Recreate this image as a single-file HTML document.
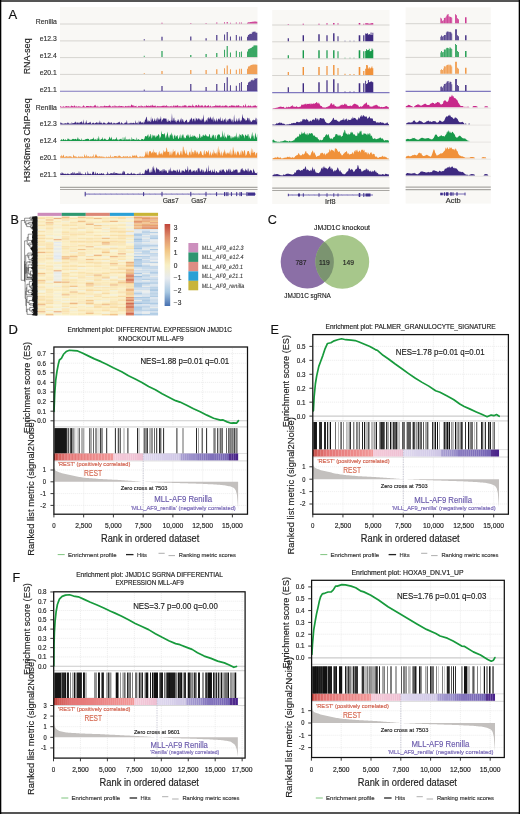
<!DOCTYPE html>
<html><head><meta charset="utf-8"><title>Figure</title>
<style>html,body{margin:0;padding:0;background:#fff;width:520px;height:814px;overflow:hidden}
svg text{font-family:"Liberation Sans", sans-serif}</style></head>
<body><svg width="520" height="814" viewBox="0 0 520 814" style="display:block;will-change:transform"><rect x="60" y="7" width="197.5" height="197" fill="#f9f8f5" />
<line x1="60" y1="24" x2="257.5" y2="24" stroke="#d6d4d0" stroke-width="1" />
<line x1="60" y1="40.9" x2="257.5" y2="40.9" stroke="#d6d4d0" stroke-width="1" />
<line x1="60" y1="57.6" x2="257.5" y2="57.6" stroke="#d6d4d0" stroke-width="1" />
<line x1="60" y1="74.4" x2="257.5" y2="74.4" stroke="#d6d4d0" stroke-width="1" />
<line x1="60" y1="91.3" x2="257.5" y2="91.3" stroke="#8078bf" stroke-width="1.1" />
<line x1="60" y1="108.5" x2="257.5" y2="108.5" stroke="#e2e0dc" stroke-width="0.8" />
<line x1="60" y1="125.3" x2="257.5" y2="125.3" stroke="#e2e0dc" stroke-width="0.8" />
<line x1="60" y1="141.9" x2="257.5" y2="141.9" stroke="#e2e0dc" stroke-width="0.8" />
<line x1="60" y1="158.7" x2="257.5" y2="158.7" stroke="#e2e0dc" stroke-width="0.8" />
<line x1="60" y1="176" x2="257.5" y2="176" stroke="#e2e0dc" stroke-width="0.8" />
<line x1="60" y1="187.3" x2="257.5" y2="187.3" stroke="#a9a7a3" stroke-width="1.2" />
<line x1="60" y1="189.5" x2="257.5" y2="189.5" stroke="#a9a7a3" stroke-width="1.2" />
<rect x="272.2" y="10" width="117.3" height="194" fill="#f9f8f5" />
<line x1="272.2" y1="25" x2="389.5" y2="25" stroke="#d6d4d0" stroke-width="1" />
<line x1="272.2" y1="41.8" x2="389.5" y2="41.8" stroke="#d6d4d0" stroke-width="1" />
<line x1="272.2" y1="58.8" x2="389.5" y2="58.8" stroke="#d6d4d0" stroke-width="1" />
<line x1="272.2" y1="75.5" x2="389.5" y2="75.5" stroke="#d6d4d0" stroke-width="1" />
<line x1="272.2" y1="92.6" x2="389.5" y2="92.6" stroke="#8078bf" stroke-width="1.1" />
<line x1="272.2" y1="109.7" x2="389.5" y2="109.7" stroke="#e2e0dc" stroke-width="0.8" />
<line x1="272.2" y1="126.1" x2="389.5" y2="126.1" stroke="#e2e0dc" stroke-width="0.8" />
<line x1="272.2" y1="143.4" x2="389.5" y2="143.4" stroke="#e2e0dc" stroke-width="0.8" />
<line x1="272.2" y1="160.2" x2="389.5" y2="160.2" stroke="#e2e0dc" stroke-width="0.8" />
<line x1="272.2" y1="177.2" x2="389.5" y2="177.2" stroke="#e2e0dc" stroke-width="0.8" />
<line x1="272.2" y1="188.2" x2="389.5" y2="188.2" stroke="#a9a7a3" stroke-width="1.2" />
<line x1="272.2" y1="190.5" x2="389.5" y2="190.5" stroke="#a9a7a3" stroke-width="1.2" />
<rect x="405.6" y="7.3" width="85.2" height="196.3" fill="#f9f8f5" />
<line x1="405.6" y1="23.7" x2="490.8" y2="23.7" stroke="#d6d4d0" stroke-width="1" />
<line x1="405.6" y1="40.8" x2="490.8" y2="40.8" stroke="#d6d4d0" stroke-width="1" />
<line x1="405.6" y1="57.4" x2="490.8" y2="57.4" stroke="#d6d4d0" stroke-width="1" />
<line x1="405.6" y1="74.3" x2="490.8" y2="74.3" stroke="#d6d4d0" stroke-width="1" />
<line x1="405.6" y1="91.4" x2="490.8" y2="91.4" stroke="#8078bf" stroke-width="1.1" />
<line x1="405.6" y1="108.2" x2="490.8" y2="108.2" stroke="#e2e0dc" stroke-width="0.8" />
<line x1="405.6" y1="125.1" x2="490.8" y2="125.1" stroke="#e2e0dc" stroke-width="0.8" />
<line x1="405.6" y1="142.1" x2="490.8" y2="142.1" stroke="#e2e0dc" stroke-width="0.8" />
<line x1="405.6" y1="159.2" x2="490.8" y2="159.2" stroke="#e2e0dc" stroke-width="0.8" />
<line x1="405.6" y1="176.3" x2="490.8" y2="176.3" stroke="#e2e0dc" stroke-width="0.8" />
<line x1="405.6" y1="187.2" x2="490.8" y2="187.2" stroke="#a9a7a3" stroke-width="1.2" />
<line x1="405.6" y1="189.6" x2="490.8" y2="189.6" stroke="#a9a7a3" stroke-width="1.2" />
<path d="M161.44 23.5h1.12v-0.8h-1.12zM190.24 23.5h1.12v-0.6h-1.12zM205.54 23.5h1.12v-0.6h-1.12zM216.24 23.5h1.12v-1h-1.12zM224.16 23.5h0.88v-1.2h-0.88zM226.68 23.5h1.04v-1.4h-1.04zM229.96 23.5h0.88v-0.8h-0.88zM235.82 23.5h0.96v-1h-0.96zM239.26 23.5h0.88v-1h-0.88zM240.96 23.5h0.88v-1h-0.88zM247 23.5h0.8v-0.75h-0.8zM247.95 23.5h0.8v-1.13h-0.8zM248.9 23.5h0.8v-1.31h-0.8zM249.85 23.5h0.8v-1.38h-0.8zM250.8 23.5h0.8v-1.51h-0.8zM251.75 23.5h0.8v-1.67h-0.8zM252.7 23.5h0.8v-1.65h-0.8zM253.65 23.5h0.8v-1.9h-0.8zM254.6 23.5h0.8v-2.02h-0.8zM255.55 23.5h0.8v-2.1h-0.8zM256.5 23.5h0.8v-1.77h-0.8z" fill="#c8288a" stroke="none" stroke-width="1" />
<path d="M143.8 40.4h0.8v-1.3h-0.8zM161.44 40.4h1.12v-3.6h-1.12zM190.24 40.4h1.12v-4h-1.12zM205.54 40.4h1.12v-2.2h-1.12zM216.24 40.4h1.12v-5.4h-1.12zM224.16 40.4h0.88v-6h-0.88zM226.68 40.4h1.04v-8.4h-1.04zM229.96 40.4h0.88v-3.9h-0.88zM235.82 40.4h0.96v-5.4h-0.96zM239.26 40.4h0.88v-3.9h-0.88zM240.96 40.4h0.88v-3.9h-0.88zM247 40.4h0.8v-3.75h-0.8zM247.95 40.4h0.8v-5.38h-0.8zM248.9 40.4h0.8v-6.11h-0.8zM249.85 40.4h0.8v-6.58h-0.8zM250.8 40.4h0.8v-6.48h-0.8zM251.75 40.4h0.8v-7.97h-0.8zM252.7 40.4h0.8v-8.54h-0.8zM253.65 40.4h0.8v-8.61h-0.8zM254.6 40.4h0.8v-8.81h-0.8zM255.55 40.4h0.8v-7.98h-0.8zM256.5 40.4h0.8v-7.73h-0.8z" fill="#3e2a80" stroke="none" stroke-width="1" />
<path d="M143.8 57.1h0.8v-1.3h-0.8zM161.44 57.1h1.12v-6h-1.12zM190.24 57.1h1.12v-2h-1.12zM205.54 57.1h1.12v-3h-1.12zM216.24 57.1h1.12v-4.2h-1.12zM224.16 57.1h0.88v-7.3h-0.88zM226.68 57.1h1.04v-11h-1.04zM229.96 57.1h0.88v-4.7h-0.88zM235.82 57.1h0.96v-6.3h-0.96zM239.26 57.1h0.88v-5.2h-0.88zM240.96 57.1h0.88v-5.7h-0.88zM247 57.1h0.8v-5.62h-0.8zM247.95 57.1h0.8v-7.91h-0.8zM248.9 57.1h0.8v-8.4h-0.8zM249.85 57.1h0.8v-8.89h-0.8zM250.8 57.1h0.8v-9.13h-0.8zM251.75 57.1h0.8v-10.11h-0.8zM252.7 57.1h0.8v-10.6h-0.8zM253.65 57.1h0.8v-11.86h-0.8zM254.6 57.1h0.8v-11.54h-0.8zM255.55 57.1h0.8v-11.78h-0.8zM256.5 57.1h0.8v-11.5h-0.8z" fill="#18994a" stroke="none" stroke-width="1" />
<path d="M143.8 73.9h0.8v-1h-0.8zM161.44 73.9h1.12v-3h-1.12zM190.24 73.9h1.12v-4h-1.12zM205.54 73.9h1.12v-4h-1.12zM216.24 73.9h1.12v-4.7h-1.12zM224.16 73.9h0.88v-5.7h-0.88zM226.68 73.9h1.04v-8.4h-1.04zM229.96 73.9h0.88v-4.7h-0.88zM235.82 73.9h0.96v-4.2h-0.96zM239.26 73.9h0.88v-5.2h-0.88zM240.96 73.9h0.88v-5.2h-0.88zM247 73.9h0.8v-5.25h-0.8zM247.95 73.9h0.8v-7.36h-0.8zM248.9 73.9h0.8v-7.66h-0.8zM249.85 73.9h0.8v-8.4h-0.8zM250.8 73.9h0.8v-8.86h-0.8zM251.75 73.9h0.8v-9.18h-0.8zM252.7 73.9h0.8v-9.47h-0.8zM253.65 73.9h0.8v-9.37h-0.8zM254.6 73.9h0.8v-9.42h-0.8zM255.55 73.9h0.8v-9.5h-0.8zM256.5 73.9h0.8v-9.2h-0.8z" fill="#f0913a" stroke="none" stroke-width="1" />
<path d="M143.8 90.9h0.8v-1.4h-0.8zM161.44 90.9h1.12v-5h-1.12zM190.24 90.9h1.12v-7h-1.12zM205.54 90.9h1.12v-4h-1.12zM216.24 90.9h1.12v-7h-1.12zM224.16 90.9h0.88v-7.8h-0.88zM226.68 90.9h1.04v-13.6h-1.04zM229.96 90.9h0.88v-5.7h-0.88zM235.82 90.9h0.96v-5.2h-0.96zM239.26 90.9h0.88v-8h-0.88zM240.96 90.9h0.88v-9h-0.88zM247 90.9h0.8v-6h-0.8zM247.95 90.9h0.8v-8.51h-0.8zM248.9 90.9h0.8v-9.25h-0.8zM249.85 90.9h0.8v-9.51h-0.8zM250.8 90.9h0.8v-10.62h-0.8zM251.75 90.9h0.8v-11.12h-0.8zM252.7 90.9h0.8v-10.39h-0.8zM253.65 90.9h0.8v-11.18h-0.8zM254.6 90.9h0.8v-12.82h-0.8zM255.55 90.9h0.8v-11.94h-0.8zM256.5 90.9h0.8v-12.96h-0.8z" fill="#3e2a80" stroke="none" stroke-width="1" />
<path d="M287.7 24.5h1.2v-0.5h-1.2zM302.6 24.5h1.4v-0.8h-1.4zM318.3 24.5h1.4v-0.8h-1.4zM326.4 24.5h1.2v-1.2h-1.2zM333.1 24.5h1.4v-1.5h-1.4zM337.5 24.5h1v-1.2h-1zM358.7 24.5h1.6v-1.5h-1.6zM363.2 24.5h1.2v-0.8h-1.2zM365.2 24.5h0.9v-1.18h-0.9zM366.1 24.5h0.9v-1.33h-0.9zM367 24.5h0.9v-1.33h-0.9zM367.9 24.5h0.9v-0.91h-0.9zM368.8 24.5h0.9v-0.81h-0.9zM369.7 24.5h0.9v-1.1h-0.9zM370.6 24.5h0.9v-1.02h-0.9zM371.5 24.5h0.9v-1.45h-0.9zM372.4 24.5h0.9v-1.35h-0.9z" fill="#c8288a" stroke="none" stroke-width="1" />
<path d="M287.7 41.3h1.2v-3h-1.2zM302.6 41.3h1.4v-6h-1.4zM318.3 41.3h1.4v-7h-1.4zM326.4 41.3h1.2v-6h-1.2zM333.1 41.3h1.4v-8h-1.4zM337.5 41.3h1v-5h-1zM344.5 41.3h1v-0.6h-1zM349.5 41.3h1v-0.6h-1zM353.5 41.3h1v-0.6h-1zM358.7 41.3h1.6v-6h-1.6zM363.2 41.3h1.2v-6h-1.2zM365.2 41.3h0.9v-7.8h-0.9zM366.1 41.3h0.9v-7.67h-0.9zM367 41.3h0.9v-7.98h-0.9zM367.9 41.3h0.9v-6.44h-0.9zM368.8 41.3h0.9v-7.32h-0.9zM369.7 41.3h0.9v-6.49h-0.9zM370.6 41.3h0.9v-8.72h-0.9zM371.5 41.3h0.9v-6.18h-0.9zM372.4 41.3h0.9v-8.46h-0.9z" fill="#3e2a80" stroke="none" stroke-width="1" />
<path d="M287.7 58.3h1.2v-3h-1.2zM302.6 58.3h1.4v-8h-1.4zM318.3 58.3h1.4v-8h-1.4zM326.4 58.3h1.2v-8h-1.2zM333.1 58.3h1.4v-8h-1.4zM337.5 58.3h1v-7h-1zM344.5 58.3h1v-0.6h-1zM349.5 58.3h1v-0.6h-1zM353.5 58.3h1v-0.6h-1zM358.7 58.3h1.6v-8h-1.6zM363.2 58.3h1.2v-7h-1.2zM365.2 58.3h0.9v-7.22h-0.9zM366.1 58.3h0.9v-9.06h-0.9zM367 58.3h0.9v-8.01h-0.9zM367.9 58.3h0.9v-8.21h-0.9zM368.8 58.3h0.9v-9.53h-0.9zM369.7 58.3h0.9v-7.06h-0.9zM370.6 58.3h0.9v-7.18h-0.9zM371.5 58.3h0.9v-9.75h-0.9zM372.4 58.3h0.9v-8.53h-0.9z" fill="#18994a" stroke="none" stroke-width="1" />
<path d="M287.7 75h1.2v-3h-1.2zM302.6 75h1.4v-8h-1.4zM318.3 75h1.4v-8h-1.4zM326.4 75h1.2v-9h-1.2zM333.1 75h1.4v-10h-1.4zM337.5 75h1v-7h-1zM344.5 75h1v-1.2h-1zM349.5 75h1v-1h-1zM353.5 75h1v-1h-1zM358.7 75h1.6v-8h-1.6zM363.2 75h1.2v-4h-1.2zM365.2 75h0.9v-6.36h-0.9zM366.1 75h0.9v-9.95h-0.9zM367 75h0.9v-9.79h-0.9zM367.9 75h0.9v-6.45h-0.9zM368.8 75h0.9v-7.69h-0.9zM369.7 75h0.9v-6.54h-0.9zM370.6 75h0.9v-7.25h-0.9zM371.5 75h0.9v-8.49h-0.9zM372.4 75h0.9v-6.65h-0.9z" fill="#f0913a" stroke="none" stroke-width="1" />
<path d="M287.7 92.2h1.2v-5h-1.2zM302.6 92.2h1.4v-9h-1.4zM318.3 92.2h1.4v-10h-1.4zM326.4 92.2h1.2v-12h-1.2zM333.1 92.2h1.4v-13h-1.4zM337.5 92.2h1v-9h-1zM344.5 92.2h1v-0.6h-1zM349.5 92.2h1v-0.6h-1zM353.5 92.2h1v-0.6h-1zM358.7 92.2h1.6v-9h-1.6zM363.2 92.2h1.2v-9h-1.2zM365.2 92.2h0.9v-11.48h-0.9zM366.1 92.2h0.9v-8.26h-0.9zM367 92.2h0.9v-8.86h-0.9zM367.9 92.2h0.9v-12.08h-0.9zM368.8 92.2h0.9v-10h-0.9zM369.7 92.2h0.9v-10.09h-0.9zM370.6 92.2h0.9v-10.98h-0.9zM371.5 92.2h0.9v-10.38h-0.9zM372.4 92.2h0.9v-9.92h-0.9z" fill="#3e2a80" stroke="none" stroke-width="1" />
<path d="M440.23 23.2h0.55v-5.33h-0.55zM441.05 23.2h0.8v-4.76h-0.8zM442 23.2h0.8v-2.38h-0.8zM443.08 23.2h0.55v-2.93h-0.55zM443.9 23.2h0.8v-5.27h-0.8zM444.85 23.2h0.8v-5.75h-0.8zM445.93 23.2h0.55v-6.98h-0.55zM446.75 23.2h0.8v-8.4h-0.8zM447.7 23.2h0.8v-9.12h-0.8zM448.78 23.2h0.55v-6.96h-0.55zM449.6 23.2h0.8v-6.51h-0.8zM450.55 23.2h0.8v-6.17h-0.8zM451.62 23.2h0.55v-5.37h-0.55zM455.2 23.2h0.8v-9h-0.8zM456.15 23.2h0.8v-8h-0.8zM457.1 23.2h0.8v-5h-0.8zM458.05 23.2h0.8v-4h-0.8zM465.1 23.2h1.4v-6h-1.4z" fill="#c8288a" stroke="none" stroke-width="1" />
<path d="M440.23 40.3h0.55v-3.66h-0.55zM441.05 40.3h0.8v-4.88h-0.8zM442 40.3h0.8v-3.77h-0.8zM443.08 40.3h0.55v-4.26h-0.55zM443.9 40.3h0.8v-5.35h-0.8zM444.85 40.3h0.8v-5.23h-0.8zM445.93 40.3h0.55v-7.85h-0.55zM446.75 40.3h0.8v-8.74h-0.8zM447.7 40.3h0.8v-8.74h-0.8zM448.78 40.3h0.55v-8.28h-0.55zM449.6 40.3h0.8v-8.66h-0.8zM450.55 40.3h0.8v-7.94h-0.8zM451.62 40.3h0.55v-6.78h-0.55zM455.2 40.3h0.8v-11h-0.8zM456.15 40.3h0.8v-11h-0.8zM457.1 40.3h0.8v-5h-0.8zM458.05 40.3h0.8v-4h-0.8zM465.1 40.3h1.4v-5h-1.4z" fill="#3e2a80" stroke="none" stroke-width="1" />
<path d="M440.23 56.9h0.55v-4.44h-0.55zM441.05 56.9h0.8v-5.86h-0.8zM442 56.9h0.8v-4.62h-0.8zM443.08 56.9h0.55v-4.82h-0.55zM443.9 56.9h0.8v-7.48h-0.8zM444.85 56.9h0.8v-7.32h-0.8zM445.93 56.9h0.55v-8.59h-0.55zM446.75 56.9h0.8v-9.14h-0.8zM447.7 56.9h0.8v-8.97h-0.8zM448.78 56.9h0.55v-8.24h-0.55zM449.6 56.9h0.8v-9.73h-0.8zM450.55 56.9h0.8v-8.73h-0.8zM451.62 56.9h0.55v-7.98h-0.55zM455.2 56.9h0.8v-13h-0.8zM456.15 56.9h0.8v-12h-0.8zM457.1 56.9h0.8v-6h-0.8zM458.05 56.9h0.8v-5h-0.8zM465.1 56.9h1.4v-6h-1.4z" fill="#18994a" stroke="none" stroke-width="1" />
<path d="M440.23 73.8h0.55v-3.81h-0.55zM441.05 73.8h0.8v-4.67h-0.8zM442 73.8h0.8v-3.85h-0.8zM443.08 73.8h0.55v-5.22h-0.55zM443.9 73.8h0.8v-7.61h-0.8zM444.85 73.8h0.8v-7.33h-0.8zM445.93 73.8h0.55v-8.33h-0.55zM446.75 73.8h0.8v-8.8h-0.8zM447.7 73.8h0.8v-9.28h-0.8zM448.78 73.8h0.55v-8.44h-0.55zM449.6 73.8h0.8v-9.19h-0.8zM450.55 73.8h0.8v-8.47h-0.8zM451.62 73.8h0.55v-7.27h-0.55zM455.2 73.8h0.8v-12h-0.8zM456.15 73.8h0.8v-12h-0.8zM457.1 73.8h0.8v-6h-0.8zM458.05 73.8h0.8v-5h-0.8zM465.1 73.8h1.4v-6h-1.4z" fill="#f0913a" stroke="none" stroke-width="1" />
<path d="M440.23 91h0.55v-4.35h-0.55zM441.05 91h0.8v-4.62h-0.8zM442 91h0.8v-3.54h-0.8zM443.08 91h0.55v-5.31h-0.55zM443.9 91h0.8v-7.03h-0.8zM444.85 91h0.8v-7.24h-0.8zM445.93 91h0.55v-8.18h-0.55zM446.75 91h0.8v-9.48h-0.8zM447.7 91h0.8v-9.93h-0.8zM448.78 91h0.55v-8.18h-0.55zM449.6 91h0.8v-9.58h-0.8zM450.55 91h0.8v-8.91h-0.8zM451.62 91h0.55v-6.85h-0.55zM455.2 91h0.8v-12h-0.8zM456.15 91h0.8v-12h-0.8zM457.1 91h0.8v-6h-0.8zM458.05 91h0.8v-5h-0.8zM465.1 91h1.4v-6h-1.4z" fill="#3e2a80" stroke="none" stroke-width="1" />
<path d="M60.3 107.6L60.3 106.08L60.85 106.04L61.4 106.94L61.95 106.63L62.5 106.77L63.05 106.75L63.6 106.02L64.15 106.99L64.7 106.77L65.25 106.46L65.8 106.34L66.35 106.07L66.9 106.37L67.45 106.42L68 106.22L68.55 106.14L69.1 106.3L69.65 106.8L70.2 106.94L70.75 106.25L71.3 105.3L71.85 106.37L72.4 105.88L72.95 106.21L73.5 106.81L74.05 105.4L74.6 105.55L75.15 106.35L75.7 106.77L76.25 106.75L76.8 105.82L77.35 106.77L77.9 106.67L78.45 106.33L79 106.23L79.55 106.58L80.1 106.78L80.65 106.58L81.2 107L81.75 106.79L82.3 106.81L82.85 106.25L83.4 105L83.95 106.31L84.5 106.15L85.05 106.98L85.6 106.89L86.15 106.09L86.7 106.12L87.25 106L87.8 106.06L88.35 106.06L88.9 106.34L89.45 106.39L90 105.98L90.55 105.84L91.1 106.72L91.65 105.94L92.2 105.94L92.75 106.89L93.3 105.88L93.85 106.76L94.4 104.79L94.95 106.11L95.5 104.53L96.05 106.54L96.6 106.74L97.15 105.39L97.7 106.79L98.25 106.8L98.8 106.38L99.35 106.95L99.9 106.57L100.45 106.31L101 106.61L101.55 106.07L102.1 106.88L102.65 106L103.2 106.6L103.75 106.17L104.3 105.97L104.85 105.22L105.4 106.36L105.95 106.25L106.5 106.08L107.05 105.91L107.6 106.22L108.15 106.15L108.7 105.84L109.25 106.05L109.8 104.54L110.35 106.14L110.9 106.24L111.45 106.75L112 106.87L112.55 105.85L113.1 106.71L113.65 106.37L114.2 104.89L114.75 106.96L115.3 105.24L115.85 106.68L116.4 105.88L116.95 106.58L117.5 106.54L118.05 106.09L118.6 106.47L119.15 105.27L119.7 106.52L120.25 106.37L120.8 106.05L121.35 105.92L121.9 106.02L122.45 106.38L123 105.88L123.55 106.47L124.1 106.82L124.65 106.79L125.2 105.8L125.75 106.33L126.3 106.05L126.85 106.66L127.4 105.81L127.95 106.67L128.5 105.96L129.05 105.46L129.6 106.45L130.15 106.6L130.7 106.34L131.25 104.61L131.8 104.81L132.35 105.04L132.9 106.04L133.45 104.97L134 106.94L134.55 105.85L135.1 106.11L135.65 106.13L136.2 105.42L136.75 106.88L137.3 106.81L137.85 106.91L138.4 105.8L138.95 106.26L139.5 105.83L140.05 106.96L140.6 105.96L141.15 105.03L141.7 106.44L142.25 106.14L142.8 106.01L143.35 106.8L143.9 106.31L144.45 106.41L145 105.62L145.55 106.77L146.1 106.08L146.65 105.09L147.2 105.92L147.75 105.95L148.3 105.32L148.85 106.39L149.4 105.71L149.95 106.36L150.5 105.04L151.05 106.65L151.6 105.39L152.15 104.44L152.7 105.43L153.25 106.33L153.8 105.46L154.35 105.86L154.9 105.97L155.45 105.32L156 106.66L156.55 106.73L157.1 105.67L157.65 106.35L158.2 105.94L158.75 106.55L159.3 106.28L159.85 106.28L160.4 106.07L160.95 106.72L161.5 106.01L162.05 105.91L162.6 105.71L163.15 105.71L163.7 105.69L164.25 105.33L164.8 106.58L165.35 105.93L165.9 105.85L166.45 104.83L167 106.71L167.55 105.7L168.1 106.68L168.65 105.98L169.2 106.83L169.75 106.28L170.3 106.06L170.85 106.49L171.4 106.42L171.95 105.5L172.5 106.74L173.05 106.45L173.6 105.2L174.15 105.15L174.7 106.69L175.25 105.55L175.8 105.79L176.35 105.59L176.9 106.24L177.45 105.04L178 105.34L178.55 106.38L179.1 106.48L179.65 105.66L180.2 106.76L180.75 105.63L181.3 106.33L181.85 106.81L182.4 105.26L182.95 106.69L183.5 105.66L184.05 105.21L184.6 105.53L185.15 105.15L185.7 105.16L186.25 106.75L186.8 105.34L187.35 106.74L187.9 106.49L188.45 105.56L189 106L189.55 105.54L190.1 106L190.65 105.76L191.2 105.85L191.75 106.74L192.3 103.7L192.85 106.22L193.4 105.74L193.95 105.8L194.5 106.69L195.05 106.45L195.6 105.24L196.15 105.07L196.7 105.35L197.25 105.66L197.8 106.51L198.35 104.21L198.9 105.33L199.45 105.56L200 106.64L200.55 105.87L201.1 105.15L201.65 105.49L202.2 106.3L202.75 104.83L203.3 106.58L203.85 106.77L204.4 105.92L204.95 105.03L205.5 105.31L206.05 105.91L206.6 106.46L207.15 106.09L207.7 105.77L208.25 105.22L208.8 105.3L209.35 106.41L209.9 106.82L210.45 105.16L211 106.5L211.55 106.73L212.1 106.53L212.65 106.21L213.2 106.6L213.75 106.1L214.3 105.98L214.85 106.36L215.4 104.5L215.95 106.61L216.5 105.59L217.05 105.36L217.6 105.98L218.15 105.36L218.7 106.23L219.25 105.72L219.8 105.32L220.35 105.32L220.9 106.67L221.45 106.2L222 105.87L222.55 105.41L223.1 106.67L223.65 105.56L224.2 106.33L224.75 105.68L225.3 104.96L225.85 105.73L226.4 105.69L226.95 105.33L227.5 106.16L228.05 106.65L228.6 106.5L229.15 106.02L229.7 105.8L230.25 106.42L230.8 105.5L231.35 105.31L231.9 105.62L232.45 105.17L233 106L233.55 105.58L234.1 105.53L234.65 105.69L235.2 106.63L235.75 105.69L236.3 105.48L236.85 105.38L237.4 106.26L237.95 104.87L238.5 105.6L239.05 105.13L239.6 106.49L240.15 106.42L240.7 106.06L241.25 106.34L241.8 106.53L242.35 106.69L242.9 106.29L243.45 104.68L244 105.87L244.55 106.76L245.1 105.74L245.65 103.62L246.2 106.15L246.75 106.78L247.3 105.67L247.85 106.76L248.4 105.56L248.95 105.22L249.5 106.61L250.05 105.73L250.6 105.2L251.15 106.82L251.7 105.95L252.25 106.71L252.8 105.8L253.35 106.23L253.9 105.25L254.45 105.7L255 105.58L255.55 105.35L256.1 106.02L256.65 106.43L257.2 105.4L257.2 107.6z" fill="#c8288a" stroke="none" stroke-width="1" />
<path d="M60.3 124.4L60.3 122.9L60.85 122.22L61.4 123.1L61.95 123.54L62.5 123.41L63.05 123.55L63.6 123.8L64.15 123.76L64.7 123.27L65.25 123.35L65.8 123.21L66.35 123.16L66.9 123.72L67.45 122.72L68 122.37L68.55 123.25L69.1 123.21L69.65 123.91L70.2 122.98L70.75 123.88L71.3 123.9L71.85 122.05L72.4 123.8L72.95 122.71L73.5 123.28L74.05 123.08L74.6 122.38L75.15 122.39L75.7 121.33L76.25 123.86L76.8 122.25L77.35 122.44L77.9 122.68L78.45 122.5L79 123.67L79.55 122.53L80.1 122.35L80.65 122.35L81.2 122.24L81.75 120.92L82.3 122.71L82.85 123.82L83.4 119.21L83.95 123.48L84.5 123.72L85.05 122.33L85.6 123.75L86.15 119.77L86.7 122.41L87.25 122.92L87.8 123.5L88.35 122.76L88.9 122.98L89.45 122.27L90 122.73L90.55 121.53L91.1 123.8L91.65 123.71L92.2 123.27L92.75 122.75L93.3 122.71L93.85 122.75L94.4 123.7L94.95 123.36L95.5 122.63L96.05 123.15L96.6 122.09L97.15 122.17L97.7 123.15L98.25 123.45L98.8 122.25L99.35 123.1L99.9 120.19L100.45 123.12L101 122.84L101.55 122.61L102.1 123.81L102.65 123.45L103.2 122.7L103.75 122.52L104.3 122.64L104.85 122.66L105.4 123.45L105.95 123.54L106.5 123.75L107.05 123.58L107.6 122.64L108.15 122.75L108.7 121.51L109.25 123.01L109.8 122.3L110.35 123.52L110.9 122.27L111.45 122.28L112 122.9L112.55 123.69L113.1 123.85L113.65 122.67L114.2 122.86L114.75 123.21L115.3 123.82L115.85 122.99L116.4 123.4L116.95 122.65L117.5 122.94L118.05 122.42L118.6 122.59L119.15 121.46L119.7 122.34L120.25 123.57L120.8 123.63L121.35 122.29L121.9 122.59L122.45 123.58L123 123.53L123.55 123.86L124.1 123.69L124.65 122.75L125.2 122.72L125.75 122.53L126.3 122.83L126.85 119.75L127.4 123.76L127.95 123.27L128.5 123.84L129.05 122.64L129.6 123.7L130.15 122.45L130.7 123.59L131.25 122.52L131.8 123.45L132.35 122.64L132.9 123.42L133.45 122.59L134 123.06L134.55 123.18L135.1 123.84L135.65 119.93L136.2 123.42L136.75 122.82L137.3 122.26L137.85 123.68L138.4 123.81L138.95 120.19L139.5 122.36L140.05 122.49L140.6 120.71L141.15 122.4L141.7 122.66L142.25 122.23L142.8 122.58L143.35 123.82L143.9 121.13L144.45 122.66L145 119.73L145.55 119.7L146.1 117.51L146.65 116.58L147.2 119.74L147.75 122.09L148.3 120.06L148.85 121.97L149.4 120.46L149.95 121.81L150.5 122.32L151.05 116.33L151.6 121.9L152.15 118L152.7 118.89L153.25 121.41L153.8 121.01L154.35 119.63L154.9 118.01L155.45 121.02L156 121.15L156.55 117.73L157.1 121.88L157.65 116.78L158.2 120.4L158.75 118.07L159.3 120.35L159.85 118.48L160.4 119.1L160.95 115.69L161.5 122.04L162.05 120.56L162.6 119.45L163.15 119.07L163.7 117.96L164.25 118.34L164.8 118.83L165.35 118.91L165.9 118.1L166.45 119.01L167 121.92L167.55 121.8L168.1 118.69L168.65 121.46L169.2 121.01L169.75 120.39L170.3 122.51L170.85 120.13L171.4 120.77L171.95 113.24L172.5 120.23L173.05 121.26L173.6 118.23L174.15 117.6L174.7 121.2L175.25 119.63L175.8 121.95L176.35 122.57L176.9 120.51L177.45 121.22L178 118.75L178.55 120.01L179.1 121.52L179.65 122.59L180.2 118.33L180.75 120.96L181.3 117.54L181.85 122.29L182.4 119.4L182.95 118.98L183.5 121.19L184.05 122.28L184.6 122.2L185.15 120.68L185.7 120.93L186.25 119.66L186.8 119.81L187.35 122.33L187.9 122.61L188.45 122.13L189 121.86L189.55 121.22L190.1 118.38L190.65 120.26L191.2 118.14L191.75 117.51L192.3 121.88L192.85 119.06L193.4 118.94L193.95 118.28L194.5 121.74L195.05 116.92L195.6 121.82L196.15 118.88L196.7 118.02L197.25 118.64L197.8 120.47L198.35 118.35L198.9 118.44L199.45 118.65L200 120.54L200.55 120.27L201.1 118.19L201.65 121.37L202.2 118.16L202.75 120.32L203.3 114.25L203.85 118.86L204.4 122.69L204.95 120.95L205.5 122.07L206.05 119.47L206.6 120.09L207.15 122.12L207.7 118.1L208.25 118.64L208.8 116.84L209.35 118.15L209.9 119.53L210.45 116.2L211 118.06L211.55 118.91L212.1 120.61L212.65 116.83L213.2 122.39L213.75 116.06L214.3 121.27L214.85 118.59L215.4 121.9L215.95 120.38L216.5 117.68L217.05 121.93L217.6 120.46L218.15 119.2L218.7 118.38L219.25 118.55L219.8 120.17L220.35 116.56L220.9 121.23L221.45 120.48L222 121.62L222.55 117.77L223.1 121.76L223.65 120.56L224.2 119.03L224.75 120.1L225.3 117.61L225.85 121.38L226.4 122.53L226.95 118.99L227.5 120.47L228.05 121.39L228.6 119.07L229.15 119.18L229.7 118.43L230.25 118.57L230.8 119.64L231.35 122.01L231.9 118.89L232.45 120.08L233 122.63L233.55 121.31L234.1 114.2L234.65 120.25L235.2 121.93L235.75 121.25L236.3 120.55L236.85 118.04L237.4 120.91L237.95 121.78L238.5 119.14L239.05 117.47L239.6 120.01L240.15 122.22L240.7 120.17L241.25 120.75L241.8 119.64L242.35 113.82L242.9 117.28L243.45 118.47L244 117.79L244.55 119.8L245.1 118.67L245.65 121.09L246.2 120.09L246.75 120.73L247.3 118.13L247.85 117.59L248.4 118.18L248.95 120.73L249.5 117.42L250.05 122.41L250.6 119.7L251.15 121.9L251.7 121.83L252.25 120.63L252.8 120.02L253.35 119.44L253.9 120.57L254.45 119.99L255 120.16L255.55 117.34L256.1 122.41L256.65 117.58L257.2 119.59L257.2 124.4z" fill="#3e2a80" stroke="none" stroke-width="1" />
<path d="M60.3 141L60.3 140.21L60.85 140.17L61.4 139.35L61.95 139.34L62.5 140.41L63.05 139.33L63.6 138.85L64.15 139.78L64.7 140.25L65.25 139.2L65.8 139.66L66.35 140.07L66.9 140.22L67.45 139.31L68 138.1L68.55 139.2L69.1 139.09L69.65 139.74L70.2 140.18L70.75 139.39L71.3 139.68L71.85 139.67L72.4 138.83L72.95 139.29L73.5 138.72L74.05 139.32L74.6 139.21L75.15 139.1L75.7 138.78L76.25 139.49L76.8 139.5L77.35 138.74L77.9 137.08L78.45 138.84L79 140.01L79.55 138.73L80.1 139.65L80.65 140.08L81.2 140.22L81.75 138L82.3 140.21L82.85 140.21L83.4 139.9L83.95 139.72L84.5 140.14L85.05 139.1L85.6 139.62L86.15 138.94L86.7 138.91L87.25 138.49L87.8 139.01L88.35 138.92L88.9 138.77L89.45 140.48L90 140.08L90.55 139.18L91.1 139.17L91.65 139.3L92.2 138.93L92.75 139.03L93.3 137.25L93.85 138.71L94.4 139.65L94.95 139.59L95.5 138.7L96.05 140.24L96.6 139.64L97.15 137.75L97.7 139.96L98.25 138.76L98.8 135.84L99.35 139.08L99.9 140.43L100.45 139.45L101 139.61L101.55 138.8L102.1 139.18L102.65 136.73L103.2 140.29L103.75 139.28L104.3 138.62L104.85 138.66L105.4 138.84L105.95 139.86L106.5 139.82L107.05 140.04L107.6 140.11L108.15 139.2L108.7 139.58L109.25 137.61L109.8 136.44L110.35 138.63L110.9 138.64L111.45 136.43L112 138.9L112.55 139.67L113.1 139.78L113.65 138.67L114.2 139.89L114.75 139.1L115.3 139.21L115.85 138.91L116.4 136.87L116.95 138.89L117.5 139.99L118.05 138.75L118.6 140.45L119.15 140.08L119.7 138.95L120.25 139.2L120.8 138.67L121.35 138.77L121.9 140.03L122.45 140.17L123 136.59L123.55 139.68L124.1 140.37L124.65 137.78L125.2 136.29L125.75 140.33L126.3 139.8L126.85 138.82L127.4 139.94L127.95 138.95L128.5 139.3L129.05 140.13L129.6 138.71L130.15 138.9L130.7 140.46L131.25 139.96L131.8 136.75L132.35 139.79L132.9 138.91L133.45 139.1L134 139.33L134.55 139.8L135.1 139.28L135.65 140.04L136.2 140.19L136.75 137.14L137.3 139.85L137.85 140.04L138.4 138.66L138.95 139.8L139.5 139.74L140.05 140.2L140.6 139.88L141.15 139.45L141.7 138.63L142.25 139.09L142.8 139.08L143.35 140.12L143.9 139.06L144.45 138.65L145 136.39L145.55 135.89L146.1 136.06L146.65 136.63L147.2 135.98L147.75 134.74L148.3 134.27L148.85 138.18L149.4 135.39L149.95 137.2L150.5 133.85L151.05 134.43L151.6 138.68L152.15 137.48L152.7 134.25L153.25 136.42L153.8 135.02L154.35 135.17L154.9 136.55L155.45 138.12L156 134.63L156.55 137.34L157.1 135.45L157.65 136.15L158.2 134.34L158.75 134.19L159.3 135.43L159.85 138.67L160.4 136.98L160.95 136.24L161.5 130.38L162.05 134.07L162.6 134.07L163.15 134.36L163.7 134.58L164.25 132.99L164.8 134.09L165.35 136.71L165.9 138.57L166.45 135.64L167 134.13L167.55 131.55L168.1 135.15L168.65 138.21L169.2 134.78L169.75 138.74L170.3 134.36L170.85 134.93L171.4 132.19L171.95 136.16L172.5 134.07L173.05 139.07L173.6 138.82L174.15 134.35L174.7 135.88L175.25 135.35L175.8 138.29L176.35 136L176.9 135.7L177.45 134.74L178 137.88L178.55 139.23L179.1 138.09L179.65 136.36L180.2 134.09L180.75 138.31L181.3 138.24L181.85 135.18L182.4 135.8L182.95 133.76L183.5 135.39L184.05 139.11L184.6 137.06L185.15 138L185.7 138.61L186.25 134.9L186.8 136.08L187.35 134.08L187.9 136.79L188.45 134.1L189 137.25L189.55 138.04L190.1 133.79L190.65 137.05L191.2 136.85L191.75 136.38L192.3 136.95L192.85 134.79L193.4 137.07L193.95 135.24L194.5 135.79L195.05 136.13L195.6 136.83L196.15 136.88L196.7 138.05L197.25 138.9L197.8 136.37L198.35 137.88L198.9 138.37L199.45 133.82L200 133.88L200.55 137.99L201.1 137.46L201.65 136.11L202.2 137.18L202.75 135.36L203.3 134.43L203.85 135.76L204.4 135.93L204.95 135.29L205.5 133.75L206.05 136.51L206.6 134.99L207.15 137.11L207.7 136.11L208.25 135.94L208.8 137.37L209.35 133.79L209.9 134.61L210.45 138.18L211 137.36L211.55 138.56L212.1 134.18L212.65 136.86L213.2 134.83L213.75 134.84L214.3 139.2L214.85 135.68L215.4 134.8L215.95 138.76L216.5 139.21L217.05 135.89L217.6 135.31L218.15 133.92L218.7 134.69L219.25 134.43L219.8 134.63L220.35 137.72L220.9 136.9L221.45 136.17L222 137.91L222.55 130.32L223.1 135.12L223.65 137.13L224.2 132.02L224.75 138.46L225.3 136.65L225.85 136.37L226.4 138.87L226.95 136.89L227.5 135.08L228.05 134.01L228.6 136.15L229.15 135.86L229.7 135.05L230.25 135.94L230.8 138.48L231.35 138.6L231.9 135.92L232.45 137.18L233 138.4L233.55 136.44L234.1 137.69L234.65 136.17L235.2 135.53L235.75 137.8L236.3 132.34L236.85 137.55L237.4 136.14L237.95 139.04L238.5 135.25L239.05 139.04L239.6 133.45L240.15 135.18L240.7 134.45L241.25 136.83L241.8 134.13L242.35 134.44L242.9 133.93L243.45 135.79L244 135.45L244.55 138.74L245.1 134.87L245.65 134.57L246.2 136.2L246.75 135.6L247.3 136.02L247.85 134.05L248.4 134.37L248.95 138.69L249.5 135.57L250.05 138.93L250.6 138.55L251.15 137.39L251.7 134.99L252.25 131.76L252.8 136.79L253.35 135.06L253.9 138.57L254.45 138.97L255 134.69L255.55 132.56L256.1 137.38L256.65 137.16L257.2 133.81L257.2 141z" fill="#18994a" stroke="none" stroke-width="1" />
<path d="M60.3 157.8L60.3 156.01L60.85 156.38L61.4 154.58L61.95 157.24L62.5 156.14L63.05 155.55L63.6 154.53L64.15 157.26L64.7 156.66L65.25 156.82L65.8 156.38L66.35 156.29L66.9 156.23L67.45 156.88L68 156.06L68.55 156.73L69.1 157.01L69.65 156L70.2 156.13L70.75 156.4L71.3 156.72L71.85 156.81L72.4 157.27L72.95 157.27L73.5 154.14L74.05 155.99L74.6 156.6L75.15 156.4L75.7 156.62L76.25 156.85L76.8 156.77L77.35 157.32L77.9 157.35L78.45 156.16L79 156.6L79.55 157.08L80.1 156.58L80.65 156.87L81.2 156.94L81.75 156.44L82.3 156.43L82.85 156.64L83.4 156.97L83.95 157.15L84.5 153.69L85.05 156.16L85.6 156.43L86.15 156.93L86.7 154.17L87.25 156.51L87.8 156.8L88.35 156.17L88.9 156.37L89.45 156.95L90 156.66L90.55 156.56L91.1 156.27L91.65 157.22L92.2 156.13L92.75 156.63L93.3 153.8L93.85 157.38L94.4 157.06L94.95 156.44L95.5 153.64L96.05 156.29L96.6 153.99L97.15 156.65L97.7 156.29L98.25 156.26L98.8 157.06L99.35 156.31L99.9 156.33L100.45 156.73L101 156.46L101.55 156.67L102.1 156.01L102.65 157.26L103.2 156.53L103.75 157L104.3 156.75L104.85 157.34L105.4 157.38L105.95 156.66L106.5 156.54L107.05 156.9L107.6 157.13L108.15 156.48L108.7 156.76L109.25 157.02L109.8 156.95L110.35 154.38L110.9 157.25L111.45 156.98L112 156.72L112.55 156.66L113.1 156.41L113.65 157.36L114.2 156.34L114.75 156.01L115.3 156.23L115.85 156.03L116.4 156.07L116.95 157.03L117.5 157.05L118.05 155.21L118.6 156.75L119.15 155.12L119.7 156.16L120.25 156.24L120.8 156.46L121.35 156.98L121.9 157.1L122.45 157.1L123 156.43L123.55 156.19L124.1 156.1L124.65 156.98L125.2 156.64L125.75 156.28L126.3 156.35L126.85 157.03L127.4 156.01L127.95 156.39L128.5 157.24L129.05 156.56L129.6 156.73L130.15 155.82L130.7 156.95L131.25 157.21L131.8 156.93L132.35 156.07L132.9 154.63L133.45 155.98L134 156.18L134.55 154.71L135.1 156.89L135.65 155.16L136.2 156.09L136.75 154.44L137.3 156.88L137.85 156.83L138.4 157.02L138.95 157.4L139.5 156.27L140.05 156.98L140.6 156.04L141.15 157.28L141.7 156.6L142.25 156.69L142.8 156.58L143.35 156.87L143.9 156.97L144.45 156.34L145 155.21L145.55 152.13L146.1 151.04L146.65 155.08L147.2 150.56L147.75 154.77L148.3 155.85L148.85 152.57L149.4 151.06L149.95 151.41L150.5 150.92L151.05 152.05L151.6 153.83L152.15 152.1L152.7 152.82L153.25 148.73L153.8 153.87L154.35 151.44L154.9 152.54L155.45 153.08L156 152.07L156.55 152.44L157.1 155.7L157.65 154.13L158.2 155.52L158.75 152.55L159.3 150.68L159.85 154.13L160.4 153.16L160.95 154.65L161.5 153.26L162.05 152.29L162.6 155.49L163.15 152.77L163.7 149.63L164.25 152.28L164.8 151.44L165.35 150.91L165.9 152.66L166.45 147.31L167 148.46L167.55 152.31L168.1 151.68L168.65 152.06L169.2 151.32L169.75 155.56L170.3 154.79L170.85 150.92L171.4 155.68L171.95 150.74L172.5 154.66L173.05 148.62L173.6 152.52L174.15 151.57L174.7 151.16L175.25 150.21L175.8 155.48L176.35 155.28L176.9 153.81L177.45 152.85L178 151.2L178.55 152.89L179.1 155.16L179.65 155.07L180.2 153.26L180.75 150.76L181.3 151.36L181.85 154.68L182.4 154.39L182.95 146.14L183.5 147.25L184.05 152.98L184.6 149.27L185.15 153.27L185.7 153.82L186.25 153.47L186.8 149.37L187.35 154.92L187.9 154.86L188.45 155.63L189 152.91L189.55 151.74L190.1 151.52L190.65 155.77L191.2 147.55L191.75 155.31L192.3 151.65L192.85 151.77L193.4 151.88L193.95 154.54L194.5 150.53L195.05 150.34L195.6 150.7L196.15 154.23L196.7 151.24L197.25 152.98L197.8 151.02L198.35 154.9L198.9 153.4L199.45 153.95L200 151.51L200.55 151.23L201.1 151.25L201.65 152.94L202.2 155.19L202.75 154.82L203.3 155.67L203.85 151.55L204.4 149.64L204.95 154.37L205.5 154.19L206.05 151.2L206.6 151.03L207.15 151.94L207.7 152.97L208.25 149.72L208.8 151.63L209.35 155.94L209.9 153.58L210.45 151L211 154.69L211.55 155.7L212.1 152.06L212.65 153.45L213.2 154.85L213.75 149.28L214.3 152.04L214.85 153.44L215.4 152.72L215.95 154.58L216.5 151.43L217.05 155.95L217.6 151.74L218.15 145.82L218.7 151.79L219.25 153.29L219.8 148.76L220.35 156.05L220.9 153.34L221.45 151.08L222 156.05L222.55 155.18L223.1 151.79L223.65 154.07L224.2 149.1L224.75 151.46L225.3 154.56L225.85 151.07L226.4 154.98L226.95 152.77L227.5 152.42L228.05 154.13L228.6 152.34L229.15 154.42L229.7 151L230.25 155.39L230.8 148.7L231.35 153.06L231.9 155.69L232.45 153.41L233 146.35L233.55 149.67L234.1 151.59L234.65 155.21L235.2 150.94L235.75 154.07L236.3 155.45L236.85 152.83L237.4 151.86L237.95 150.72L238.5 151.99L239.05 153.32L239.6 155.31L240.15 154.99L240.7 150.8L241.25 155.43L241.8 149.83L242.35 152.06L242.9 150.52L243.45 154.29L244 150.82L244.55 149.69L245.1 151.81L245.65 155.96L246.2 155.29L246.75 154.27L247.3 151.76L247.85 151.02L248.4 150.89L248.95 151.13L249.5 153.52L250.05 154.57L250.6 155.96L251.15 147.43L251.7 152.56L252.25 153.33L252.8 148.43L253.35 152.84L253.9 152.83L254.45 151.8L255 152.2L255.55 155.94L256.1 153.62L256.65 152.77L257.2 152.38L257.2 157.8z" fill="#f0913a" stroke="none" stroke-width="1" />
<path d="M60.3 175.1L60.3 173.07L60.85 173.44L61.4 174.1L61.95 171.75L62.5 173.17L63.05 173.57L63.6 173.58L64.15 173.69L64.7 174.12L65.25 173.61L65.8 173.88L66.35 174.22L66.9 173.71L67.45 173.66L68 173.28L68.55 173.97L69.1 174.07L69.65 174.32L70.2 174.58L70.75 173.32L71.3 173.61L71.85 173.01L72.4 171.75L72.95 174.41L73.5 172.08L74.05 174.63L74.6 171.68L75.15 173.47L75.7 173.75L76.25 173.46L76.8 173.26L77.35 173.23L77.9 173.26L78.45 173.79L79 170.48L79.55 174.32L80.1 171.43L80.65 173.68L81.2 173.64L81.75 173.72L82.3 173.6L82.85 174.63L83.4 174.3L83.95 174.1L84.5 174.51L85.05 174.27L85.6 171.69L86.15 174.56L86.7 174.27L87.25 174.26L87.8 170.7L88.35 173.72L88.9 173.74L89.45 173.83L90 174.29L90.55 173.37L91.1 174.2L91.65 174.43L92.2 173.37L92.75 171.46L93.3 171.98L93.85 171.6L94.4 174.37L94.95 174.14L95.5 171.37L96.05 174.45L96.6 173.84L97.15 173.31L97.7 172.63L98.25 174.13L98.8 173.94L99.35 173.54L99.9 173.63L100.45 173.71L101 173.69L101.55 173.11L102.1 173.17L102.65 174.31L103.2 173.29L103.75 173.42L104.3 174.41L104.85 174.6L105.4 174.44L105.95 174.65L106.5 173.65L107.05 174.53L107.6 171.43L108.15 173.02L108.7 174.59L109.25 173.64L109.8 173.96L110.35 173.56L110.9 173.08L111.45 173.03L112 173.8L112.55 173.12L113.1 173.93L113.65 171.68L114.2 174.2L114.75 171.41L115.3 173.17L115.85 173.36L116.4 173.08L116.95 173.3L117.5 173.59L118.05 173.27L118.6 173.81L119.15 173.7L119.7 173.41L120.25 174.19L120.8 173.12L121.35 173.5L121.9 174.4L122.45 170.92L123 174.06L123.55 170.45L124.1 171.83L124.65 171.2L125.2 174.36L125.75 174.32L126.3 174.05L126.85 174.45L127.4 173L127.95 173.68L128.5 173.45L129.05 173.66L129.6 174.12L130.15 174.34L130.7 173.6L131.25 172.14L131.8 173.5L132.35 173.8L132.9 174.35L133.45 173.39L134 173.29L134.55 173.7L135.1 173.81L135.65 174.32L136.2 174.32L136.75 174.49L137.3 173.65L137.85 173.95L138.4 173.48L138.95 174.53L139.5 173.63L140.05 171.86L140.6 174.14L141.15 174.14L141.7 174.34L142.25 173.83L142.8 173.25L143.35 173.74L143.9 174L144.45 173.57L145 170.5L145.55 169.54L146.1 171.32L146.65 170.57L147.2 168.56L147.75 170.88L148.3 168.78L148.85 168.45L149.4 173.12L149.95 171.71L150.5 173.07L151.05 169.01L151.6 172.26L152.15 172.18L152.7 166.39L153.25 169.02L153.8 165.41L154.35 169.53L154.9 170.69L155.45 173.18L156 168.49L156.55 166.98L157.1 170.04L157.65 168.53L158.2 169.1L158.75 169.67L159.3 170.01L159.85 172.12L160.4 170.39L160.95 171.25L161.5 169.74L162.05 172.93L162.6 168.76L163.15 171.68L163.7 168.95L164.25 168.89L164.8 171.08L165.35 169.67L165.9 171.67L166.45 170.06L167 172.19L167.55 173.04L168.1 173.02L168.65 170.28L169.2 169.12L169.75 171.73L170.3 166.9L170.85 171.19L171.4 171.44L171.95 170.31L172.5 171.47L173.05 171.2L173.6 169.46L174.15 170.55L174.7 170.59L175.25 170.67L175.8 170.43L176.35 172.78L176.9 169.75L177.45 169.43L178 171.21L178.55 172.58L179.1 170.97L179.65 168.78L180.2 171.74L180.75 172.96L181.3 172.41L181.85 170.2L182.4 170.21L182.95 171.59L183.5 170.33L184.05 171.28L184.6 172.31L185.15 169.9L185.7 168.39L186.25 170.75L186.8 170.03L187.35 169.55L187.9 165.46L188.45 172.58L189 170.56L189.55 169.79L190.1 169.49L190.65 169.17L191.2 170.68L191.75 172.17L192.3 172.03L192.85 170.38L193.4 171.07L193.95 170.2L194.5 170.16L195.05 172.41L195.6 171.2L196.15 169.92L196.7 170.4L197.25 172.39L197.8 168.5L198.35 168.85L198.9 167.65L199.45 168.79L200 171.7L200.55 171.43L201.1 169.96L201.65 168.75L202.2 172.82L202.75 169.62L203.3 170.1L203.85 171.63L204.4 172.72L204.95 171.03L205.5 171.89L206.05 170.4L206.6 167.34L207.15 171.5L207.7 172.56L208.25 164.84L208.8 171.07L209.35 171.11L209.9 171.45L210.45 169.53L211 171.37L211.55 172.71L212.1 171.64L212.65 169.31L213.2 172.04L213.75 171.95L214.3 168.52L214.85 172.05L215.4 173.48L215.95 171.31L216.5 171.12L217.05 171.92L217.6 172.72L218.15 172.06L218.7 172.97L219.25 171.88L219.8 169.66L220.35 171.19L220.9 169.24L221.45 172.28L222 168.83L222.55 170.39L223.1 169.37L223.65 169.5L224.2 170.98L224.75 171.44L225.3 172.48L225.85 172.13L226.4 169.74L226.95 169.6L227.5 172.11L228.05 169.82L228.6 168.58L229.15 172.83L229.7 168.35L230.25 171.35L230.8 168.43L231.35 171.95L231.9 171.99L232.45 171.12L233 171.88L233.55 169.56L234.1 169.85L234.65 170.76L235.2 169.68L235.75 169.55L236.3 169.84L236.85 169.21L237.4 170.09L237.95 173.16L238.5 171.97L239.05 173.36L239.6 171.84L240.15 172.51L240.7 169.6L241.25 169.6L241.8 168.51L242.35 167.91L242.9 170.5L243.45 169.78L244 171.7L244.55 170.7L245.1 170.77L245.65 168.48L246.2 169.97L246.75 170.42L247.3 171.81L247.85 168.54L248.4 168.43L248.95 172.45L249.5 171L250.05 170.39L250.6 169.44L251.15 171.16L251.7 169.71L252.25 172.89L252.8 172.59L253.35 168.47L253.9 169.9L254.45 171.37L255 172.76L255.55 173.09L256.1 173.22L256.65 173.23L257.2 171.99L257.2 175.1z" fill="#3e2a80" stroke="none" stroke-width="1" />
<path d="M272.5 108.8L272.5 108.47L273.1 108.24L273.7 108.35L274.3 108.36L274.9 108.08L275.5 108.04L276.1 107.83L276.7 107.74L277.3 107.67L277.9 107.23L278.5 107.22L279.1 106.79L279.7 106.99L280.3 106.57L280.9 106.77L281.5 106.85L282.1 106.9L282.7 107.07L283.3 106.8L283.9 106.99L284.5 107.91L285.1 107.57L285.7 107.99L286.3 107.28L286.9 106.52L287.5 107.47L288.1 107.29L288.7 106.46L289.3 107.35L289.9 107.09L290.5 106.79L291.1 106.11L291.7 106.17L292.3 104.84L292.9 106.43L293.5 106.43L294.1 106.77L294.7 106.79L295.3 106.87L295.9 107.11L296.5 105.69L297.1 107.13L297.7 106.66L298.3 106.99L298.9 107.21L299.5 106.7L300.1 106.83L300.7 106.48L301.3 104.88L301.9 104.18L302.5 104.92L303.1 104.62L303.7 104.69L304.3 103.74L304.9 104.71L305.5 103.83L306.1 103.39L306.7 104.77L307.3 103.81L307.9 103.89L308.5 103.95L309.1 103.57L309.7 103.94L310.3 103.24L310.9 104.75L311.5 103.53L312.1 103.46L312.7 104.2L313.3 103L313.9 103.88L314.5 103.75L315.1 102.99L315.7 103.36L316.3 102.19L316.9 101.89L317.5 103.63L318.1 102.19L318.7 103.78L319.3 103.24L319.9 104.84L320.5 105.87L321.1 106L321.7 105.89L322.3 107.04L322.9 107.42L323.5 107.14L324.1 107.68L324.7 107.34L325.3 107.82L325.9 107.31L326.5 106.95L327.1 107.15L327.7 106.54L328.3 106.24L328.9 106.18L329.5 105.78L330.1 105.12L330.7 103.61L331.3 103.41L331.9 103.04L332.5 105.04L333.1 104.91L333.7 103.67L334.3 104.42L334.9 106.18L335.5 105.66L336.1 106.4L336.7 106.73L337.3 106.15L337.9 107.19L338.5 106.29L339.1 106.78L339.7 105.63L340.3 105.85L340.9 104.7L341.5 105.32L342.1 104.1L342.7 105.35L343.3 104.96L343.9 104.72L344.5 103.79L345.1 103.47L345.7 104.86L346.3 103.91L346.9 105.33L347.5 105.81L348.1 105.91L348.7 106.07L349.3 105.85L349.9 106.12L350.5 105.57L351.1 105.84L351.7 106.3L352.3 105.56L352.9 104.81L353.5 104.32L354.1 103.94L354.7 103.56L355.3 104.15L355.9 103.66L356.5 104.67L357.1 104.58L357.7 105.35L358.3 105.54L358.9 106.82L359.5 106.96L360.1 106.77L360.7 105.96L361.3 106.94L361.9 106.19L362.5 106.33L363.1 105.45L363.7 104.73L364.3 103.51L364.9 104.6L365.5 103.2L366.1 102.74L366.7 102.2L367.3 104.69L367.9 105.37L368.5 104.79L369.1 105.08L369.7 106.43L370.3 106.52L370.9 106.48L371.5 106.53L372.1 106.89L372.7 106.12L373.3 106.25L373.9 105.36L374.5 105.52L375.1 105.43L375.7 104.68L376.3 105.34L376.9 104.59L377.5 105.59L378.1 106.36L378.7 106.4L379.3 106.31L379.9 107.12L380.5 107.19L381.1 106.79L381.7 107.11L382.3 107.28L382.9 106.97L383.5 106.99L384.1 106.88L384.7 106.84L385.3 106.4L385.9 105.92L386.5 106.1L387.1 106.38L387.7 106.86L388.3 107.21L388.9 107.24L388.9 108.8z" fill="#c8288a" stroke="none" stroke-width="1" />
<path d="M272.5 125.2L272.5 124.32L273.1 124.55L273.7 124.59L274.3 124.64L274.9 124.38L275.5 124.31L276.1 124.23L276.7 122.74L277.3 123.76L277.9 123.14L278.5 122.95L279.1 122.76L279.7 122.47L280.3 122.56L280.9 123.4L281.5 122.61L282.1 123.27L282.7 123.76L283.3 123.66L283.9 123.43L284.5 124.11L285.1 124.45L285.7 124.65L286.3 124.51L286.9 124.39L287.5 124.21L288.1 124.49L288.7 124.22L289.3 123.87L289.9 124.15L290.5 124.01L291.1 123.72L291.7 123.02L292.3 123.22L292.9 123.32L293.5 122.77L294.1 123.19L294.7 122.78L295.3 123.35L295.9 122.74L296.5 121.69L297.1 121.93L297.7 121.85L298.3 122.15L298.9 122.2L299.5 122.07L300.1 122.39L300.7 121.12L301.3 121.36L301.9 121.71L302.5 119.39L303.1 118.8L303.7 119.81L304.3 118.9L304.9 119.79L305.5 120.34L306.1 118.42L306.7 119.14L307.3 120.16L307.9 119.16L308.5 121.49L309.1 121.66L309.7 121.15L310.3 120.67L310.9 120.6L311.5 121.79L312.1 120.07L312.7 119.65L313.3 119.05L313.9 120.12L314.5 120.33L315.1 118.44L315.7 117.84L316.3 118.18L316.9 120.43L317.5 118.44L318.1 118.86L318.7 120.72L319.3 120.09L319.9 117.99L320.5 118.12L321.1 118.33L321.7 118.42L322.3 118.73L322.9 118.22L323.5 118.19L324.1 119.27L324.7 119.78L325.3 122.14L325.9 121.56L326.5 122.99L327.1 123.37L327.7 122.95L328.3 123.5L328.9 123.03L329.5 123.09L330.1 122.27L330.7 121.98L331.3 121.04L331.9 120.46L332.5 119.48L333.1 117.89L333.7 117.85L334.3 120.01L334.9 119.63L335.5 120.03L336.1 119.58L336.7 120.28L337.3 120.82L337.9 121.26L338.5 121.46L339.1 122.06L339.7 121.19L340.3 120.82L340.9 120.27L341.5 120.17L342.1 120.02L342.7 119.62L343.3 120.11L343.9 117.8L344.5 120.49L345.1 119.89L345.7 118.92L346.3 119.52L346.9 117.94L347.5 121.22L348.1 120.27L348.7 119.15L349.3 119.99L349.9 120.07L350.5 119.74L351.1 119.76L351.7 117.98L352.3 119.09L352.9 116.43L353.5 118.87L354.1 117.71L354.7 118.06L355.3 118.03L355.9 119L356.5 119.94L357.1 118.83L357.7 120.44L358.3 118.21L358.9 116.94L359.5 118.9L360.1 116.97L360.7 116.32L361.3 114.81L361.9 116.98L362.5 116.54L363.1 115.11L363.7 115.45L364.3 115.92L364.9 116.67L365.5 116.47L366.1 116.89L366.7 116.02L367.3 119.34L367.9 117.86L368.5 118.26L369.1 116.49L369.7 116.74L370.3 118.65L370.9 117.96L371.5 118.54L372.1 118.38L372.7 118.42L373.3 121L373.9 121.03L374.5 121.27L375.1 120.77L375.7 121.38L376.3 122.33L376.9 123L377.5 122.27L378.1 122.16L378.7 122.65L379.3 122.7L379.9 122.31L380.5 122.1L381.1 122.51L381.7 122.78L382.3 122.38L382.9 122.67L383.5 122.63L384.1 123.5L384.7 123.83L385.3 123.6L385.9 123.16L386.5 123.21L387.1 121.92L387.7 123.1L388.3 123.88L388.9 124.02L388.9 125.2z" fill="#3e2a80" stroke="none" stroke-width="1" />
<path d="M272.5 142.5L272.5 139.79L273.1 140.31L273.7 139.34L274.3 140.76L274.9 140.68L275.5 141.5L276.1 141.07L276.7 141.81L277.3 142.07L277.9 141.4L278.5 141.76L279.1 142.01L279.7 141.64L280.3 141.79L280.9 141.27L281.5 141.62L282.1 141.24L282.7 141.22L283.3 140.97L283.9 140.78L284.5 140.22L285.1 140.69L285.7 140.22L286.3 140.77L286.9 141.21L287.5 140.88L288.1 141.13L288.7 141.66L289.3 140.75L289.9 141.02L290.5 141.24L291.1 141.51L291.7 141.01L292.3 140.99L292.9 140.67L293.5 140.2L294.1 140.43L294.7 139.14L295.3 138.56L295.9 137.67L296.5 137.93L297.1 136.59L297.7 136.74L298.3 136.4L298.9 136.39L299.5 133.71L300.1 134.08L300.7 135.21L301.3 133.76L301.9 131.58L302.5 134.21L303.1 132.73L303.7 133.82L304.3 131.4L304.9 133.83L305.5 133.84L306.1 135.22L306.7 133.68L307.3 133.07L307.9 135.42L308.5 134.42L309.1 132.93L309.7 133.61L310.3 133.65L310.9 133.61L311.5 132.88L312.1 133.3L312.7 133.84L313.3 135.93L313.9 135.22L314.5 135.51L315.1 136.44L315.7 136.97L316.3 137.02L316.9 137.72L317.5 137.14L318.1 139.39L318.7 139.07L319.3 140.07L319.9 140.84L320.5 139.4L321.1 140.32L321.7 140.15L322.3 140.03L322.9 139.48L323.5 137.42L324.1 137.09L324.7 136.98L325.3 135.71L325.9 134.72L326.5 134.22L327.1 134.44L327.7 135.82L328.3 133.66L328.9 135.31L329.5 137.42L330.1 138.55L330.7 138.63L331.3 138.03L331.9 138.94L332.5 139.28L333.1 137.65L333.7 137.26L334.3 136.77L334.9 136.8L335.5 134.31L336.1 134L336.7 133.91L337.3 135.79L337.9 133.72L338.5 136.37L339.1 134.41L339.7 136.05L340.3 134.86L340.9 136.51L341.5 136.68L342.1 136.05L342.7 136.07L343.3 131.53L343.9 133.63L344.5 129.83L345.1 130.18L345.7 133.22L346.3 134.04L346.9 133.36L347.5 135.37L348.1 133.08L348.7 134.7L349.3 133.95L349.9 134.81L350.5 132.64L351.1 131.59L351.7 132.98L352.3 131.99L352.9 133.35L353.5 134.56L354.1 134.51L354.7 134.19L355.3 135.86L355.9 135.86L356.5 135.71L357.1 136.11L357.7 132.24L358.3 132.93L358.9 134.12L359.5 132.36L360.1 130.52L360.7 132L361.3 130.55L361.9 134.82L362.5 134.4L363.1 134.95L363.7 132.98L364.3 134.05L364.9 132.95L365.5 133.95L366.1 133.77L366.7 135.18L367.3 132.96L367.9 135.52L368.5 133.33L369.1 134.91L369.7 132.8L370.3 133.68L370.9 136.48L371.5 135.34L372.1 136.56L372.7 138.48L373.3 138.77L373.9 139.03L374.5 138.25L375.1 138.2L375.7 139.25L376.3 139.16L376.9 138.88L377.5 139.08L378.1 137.95L378.7 139.01L379.3 137.53L379.9 138.5L380.5 137.35L381.1 137.9L381.7 139.04L382.3 138.17L382.9 138.76L383.5 139.73L384.1 140.53L384.7 140.72L385.3 140.11L385.9 140.13L386.5 140.25L387.1 140.06L387.7 140.13L388.3 140.58L388.9 140.69L388.9 142.5z" fill="#18994a" stroke="none" stroke-width="1" />
<path d="M272.5 159.3L272.5 158.4L273.1 158.27L273.7 157.96L274.3 157.86L274.9 157.64L275.5 157.27L276.1 157.63L276.7 157.68L277.3 156.41L277.9 157.47L278.5 157.46L279.1 157.61L279.7 158.07L280.3 156.94L280.9 157.94L281.5 158.5L282.1 158.59L282.7 158.32L283.3 158.19L283.9 157.8L284.5 157.64L285.1 157.71L285.7 157.38L286.3 157.5L286.9 157.38L287.5 156.49L288.1 157.14L288.7 156.95L289.3 156.39L289.9 157.41L290.5 157.29L291.1 157.76L291.7 157.76L292.3 156.66L292.9 157.76L293.5 157.87L294.1 157.44L294.7 157.29L295.3 155.82L295.9 156.15L296.5 155.16L297.1 154.75L297.7 155.25L298.3 153.31L298.9 153.22L299.5 154.51L300.1 155.53L300.7 155.34L301.3 155.27L301.9 155.23L302.5 153.53L303.1 154.65L303.7 154.15L304.3 153.89L304.9 152.65L305.5 151.36L306.1 150.98L306.7 153.26L307.3 153.16L307.9 153.45L308.5 154.57L309.1 155.04L309.7 155.39L310.3 155.42L310.9 154L311.5 152.23L312.1 151.71L312.7 150.37L313.3 152.02L313.9 153.81L314.5 152.08L315.1 154.3L315.7 155.3L316.3 156.91L316.9 156.87L317.5 156.01L318.1 155.96L318.7 155.64L319.3 155.62L319.9 155.23L320.5 153.08L321.1 153.52L321.7 152.78L322.3 152.69L322.9 153.09L323.5 154.79L324.1 152.79L324.7 153.84L325.3 155.44L325.9 153.91L326.5 153.4L327.1 153.63L327.7 153.1L328.3 151.95L328.9 152.86L329.5 149.36L330.1 149.65L330.7 151.75L331.3 149.25L331.9 150.2L332.5 149.98L333.1 150.86L333.7 150.5L334.3 152.43L334.9 148.62L335.5 148.2L336.1 148.98L336.7 148.54L337.3 150.28L337.9 151.2L338.5 151.89L339.1 151.71L339.7 151.04L340.3 154.07L340.9 153.07L341.5 155.27L342.1 155.3L342.7 155.18L343.3 154.04L343.9 153.58L344.5 153.09L345.1 151.97L345.7 152.26L346.3 151.31L346.9 151.34L347.5 153.57L348.1 154.3L348.7 152.78L349.3 155.04L349.9 154.1L350.5 154.16L351.1 153.66L351.7 154L352.3 152.97L352.9 151.82L353.5 154.54L354.1 151.69L354.7 150.9L355.3 149.66L355.9 152.19L356.5 150.15L357.1 149.42L357.7 151.56L358.3 152.22L358.9 151.15L359.5 150.62L360.1 150.93L360.7 152.87L361.3 149.46L361.9 150.01L362.5 149.86L363.1 149.41L363.7 151.26L364.3 149.5L364.9 152.88L365.5 151.91L366.1 151.92L366.7 152.64L367.3 154.85L367.9 151.89L368.5 153.31L369.1 154.11L369.7 154.7L370.3 152.25L370.9 153.02L371.5 152.01L372.1 154.92L372.7 153.85L373.3 153.63L373.9 154.02L374.5 154.11L375.1 156.69L375.7 156.62L376.3 156.31L376.9 156.99L377.5 157.75L378.1 157.5L378.7 158.03L379.3 156.98L379.9 157.05L380.5 157.09L381.1 156.67L381.7 156.83L382.3 156.36L382.9 155.53L383.5 157.04L384.1 156.79L384.7 156.58L385.3 156.68L385.9 157.27L386.5 157.25L387.1 158.05L387.7 158.4L388.3 158.44L388.9 158.38L388.9 159.3z" fill="#f0913a" stroke="none" stroke-width="1" />
<path d="M272.5 176.3L272.5 175.2L273.1 174.96L273.7 174.45L274.3 174.77L274.9 173.38L275.5 174.38L276.1 174.27L276.7 174.12L277.3 173.89L277.9 174.28L278.5 174.52L279.1 174.57L279.7 174.98L280.3 174.98L280.9 175.45L281.5 175.28L282.1 175.39L282.7 175.39L283.3 173.99L283.9 175.14L284.5 174.67L285.1 174.67L285.7 174.22L286.3 173.66L286.9 174.09L287.5 173.45L288.1 173.88L288.7 173.62L289.3 174.02L289.9 174.07L290.5 174.28L291.1 174.27L291.7 174.59L292.3 174.65L292.9 174.32L293.5 174.26L294.1 173.78L294.7 171.89L295.3 173.09L295.9 171.94L296.5 170.17L297.1 170.16L297.7 169.91L298.3 169.27L298.9 170.16L299.5 169.84L300.1 170.65L300.7 170.71L301.3 170.18L301.9 169.97L302.5 170.43L303.1 169L303.7 168.77L304.3 169.28L304.9 167.83L305.5 166.12L306.1 167.98L306.7 170.62L307.3 169.29L307.9 169.72L308.5 170L309.1 171.09L309.7 171.01L310.3 169.55L310.9 171.24L311.5 170.52L312.1 169.06L312.7 166.4L313.3 171.09L313.9 168.4L314.5 169.35L315.1 170.85L315.7 172.56L316.3 172.21L316.9 173.25L317.5 172.8L318.1 173.11L318.7 173.13L319.3 172.48L319.9 171.88L320.5 171.13L321.1 168.96L321.7 167.96L322.3 167.14L322.9 169.6L323.5 166.8L324.1 166.32L324.7 168.06L325.3 167.53L325.9 168.61L326.5 168.23L327.1 168.55L327.7 169.48L328.3 168.07L328.9 167.47L329.5 166.54L330.1 166.18L330.7 169.22L331.3 167.56L331.9 169.98L332.5 168.3L333.1 170.75L333.7 171.93L334.3 169.82L334.9 171.49L335.5 170.72L336.1 169.62L336.7 170.51L337.3 167.98L337.9 167.23L338.5 169.24L339.1 170.15L339.7 171.73L340.3 169.98L340.9 172.11L341.5 172.26L342.1 173.29L342.7 173.93L343.3 173.71L343.9 174.55L344.5 174.21L345.1 173.7L345.7 173.52L346.3 172.55L346.9 171.87L347.5 171.15L348.1 171.35L348.7 168.44L349.3 168.23L349.9 168.8L350.5 170.32L351.1 169.83L351.7 168.81L352.3 169.6L352.9 170.29L353.5 172.11L354.1 171.56L354.7 171.3L355.3 169.46L355.9 169.37L356.5 168.94L357.1 168.22L357.7 165.03L358.3 165.55L358.9 168.25L359.5 169.07L360.1 168.92L360.7 168.64L361.3 170.79L361.9 171.97L362.5 171.23L363.1 170.88L363.7 170.56L364.3 169.65L364.9 170.41L365.5 169.92L366.1 167.94L366.7 169.46L367.3 168.93L367.9 171.06L368.5 169.18L369.1 171.49L369.7 171.19L370.3 170.49L370.9 171.65L371.5 172.27L372.1 170.45L372.7 171.69L373.3 171.41L373.9 171.13L374.5 170L375.1 170.46L375.7 172.34L376.3 171.54L376.9 173.37L377.5 172.73L378.1 173.44L378.7 174.41L379.3 174.61L379.9 174.16L380.5 174.52L381.1 174.7L381.7 174.49L382.3 174.08L382.9 174.23L383.5 174.29L384.1 174.73L384.7 174.69L385.3 173.69L385.9 173.75L386.5 173.89L387.1 173.94L387.7 174.42L388.3 173.93L388.9 175.09L388.9 176.3z" fill="#3e2a80" stroke="none" stroke-width="1" />
<path d="M405.8 107.3L405.8 106.34L406.5 106.05L407.2 105.81L407.9 105.33L408.6 104.84L409.3 105.06L410 105.17L410.7 105.69L411.4 105.95L412.1 106.29L412.8 106.7L413.5 107.3L414.2 106.4L414.9 106.09L415.6 105.56L416.3 105.08L417 104.9L417.7 104.23L418.4 104.48L419.1 104.44L419.8 105.24L420.5 105.51L421.2 105.78L421.9 105.37L422.6 105.11L423.3 104.5L424 104.37L424.7 103.63L425.4 103.79L426.1 104.04L426.8 105.03L427.5 104.89L428.2 104.99L428.9 104.94L429.6 104.64L430.3 103.85L431 103.6L431.7 103.33L432.4 102.43L433.1 102.99L433.8 103.11L434.5 103.98L435.2 103.72L435.9 102.83L436.6 103.07L437.3 102.06L438 101.99L438.7 102.6L439.4 102.61L440.1 103.63L440.8 104.56L441.5 104.55L442.2 103.91L442.9 103.66L443.6 100.92L444.3 100.85L445 99.93L445.7 100.64L446.4 101.66L447.1 101.4L447.8 102.11L448.5 100.32L449.2 97.8L449.9 96.17L450.6 96.92L451.3 96.47L452 94.59L452.7 96.58L453.4 96.01L454.1 98.24L454.8 97.77L455.5 98.32L456.2 99.54L456.9 99.47L457.6 100.86L458.3 102.66L459 103.49L459.7 104.86L460.4 105.68L461.1 105.93L461.8 105.96L462.5 106.09L463.2 106.36L463.9 107.3L464.6 106.7L465.3 106.7L466 107.3L466.7 106.7L467.4 106.7L468.1 106.7L468.8 106.7L469.5 107.3L470.2 107.3L470.9 107.3L471.6 107.3L472.3 107.3L473 106.3L473.7 106.08L474.4 106L475.1 105.98L475.8 106.11L476.5 106.19L477.2 106.46L477.9 107.3L478.6 107.3L479.3 107.3L480 107.3L480.7 107.3L481.4 107.3L482.1 107.3L482.8 107.3L483.5 107.3L484.2 107.3L484.9 106.3L485.6 106.27L486.3 106.24L487 106.3L487.7 106.45L488.4 107.3L489.1 107.3L489.8 107.3L490.5 107.3L490.5 107.3z" fill="#c8288a" stroke="none" stroke-width="1" />
<path d="M405.8 124.2L405.8 124.2L406.5 123.15L407.2 122.87L407.9 122.69L408.6 122.35L409.3 122.51L410 122.31L410.7 122.71L411.4 122.37L412.1 122.38L412.8 121.53L413.5 120.85L414.2 120.36L414.9 120.98L415.6 122.07L416.3 122.38L417 122.33L417.7 122.31L418.4 121.4L419.1 120.9L419.8 120.49L420.5 121.22L421.2 121.14L421.9 121.87L422.6 122.16L423.3 122.65L424 123.03L424.7 122.59L425.4 122.22L426.1 121.97L426.8 120.96L427.5 121.25L428.2 120.44L428.9 120.91L429.6 121.67L430.3 121.36L431 121.81L431.7 121.88L432.4 121.56L433.1 121.35L433.8 120.89L434.5 121.14L435.2 121L435.9 121.92L436.6 122.5L437.3 122.72L438 122.19L438.7 121.93L439.4 120.6L440.1 120.52L440.8 121.02L441.5 121.61L442.2 122.12L442.9 121.53L443.6 121.22L444.3 120.44L445 118.81L445.7 117.27L446.4 116.13L447.1 116.66L447.8 116.37L448.5 115.26L449.2 115.88L449.9 114.62L450.6 116.21L451.3 116.98L452 117.13L452.7 117.8L453.4 118.66L454.1 118.99L454.8 117.4L455.5 117.61L456.2 117.72L456.9 118.53L457.6 118.91L458.3 120.68L459 121.73L459.7 122.13L460.4 122.24L461.1 122.13L461.8 122.01L462.5 121.85L463.2 122.59L463.9 122.98L464.6 124.2L465.3 123.6L466 123.6L466.7 124.2L467.4 124.2L468.1 124.2L468.8 123.6L469.5 123.39L470.2 124.2L470.9 124.2L471.6 124.2L472.3 124.2L473 124.2L473.7 124.2L474.4 124.2L475.1 124.2L475.8 124.2L476.5 124.2L477.2 124.2L477.9 124.2L478.6 124.2L479.3 124.2L480 124.2L480.7 124.2L481.4 124.2L482.1 124.2L482.8 124.2L483.5 124.2L484.2 124.2L484.9 124.2L485.6 124.2L486.3 124.2L487 124.2L487.7 124.2L488.4 124.2L489.1 124.2L489.8 124.2L490.5 124.2L490.5 124.2z" fill="#3e2a80" stroke="none" stroke-width="1" />
<path d="M405.8 141.2L405.8 139.57L406.5 139.32L407.2 138.99L407.9 138.87L408.6 139.05L409.3 139.25L410 139.17L410.7 139.11L411.4 138.77L412.1 138.69L412.8 137.81L413.5 138.26L414.2 137.74L414.9 138.53L415.6 138.8L416.3 139.35L417 139.42L417.7 139.8L418.4 139.82L419.1 139.41L419.8 138.83L420.5 138.62L421.2 137.77L421.9 138.04L422.6 137.72L423.3 137.89L424 138.56L424.7 138.57L425.4 138.5L426.1 138.73L426.8 137.89L427.5 138.15L428.2 138.06L428.9 138.34L429.6 138.72L430.3 138.83L431 139.45L431.7 139.32L432.4 139.32L433.1 138.57L433.8 137.85L434.5 136.23L435.2 134.51L435.9 134.79L436.6 134.55L437.3 136.04L438 136.83L438.7 137.08L439.4 136.33L440.1 136.36L440.8 135.53L441.5 135.32L442.2 136L442.9 136.27L443.6 135.92L444.3 136.66L445 135.77L445.7 134.72L446.4 134.03L447.1 131L447.8 132.68L448.5 130.03L449.2 132.89L449.9 130.89L450.6 132.66L451.3 133.3L452 131.89L452.7 131.65L453.4 132.91L454.1 133.71L454.8 134.72L455.5 136.67L456.2 137.53L456.9 137.51L457.6 137.55L458.3 136.52L459 136.35L459.7 135.55L460.4 135.89L461.1 136.83L461.8 137.4L462.5 137.93L463.2 138.43L463.9 138.35L464.6 138.38L465.3 138.6L466 139.38L466.7 139.78L467.4 140.35L468.1 141.2L468.8 140.6L469.5 141.2L470.2 141.2L470.9 141.2L471.6 141.2L472.3 141.2L473 141.2L473.7 141.2L474.4 141.2L475.1 141.2L475.8 141.2L476.5 141.2L477.2 141.2L477.9 141.2L478.6 141.2L479.3 141.2L480 141.2L480.7 141.2L481.4 141.2L482.1 141.2L482.8 141.2L483.5 141.2L484.2 141.2L484.9 141.2L485.6 141.2L486.3 141.2L487 141.2L487.7 141.2L488.4 141.2L489.1 141.2L489.8 141.2L490.5 141.2L490.5 141.2z" fill="#18994a" stroke="none" stroke-width="1" />
<path d="M405.8 158.3L405.8 156.99L406.5 156.22L407.2 156.29L407.9 155.65L408.6 155.69L409.3 156.22L410 156.2L410.7 156.27L411.4 156.08L412.1 155.48L412.8 155.01L413.5 155.19L414.2 154.83L414.9 154.8L415.6 155.08L416.3 155.55L417 155.15L417.7 154.57L418.4 153.36L419.1 152.8L419.8 152.68L420.5 153.41L421.2 153.09L421.9 154.77L422.6 155.42L423.3 156.07L424 156L424.7 155.72L425.4 155.4L426.1 154.9L426.8 154.8L427.5 154.94L428.2 155.63L428.9 155.7L429.6 156.3L430.3 156.76L431 156.45L431.7 155.33L432.4 153.17L433.1 150.89L433.8 149.26L434.5 149.9L435.2 152.77L435.9 153.75L436.6 155.53L437.3 155.59L438 154.96L438.7 154.64L439.4 154.35L440.1 153.75L440.8 153.36L441.5 153.52L442.2 153.24L442.9 152.76L443.6 151.76L444.3 150.92L445 150.32L445.7 147.31L446.4 149.53L447.1 146.97L447.8 148.11L448.5 149.25L449.2 149.08L449.9 146.78L450.6 148.42L451.3 147.24L452 148.77L452.7 149.36L453.4 149.61L454.1 148.79L454.8 150.42L455.5 148.21L456.2 149.17L456.9 150.95L457.6 151.32L458.3 153.83L459 154.76L459.7 155.41L460.4 155.72L461.1 156.09L461.8 156.55L462.5 156.26L463.2 156.83L463.9 157.08L464.6 157.27L465.3 157.7L466 157.7L466.7 157.7L467.4 157.7L468.1 157.7L468.8 157.7L469.5 157.7L470.2 157.31L470.9 157.12L471.6 157.12L472.3 157.06L473 157.09L473.7 157.28L474.4 157.45L475.1 158.3L475.8 158.3L476.5 158.3L477.2 158.3L477.9 158.3L478.6 158.3L479.3 158.3L480 158.3L480.7 158.3L481.4 158.3L482.1 157.37L482.8 157.18L483.5 156.9L484.2 157.15L484.9 157.22L485.6 157.22L486.3 158.3L487 158.3L487.7 158.3L488.4 158.3L489.1 158.3L489.8 158.3L490.5 158.3L490.5 158.3z" fill="#f0913a" stroke="none" stroke-width="1" />
<path d="M405.8 175.4L405.8 174.06L406.5 173.57L407.2 173.03L407.9 173.1L408.6 173.26L409.3 173.18L410 173.57L410.7 173.58L411.4 173.72L412.1 173.33L412.8 173.49L413.5 173.21L414.2 172.82L414.9 173.48L415.6 173.6L416.3 173.99L417 174.15L417.7 174.13L418.4 173.76L419.1 173.19L419.8 172.85L420.5 171.71L421.2 171.4L421.9 171.54L422.6 171.41L423.3 171.72L424 172.12L424.7 172.03L425.4 172.35L426.1 172.79L426.8 172.15L427.5 172.19L428.2 172.17L428.9 171.72L429.6 172.62L430.3 172.14L431 171.81L431.7 172.18L432.4 171.24L433.1 169.93L433.8 170.69L434.5 170.28L435.2 170.88L435.9 170.67L436.6 171.31L437.3 171.57L438 171.91L438.7 171.77L439.4 170.51L440.1 171.23L440.8 171.35L441.5 171.72L442.2 170.99L442.9 171.18L443.6 170.89L444.3 170.27L445 168.52L445.7 168.72L446.4 168.57L447.1 167.54L447.8 167.5L448.5 167.5L449.2 166.25L449.9 167.85L450.6 167.44L451.3 167.35L452 166.34L452.7 166.79L453.4 168.18L454.1 167.49L454.8 168.53L455.5 168.28L456.2 168.16L456.9 169.1L457.6 169.82L458.3 170.81L459 171.51L459.7 171.56L460.4 171.79L461.1 171.68L461.8 172.27L462.5 171.86L463.2 172.61L463.9 172.84L464.6 173.63L465.3 174.15L466 174.56L466.7 174.8L467.4 174.8L468.1 174.8L468.8 175.4L469.5 174.8L470.2 174.43L470.9 174.26L471.6 174.11L472.3 174.06L473 174.13L473.7 174.36L474.4 174.58L475.1 175.4L475.8 175.4L476.5 175.4L477.2 175.4L477.9 175.4L478.6 175.4L479.3 175.4L480 175.4L480.7 175.4L481.4 175.4L482.1 175.4L482.8 175.4L483.5 175.4L484.2 174.41L484.9 174.15L485.6 174L486.3 174.12L487 174.33L487.7 174.41L488.4 175.4L489.1 175.4L489.8 175.4L490.5 175.4L490.5 175.4z" fill="#3e2a80" stroke="none" stroke-width="1" />
<line x1="84.9" y1="194.1" x2="256" y2="194.1" stroke="#6a5fb0" stroke-width="0.9" />
<line x1="88.9" y1="193.5" x2="89.7" y2="194.7" stroke="#8880c4" stroke-width="0.6" />
<line x1="94.4" y1="193.5" x2="95.2" y2="194.7" stroke="#8880c4" stroke-width="0.6" />
<line x1="99.9" y1="193.5" x2="100.7" y2="194.7" stroke="#8880c4" stroke-width="0.6" />
<line x1="105.4" y1="193.5" x2="106.2" y2="194.7" stroke="#8880c4" stroke-width="0.6" />
<line x1="110.9" y1="193.5" x2="111.7" y2="194.7" stroke="#8880c4" stroke-width="0.6" />
<line x1="116.4" y1="193.5" x2="117.2" y2="194.7" stroke="#8880c4" stroke-width="0.6" />
<line x1="121.9" y1="193.5" x2="122.7" y2="194.7" stroke="#8880c4" stroke-width="0.6" />
<line x1="127.4" y1="193.5" x2="128.2" y2="194.7" stroke="#8880c4" stroke-width="0.6" />
<line x1="132.9" y1="193.5" x2="133.7" y2="194.7" stroke="#8880c4" stroke-width="0.6" />
<line x1="138.4" y1="193.5" x2="139.2" y2="194.7" stroke="#8880c4" stroke-width="0.6" />
<line x1="143.9" y1="193.5" x2="144.7" y2="194.7" stroke="#8880c4" stroke-width="0.6" />
<line x1="149.4" y1="193.5" x2="150.2" y2="194.7" stroke="#8880c4" stroke-width="0.6" />
<line x1="154.9" y1="193.5" x2="155.7" y2="194.7" stroke="#8880c4" stroke-width="0.6" />
<line x1="160.4" y1="193.5" x2="161.2" y2="194.7" stroke="#8880c4" stroke-width="0.6" />
<line x1="165.9" y1="193.5" x2="166.7" y2="194.7" stroke="#8880c4" stroke-width="0.6" />
<line x1="171.4" y1="193.5" x2="172.2" y2="194.7" stroke="#8880c4" stroke-width="0.6" />
<line x1="176.9" y1="193.5" x2="177.7" y2="194.7" stroke="#8880c4" stroke-width="0.6" />
<line x1="182.4" y1="193.5" x2="183.2" y2="194.7" stroke="#8880c4" stroke-width="0.6" />
<line x1="187.9" y1="193.5" x2="188.7" y2="194.7" stroke="#8880c4" stroke-width="0.6" />
<line x1="193.4" y1="193.5" x2="194.2" y2="194.7" stroke="#8880c4" stroke-width="0.6" />
<line x1="198.9" y1="193.5" x2="199.7" y2="194.7" stroke="#8880c4" stroke-width="0.6" />
<line x1="204.4" y1="193.5" x2="205.2" y2="194.7" stroke="#8880c4" stroke-width="0.6" />
<line x1="209.9" y1="193.5" x2="210.7" y2="194.7" stroke="#8880c4" stroke-width="0.6" />
<line x1="215.4" y1="193.5" x2="216.2" y2="194.7" stroke="#8880c4" stroke-width="0.6" />
<line x1="220.9" y1="193.5" x2="221.7" y2="194.7" stroke="#8880c4" stroke-width="0.6" />
<line x1="226.4" y1="193.5" x2="227.2" y2="194.7" stroke="#8880c4" stroke-width="0.6" />
<line x1="231.9" y1="193.5" x2="232.7" y2="194.7" stroke="#8880c4" stroke-width="0.6" />
<line x1="237.4" y1="193.5" x2="238.2" y2="194.7" stroke="#8880c4" stroke-width="0.6" />
<line x1="242.9" y1="193.5" x2="243.7" y2="194.7" stroke="#8880c4" stroke-width="0.6" />
<line x1="248.4" y1="193.5" x2="249.2" y2="194.7" stroke="#8880c4" stroke-width="0.6" />
<line x1="253.9" y1="193.5" x2="254.7" y2="194.7" stroke="#8880c4" stroke-width="0.6" />
<rect x="84.7" y="191.85" width="1" height="4.5" fill="#3e2f8c" />
<rect x="143.1" y="192.1" width="1" height="4" fill="#3e2f8c" />
<rect x="161.5" y="191.85" width="1" height="4.5" fill="#3e2f8c" />
<rect x="190.3" y="191.85" width="1" height="4.5" fill="#3e2f8c" />
<rect x="205.5" y="191.85" width="1" height="4.5" fill="#3e2f8c" />
<rect x="216.1" y="192.1" width="1" height="4" fill="#3e2f8c" />
<rect x="224" y="192.1" width="1" height="4" fill="#3e2f8c" />
<rect x="225.7" y="192.1" width="1" height="4" fill="#3e2f8c" />
<rect x="227.4" y="192.1" width="1" height="4" fill="#3e2f8c" />
<rect x="230.9" y="192.1" width="1" height="4" fill="#3e2f8c" />
<rect x="236.2" y="192.1" width="1" height="4" fill="#3e2f8c" />
<rect x="239.5" y="192.1" width="1" height="4" fill="#3e2f8c" />
<rect x="241" y="192.1" width="1" height="4" fill="#3e2f8c" />
<rect x="246.4" y="192.1" width="1.2" height="4" fill="#3e2f8c" />
<rect x="248" y="192.5" width="7" height="3.2" fill="#3e2f8c" />
<line x1="288" y1="195" x2="373" y2="195" stroke="#6a5fb0" stroke-width="0.9" />
<line x1="292" y1="194.4" x2="292.8" y2="195.6" stroke="#8880c4" stroke-width="0.6" />
<line x1="297.5" y1="194.4" x2="298.3" y2="195.6" stroke="#8880c4" stroke-width="0.6" />
<line x1="303" y1="194.4" x2="303.8" y2="195.6" stroke="#8880c4" stroke-width="0.6" />
<line x1="308.5" y1="194.4" x2="309.3" y2="195.6" stroke="#8880c4" stroke-width="0.6" />
<line x1="314" y1="194.4" x2="314.8" y2="195.6" stroke="#8880c4" stroke-width="0.6" />
<line x1="319.5" y1="194.4" x2="320.3" y2="195.6" stroke="#8880c4" stroke-width="0.6" />
<line x1="325" y1="194.4" x2="325.8" y2="195.6" stroke="#8880c4" stroke-width="0.6" />
<line x1="330.5" y1="194.4" x2="331.3" y2="195.6" stroke="#8880c4" stroke-width="0.6" />
<line x1="336" y1="194.4" x2="336.8" y2="195.6" stroke="#8880c4" stroke-width="0.6" />
<line x1="341.5" y1="194.4" x2="342.3" y2="195.6" stroke="#8880c4" stroke-width="0.6" />
<line x1="347" y1="194.4" x2="347.8" y2="195.6" stroke="#8880c4" stroke-width="0.6" />
<line x1="352.5" y1="194.4" x2="353.3" y2="195.6" stroke="#8880c4" stroke-width="0.6" />
<line x1="358" y1="194.4" x2="358.8" y2="195.6" stroke="#8880c4" stroke-width="0.6" />
<line x1="363.5" y1="194.4" x2="364.3" y2="195.6" stroke="#8880c4" stroke-width="0.6" />
<line x1="369" y1="194.4" x2="369.8" y2="195.6" stroke="#8880c4" stroke-width="0.6" />
<rect x="287.85" y="193.75" width="0.9" height="2.5" fill="#3e2f8c" />
<rect x="298" y="193.5" width="2" height="3" fill="#3e2f8c" />
<rect x="302.85" y="193.25" width="0.9" height="3.5" fill="#3e2f8c" />
<rect x="318.55" y="193.25" width="0.9" height="3.5" fill="#3e2f8c" />
<rect x="326.55" y="193.25" width="0.9" height="3.5" fill="#3e2f8c" />
<rect x="333.35" y="193.25" width="0.9" height="3.5" fill="#3e2f8c" />
<rect x="337.55" y="193.5" width="0.9" height="3" fill="#3e2f8c" />
<rect x="358.75" y="193" width="1.5" height="4" fill="#3e2f8c" />
<rect x="363.3" y="193" width="1" height="4" fill="#3e2f8c" />
<rect x="365.5" y="193.5" width="5" height="3" fill="#3e2f8c" />
<line x1="440.7" y1="194" x2="465.4" y2="194" stroke="#6a5fb0" stroke-width="0.9" />
<rect x="440.25" y="192.7" width="2.5" height="2.6" fill="#3e2f8c" />
<rect x="443.9" y="192.25" width="1.2" height="3.5" fill="#3e2f8c" />
<rect x="445.95" y="192.25" width="2.5" height="3.5" fill="#3e2f8c" />
<rect x="450.25" y="192.25" width="1.5" height="3.5" fill="#3e2f8c" />
<rect x="452.5" y="192.25" width="1" height="3.5" fill="#3e2f8c" />
<rect x="456.4" y="192.25" width="1.2" height="3.5" fill="#3e2f8c" />
<rect x="464.6" y="192.5" width="0.8" height="3" fill="#3e2f8c" />
<text x="8.6" y="18.8" font-size="13" fill="#111" stroke="#111" stroke-width="0.16" >A</text>
<text x="56.8" y="24.4" font-size="7" fill="#333" stroke="#333" stroke-width="0.16" text-anchor="end" textLength="21" lengthAdjust="spacingAndGlyphs" >Renilla</text>
<text x="56.8" y="41.3" font-size="7" fill="#333" stroke="#333" stroke-width="0.16" text-anchor="end" textLength="17" lengthAdjust="spacingAndGlyphs" >e12.3</text>
<text x="56.8" y="58" font-size="7" fill="#333" stroke="#333" stroke-width="0.16" text-anchor="end" textLength="17" lengthAdjust="spacingAndGlyphs" >e12.4</text>
<text x="56.8" y="74.8" font-size="7" fill="#333" stroke="#333" stroke-width="0.16" text-anchor="end" textLength="17" lengthAdjust="spacingAndGlyphs" >e20.1</text>
<text x="56.8" y="91.8" font-size="7" fill="#333" stroke="#333" stroke-width="0.16" text-anchor="end" textLength="17" lengthAdjust="spacingAndGlyphs" >e21.1</text>
<text x="56.8" y="109.5" font-size="7" fill="#333" stroke="#333" stroke-width="0.16" text-anchor="end" textLength="21" lengthAdjust="spacingAndGlyphs" >Renilla</text>
<text x="56.8" y="126.3" font-size="7" fill="#333" stroke="#333" stroke-width="0.16" text-anchor="end" textLength="17" lengthAdjust="spacingAndGlyphs" >e12.3</text>
<text x="56.8" y="142.9" font-size="7" fill="#333" stroke="#333" stroke-width="0.16" text-anchor="end" textLength="17" lengthAdjust="spacingAndGlyphs" >e12.4</text>
<text x="56.8" y="159.7" font-size="7" fill="#333" stroke="#333" stroke-width="0.16" text-anchor="end" textLength="17" lengthAdjust="spacingAndGlyphs" >e20.1</text>
<text x="56.8" y="177" font-size="7" fill="#333" stroke="#333" stroke-width="0.16" text-anchor="end" textLength="17" lengthAdjust="spacingAndGlyphs" >e21.1</text>
<text x="29.9" y="56.35" font-size="9.4" fill="#222" stroke="#222" stroke-width="0.16" text-anchor="middle" textLength="36" lengthAdjust="spacingAndGlyphs" transform="rotate(-90 29.9 56.35)" >RNA-seq</text>
<text x="29.8" y="140.35" font-size="9.4" fill="#222" stroke="#222" stroke-width="0.16" text-anchor="middle" textLength="84" lengthAdjust="spacingAndGlyphs" transform="rotate(-90 29.8 140.35)" >H3K36me3 ChIP-seq</text>
<text x="162.7" y="202.8" font-size="6.6" fill="#333" stroke="#333" stroke-width="0.16" textLength="15.9" lengthAdjust="spacingAndGlyphs" >Gas7</text>
<text x="191.3" y="202.8" font-size="6.6" fill="#333" stroke="#333" stroke-width="0.16" textLength="15.4" lengthAdjust="spacingAndGlyphs" >Gas7</text>
<text x="325" y="203.6" font-size="6.6" fill="#333" stroke="#333" stroke-width="0.16" textLength="10.5" lengthAdjust="spacingAndGlyphs" >Irf8</text>
<text x="445.8" y="203.1" font-size="6.6" fill="#333" stroke="#333" stroke-width="0.16" textLength="15" lengthAdjust="spacingAndGlyphs" >Actb</text>
<text x="10.4" y="224.2" font-size="12.6" fill="#111" stroke="#111" stroke-width="0.16" >B</text>
<rect x="37.6" y="212.8" width="24.13" height="3.1" fill="#cd8cbb" />
<rect x="61.68" y="212.8" width="24.13" height="3.1" fill="#2e9870" />
<rect x="85.76" y="212.8" width="24.13" height="3.1" fill="#dc8676" />
<rect x="109.84" y="212.8" width="24.13" height="3.1" fill="#2aa0d6" />
<rect x="133.92" y="212.8" width="24.13" height="3.1" fill="#c8b436" />
<rect x="37.6" y="216.5" width="8.08" height="1.46" fill="#fae6b3" />
<rect x="45.63" y="216.5" width="8.08" height="1.46" fill="#f9e2ae" />
<rect x="53.65" y="216.5" width="8.08" height="1.46" fill="#f1efda" />
<rect x="61.68" y="216.5" width="8.08" height="1.46" fill="#efba85" />
<rect x="69.71" y="216.5" width="8.08" height="1.46" fill="#faefc6" />
<rect x="77.73" y="216.5" width="8.08" height="1.46" fill="#f1c38b" />
<rect x="85.76" y="216.5" width="8.08" height="1.46" fill="#f8dda7" />
<rect x="93.79" y="216.5" width="8.08" height="1.46" fill="#faeec4" />
<rect x="101.81" y="216.5" width="8.08" height="1.46" fill="#faecbe" />
<rect x="109.84" y="216.5" width="8.08" height="1.46" fill="#f8e0ab" />
<rect x="117.87" y="216.5" width="8.08" height="1.46" fill="#f8dda6" />
<rect x="125.89" y="216.5" width="8.08" height="1.46" fill="#f9e3af" />
<rect x="133.92" y="216.5" width="8.08" height="1.46" fill="#e59c70" />
<rect x="141.95" y="216.5" width="8.08" height="1.46" fill="#eaab7b" />
<rect x="149.97" y="216.5" width="8.08" height="1.46" fill="#efbc86" />
<rect x="37.6" y="217.91" width="8.08" height="1.46" fill="#f8dfaa" />
<rect x="45.63" y="217.91" width="8.08" height="1.46" fill="#faebbd" />
<rect x="53.65" y="217.91" width="8.08" height="1.46" fill="#ecb07e" />
<rect x="61.68" y="217.91" width="8.08" height="1.46" fill="#f8dca5" />
<rect x="69.71" y="217.91" width="8.08" height="1.46" fill="#f9e4b0" />
<rect x="77.73" y="217.91" width="8.08" height="1.46" fill="#fae8b6" />
<rect x="85.76" y="217.91" width="8.08" height="1.46" fill="#f8dea8" />
<rect x="93.79" y="217.91" width="8.08" height="1.46" fill="#eeba85" />
<rect x="101.81" y="217.91" width="8.08" height="1.46" fill="#fae6b3" />
<rect x="109.84" y="217.91" width="8.08" height="1.46" fill="#faebbc" />
<rect x="117.87" y="217.91" width="8.08" height="1.46" fill="#f8dfaa" />
<rect x="125.89" y="217.91" width="8.08" height="1.46" fill="#ebece5" />
<rect x="133.92" y="217.91" width="8.08" height="1.46" fill="#f0bf88" />
<rect x="141.95" y="217.91" width="8.08" height="1.46" fill="#e4976d" />
<rect x="149.97" y="217.91" width="8.08" height="1.46" fill="#eaab7b" />
<rect x="37.6" y="219.33" width="8.08" height="1.46" fill="#faefc6" />
<rect x="45.63" y="219.33" width="8.08" height="1.46" fill="#f1c38b" />
<rect x="53.65" y="219.33" width="8.08" height="1.46" fill="#faf2cd" />
<rect x="61.68" y="219.33" width="8.08" height="1.46" fill="#f8dda6" />
<rect x="69.71" y="219.33" width="8.08" height="1.46" fill="#faedc2" />
<rect x="77.73" y="219.33" width="8.08" height="1.46" fill="#fae8b6" />
<rect x="85.76" y="219.33" width="8.08" height="1.46" fill="#faecbf" />
<rect x="93.79" y="219.33" width="8.08" height="1.46" fill="#faf0c7" />
<rect x="101.81" y="219.33" width="8.08" height="1.46" fill="#fae8b7" />
<rect x="109.84" y="219.33" width="8.08" height="1.46" fill="#faedc0" />
<rect x="117.87" y="219.33" width="8.08" height="1.46" fill="#faeec4" />
<rect x="125.89" y="219.33" width="8.08" height="1.46" fill="#faf0c8" />
<rect x="133.92" y="219.33" width="8.08" height="1.46" fill="#f0c089" />
<rect x="141.95" y="219.33" width="8.08" height="1.46" fill="#e7a073" />
<rect x="149.97" y="219.33" width="8.08" height="1.46" fill="#e9a778" />
<rect x="37.6" y="220.74" width="8.08" height="1.46" fill="#faeab9" />
<rect x="45.63" y="220.74" width="8.08" height="1.46" fill="#faebbd" />
<rect x="53.65" y="220.74" width="8.08" height="1.46" fill="#faecbf" />
<rect x="61.68" y="220.74" width="8.08" height="1.46" fill="#f3f0d7" />
<rect x="69.71" y="220.74" width="8.08" height="1.46" fill="#faeec3" />
<rect x="77.73" y="220.74" width="8.08" height="1.46" fill="#f1c28a" />
<rect x="85.76" y="220.74" width="8.08" height="1.46" fill="#faecbf" />
<rect x="93.79" y="220.74" width="8.08" height="1.46" fill="#faefc5" />
<rect x="101.81" y="220.74" width="8.08" height="1.46" fill="#f8dda6" />
<rect x="109.84" y="220.74" width="8.08" height="1.46" fill="#eeba85" />
<rect x="117.87" y="220.74" width="8.08" height="1.46" fill="#faecbf" />
<rect x="125.89" y="220.74" width="8.08" height="1.46" fill="#faf0c8" />
<rect x="133.92" y="220.74" width="8.08" height="1.46" fill="#e4966d" />
<rect x="141.95" y="220.74" width="8.08" height="1.46" fill="#ebad7c" />
<rect x="149.97" y="220.74" width="8.08" height="1.46" fill="#f3c88e" />
<rect x="37.6" y="222.15" width="8.08" height="1.46" fill="#faeabb" />
<rect x="45.63" y="222.15" width="8.08" height="1.46" fill="#f1c189" />
<rect x="53.65" y="222.15" width="8.08" height="1.46" fill="#faeec4" />
<rect x="61.68" y="222.15" width="8.08" height="1.46" fill="#faedc1" />
<rect x="69.71" y="222.15" width="8.08" height="1.46" fill="#f8dda6" />
<rect x="77.73" y="222.15" width="8.08" height="1.46" fill="#f9e5b1" />
<rect x="85.76" y="222.15" width="8.08" height="1.46" fill="#f9e3af" />
<rect x="93.79" y="222.15" width="8.08" height="1.46" fill="#fae6b3" />
<rect x="101.81" y="222.15" width="8.08" height="1.46" fill="#fae8b6" />
<rect x="109.84" y="222.15" width="8.08" height="1.46" fill="#faf0c7" />
<rect x="117.87" y="222.15" width="8.08" height="1.46" fill="#f3f0d7" />
<rect x="125.89" y="222.15" width="8.08" height="1.46" fill="#ebece5" />
<rect x="133.92" y="222.15" width="8.08" height="1.46" fill="#e59b70" />
<rect x="141.95" y="222.15" width="8.08" height="1.46" fill="#f1c28a" />
<rect x="149.97" y="222.15" width="8.08" height="1.46" fill="#e69d71" />
<rect x="37.6" y="223.56" width="8.08" height="1.46" fill="#faecbe" />
<rect x="45.63" y="223.56" width="8.08" height="1.46" fill="#f8dda7" />
<rect x="53.65" y="223.56" width="8.08" height="1.46" fill="#faefc6" />
<rect x="61.68" y="223.56" width="8.08" height="1.46" fill="#fae8b6" />
<rect x="69.71" y="223.56" width="8.08" height="1.46" fill="#faeaba" />
<rect x="77.73" y="223.56" width="8.08" height="1.46" fill="#faeec3" />
<rect x="85.76" y="223.56" width="8.08" height="1.46" fill="#eeba85" />
<rect x="93.79" y="223.56" width="8.08" height="1.46" fill="#f3f0d7" />
<rect x="101.81" y="223.56" width="8.08" height="1.46" fill="#f3f0d7" />
<rect x="109.84" y="223.56" width="8.08" height="1.46" fill="#faefc5" />
<rect x="117.87" y="223.56" width="8.08" height="1.46" fill="#faebbd" />
<rect x="125.89" y="223.56" width="8.08" height="1.46" fill="#f3f0d7" />
<rect x="133.92" y="223.56" width="8.08" height="1.46" fill="#f2c68d" />
<rect x="141.95" y="223.56" width="8.08" height="1.46" fill="#ebb07e" />
<rect x="149.97" y="223.56" width="8.08" height="1.46" fill="#efbb85" />
<rect x="37.6" y="224.98" width="8.08" height="1.46" fill="#f9e1ac" />
<rect x="45.63" y="224.98" width="8.08" height="1.46" fill="#fae8b7" />
<rect x="53.65" y="224.98" width="8.08" height="1.46" fill="#f5f0d5" />
<rect x="61.68" y="224.98" width="8.08" height="1.46" fill="#f9e2ad" />
<rect x="69.71" y="224.98" width="8.08" height="1.46" fill="#f9e2ae" />
<rect x="77.73" y="224.98" width="8.08" height="1.46" fill="#faecbf" />
<rect x="85.76" y="224.98" width="8.08" height="1.46" fill="#faefc6" />
<rect x="93.79" y="224.98" width="8.08" height="1.46" fill="#f3c88e" />
<rect x="101.81" y="224.98" width="8.08" height="1.46" fill="#fae7b4" />
<rect x="109.84" y="224.98" width="8.08" height="1.46" fill="#fae9b8" />
<rect x="117.87" y="224.98" width="8.08" height="1.46" fill="#fae9b9" />
<rect x="125.89" y="224.98" width="8.08" height="1.46" fill="#ebece5" />
<rect x="133.92" y="224.98" width="8.08" height="1.46" fill="#ecb380" />
<rect x="141.95" y="224.98" width="8.08" height="1.46" fill="#e7a274" />
<rect x="149.97" y="224.98" width="8.08" height="1.46" fill="#e69d71" />
<rect x="37.6" y="226.39" width="8.08" height="1.46" fill="#faeec3" />
<rect x="45.63" y="226.39" width="8.08" height="1.46" fill="#fae6b3" />
<rect x="53.65" y="226.39" width="8.08" height="1.46" fill="#faebbe" />
<rect x="61.68" y="226.39" width="8.08" height="1.46" fill="#faebbc" />
<rect x="69.71" y="226.39" width="8.08" height="1.46" fill="#faf0c7" />
<rect x="77.73" y="226.39" width="8.08" height="1.46" fill="#f9e3b0" />
<rect x="85.76" y="226.39" width="8.08" height="1.46" fill="#fae9b8" />
<rect x="93.79" y="226.39" width="8.08" height="1.46" fill="#fae9b8" />
<rect x="101.81" y="226.39" width="8.08" height="1.46" fill="#faebbd" />
<rect x="109.84" y="226.39" width="8.08" height="1.46" fill="#fae9b8" />
<rect x="117.87" y="226.39" width="8.08" height="1.46" fill="#faf0c7" />
<rect x="125.89" y="226.39" width="8.08" height="1.46" fill="#faf0c8" />
<rect x="133.92" y="226.39" width="8.08" height="1.46" fill="#efbc86" />
<rect x="141.95" y="226.39" width="8.08" height="1.46" fill="#e18f68" />
<rect x="149.97" y="226.39" width="8.08" height="1.46" fill="#e29169" />
<rect x="37.6" y="227.8" width="8.08" height="1.46" fill="#faeec4" />
<rect x="45.63" y="227.8" width="8.08" height="1.46" fill="#f9e3af" />
<rect x="53.65" y="227.8" width="8.08" height="1.46" fill="#f8f1d0" />
<rect x="61.68" y="227.8" width="8.08" height="1.46" fill="#faedc0" />
<rect x="69.71" y="227.8" width="8.08" height="1.46" fill="#f9e1ad" />
<rect x="77.73" y="227.8" width="8.08" height="1.46" fill="#f9e4b1" />
<rect x="85.76" y="227.8" width="8.08" height="1.46" fill="#faf0c7" />
<rect x="93.79" y="227.8" width="8.08" height="1.46" fill="#f8dca5" />
<rect x="101.81" y="227.8" width="8.08" height="1.46" fill="#f3f0d7" />
<rect x="109.84" y="227.8" width="8.08" height="1.46" fill="#f9e1ac" />
<rect x="117.87" y="227.8" width="8.08" height="1.46" fill="#fae8b5" />
<rect x="125.89" y="227.8" width="8.08" height="1.46" fill="#f3f0d7" />
<rect x="133.92" y="227.8" width="8.08" height="1.46" fill="#ecb27f" />
<rect x="141.95" y="227.8" width="8.08" height="1.46" fill="#e4986e" />
<rect x="149.97" y="227.8" width="8.08" height="1.46" fill="#e18f68" />
<rect x="37.6" y="229.22" width="8.08" height="1.46" fill="#f3f0d7" />
<rect x="45.63" y="229.22" width="8.08" height="1.46" fill="#fae7b5" />
<rect x="53.65" y="229.22" width="8.08" height="1.46" fill="#f6f1d2" />
<rect x="61.68" y="229.22" width="8.08" height="1.46" fill="#faedc2" />
<rect x="69.71" y="229.22" width="8.08" height="1.46" fill="#fae6b3" />
<rect x="77.73" y="229.22" width="8.08" height="1.46" fill="#f3f0d7" />
<rect x="85.76" y="229.22" width="8.08" height="1.46" fill="#faebbc" />
<rect x="93.79" y="229.22" width="8.08" height="1.46" fill="#faf0c7" />
<rect x="101.81" y="229.22" width="8.08" height="1.46" fill="#fae9b9" />
<rect x="109.84" y="229.22" width="8.08" height="1.46" fill="#fae7b5" />
<rect x="117.87" y="229.22" width="8.08" height="1.46" fill="#fae7b5" />
<rect x="125.89" y="229.22" width="8.08" height="1.46" fill="#ebece5" />
<rect x="133.92" y="229.22" width="8.08" height="1.46" fill="#d3e0ec" />
<rect x="141.95" y="229.22" width="8.08" height="1.46" fill="#d8e3ed" />
<rect x="149.97" y="229.22" width="8.08" height="1.46" fill="#dfe7ef" />
<rect x="37.6" y="230.63" width="8.08" height="1.46" fill="#f9e2ae" />
<rect x="45.63" y="230.63" width="8.08" height="1.46" fill="#faefc6" />
<rect x="53.65" y="230.63" width="8.08" height="1.46" fill="#f5f0d4" />
<rect x="61.68" y="230.63" width="8.08" height="1.46" fill="#fae9b8" />
<rect x="69.71" y="230.63" width="8.08" height="1.46" fill="#faedc2" />
<rect x="77.73" y="230.63" width="8.08" height="1.46" fill="#faedc1" />
<rect x="85.76" y="230.63" width="8.08" height="1.46" fill="#fae9b7" />
<rect x="93.79" y="230.63" width="8.08" height="1.46" fill="#faf0c7" />
<rect x="101.81" y="230.63" width="8.08" height="1.46" fill="#f3f0d7" />
<rect x="109.84" y="230.63" width="8.08" height="1.46" fill="#f8dfa9" />
<rect x="117.87" y="230.63" width="8.08" height="1.46" fill="#f8dea8" />
<rect x="125.89" y="230.63" width="8.08" height="1.46" fill="#f9e3af" />
<rect x="133.92" y="230.63" width="8.08" height="1.46" fill="#e7ebeb" />
<rect x="141.95" y="230.63" width="8.08" height="1.46" fill="#bfd4e8" />
<rect x="149.97" y="230.63" width="8.08" height="1.46" fill="#e7ebeb" />
<rect x="37.6" y="232.04" width="8.08" height="1.46" fill="#faefc5" />
<rect x="45.63" y="232.04" width="8.08" height="1.46" fill="#faeec3" />
<rect x="53.65" y="232.04" width="8.08" height="1.46" fill="#f5f0d4" />
<rect x="61.68" y="232.04" width="8.08" height="1.46" fill="#f8e0ab" />
<rect x="69.71" y="232.04" width="8.08" height="1.46" fill="#faeaba" />
<rect x="77.73" y="232.04" width="8.08" height="1.46" fill="#faeab9" />
<rect x="85.76" y="232.04" width="8.08" height="1.46" fill="#f8dea8" />
<rect x="93.79" y="232.04" width="8.08" height="1.46" fill="#faedc1" />
<rect x="101.81" y="232.04" width="8.08" height="1.46" fill="#faedc1" />
<rect x="109.84" y="232.04" width="8.08" height="1.46" fill="#fae9b8" />
<rect x="117.87" y="232.04" width="8.08" height="1.46" fill="#f9e1ac" />
<rect x="125.89" y="232.04" width="8.08" height="1.46" fill="#ebece5" />
<rect x="133.92" y="232.04" width="8.08" height="1.46" fill="#e7ebeb" />
<rect x="141.95" y="232.04" width="8.08" height="1.46" fill="#b9d1e6" />
<rect x="149.97" y="232.04" width="8.08" height="1.46" fill="#b3cee5" />
<rect x="37.6" y="233.45" width="8.08" height="1.46" fill="#faecbe" />
<rect x="45.63" y="233.45" width="8.08" height="1.46" fill="#faebbc" />
<rect x="53.65" y="233.45" width="8.08" height="1.46" fill="#faf0c8" />
<rect x="61.68" y="233.45" width="8.08" height="1.46" fill="#f9e2ae" />
<rect x="69.71" y="233.45" width="8.08" height="1.46" fill="#f8dca5" />
<rect x="77.73" y="233.45" width="8.08" height="1.46" fill="#f8dca6" />
<rect x="85.76" y="233.45" width="8.08" height="1.46" fill="#faecbf" />
<rect x="93.79" y="233.45" width="8.08" height="1.46" fill="#faf0c7" />
<rect x="101.81" y="233.45" width="8.08" height="1.46" fill="#faefc6" />
<rect x="109.84" y="233.45" width="8.08" height="1.46" fill="#faecbf" />
<rect x="117.87" y="233.45" width="8.08" height="1.46" fill="#faebbc" />
<rect x="125.89" y="233.45" width="8.08" height="1.46" fill="#ebece5" />
<rect x="133.92" y="233.45" width="8.08" height="1.46" fill="#a6c6e2" />
<rect x="141.95" y="233.45" width="8.08" height="1.46" fill="#c1d6e8" />
<rect x="149.97" y="233.45" width="8.08" height="1.46" fill="#e7ebeb" />
<rect x="37.6" y="234.87" width="8.08" height="1.46" fill="#f8dea7" />
<rect x="45.63" y="234.87" width="8.08" height="1.46" fill="#f3f0d7" />
<rect x="53.65" y="234.87" width="8.08" height="1.46" fill="#f7f1d0" />
<rect x="61.68" y="234.87" width="8.08" height="1.46" fill="#faf0c7" />
<rect x="69.71" y="234.87" width="8.08" height="1.46" fill="#fae9b8" />
<rect x="77.73" y="234.87" width="8.08" height="1.46" fill="#faeec3" />
<rect x="85.76" y="234.87" width="8.08" height="1.46" fill="#faecbf" />
<rect x="93.79" y="234.87" width="8.08" height="1.46" fill="#f9e2ae" />
<rect x="101.81" y="234.87" width="8.08" height="1.46" fill="#faedc1" />
<rect x="109.84" y="234.87" width="8.08" height="1.46" fill="#f8e0aa" />
<rect x="117.87" y="234.87" width="8.08" height="1.46" fill="#f8dea8" />
<rect x="125.89" y="234.87" width="8.08" height="1.46" fill="#f9e3af" />
<rect x="133.92" y="234.87" width="8.08" height="1.46" fill="#b2cde5" />
<rect x="141.95" y="234.87" width="8.08" height="1.46" fill="#e7ebeb" />
<rect x="149.97" y="234.87" width="8.08" height="1.46" fill="#c9daea" />
<rect x="37.6" y="236.28" width="8.08" height="1.46" fill="#fae9b8" />
<rect x="45.63" y="236.28" width="8.08" height="1.46" fill="#faf0c7" />
<rect x="53.65" y="236.28" width="8.08" height="1.46" fill="#f2efd9" />
<rect x="61.68" y="236.28" width="8.08" height="1.46" fill="#f8dda6" />
<rect x="69.71" y="236.28" width="8.08" height="1.46" fill="#fae8b6" />
<rect x="77.73" y="236.28" width="8.08" height="1.46" fill="#faeec2" />
<rect x="85.76" y="236.28" width="8.08" height="1.46" fill="#faefc6" />
<rect x="93.79" y="236.28" width="8.08" height="1.46" fill="#faecbf" />
<rect x="101.81" y="236.28" width="8.08" height="1.46" fill="#f3f0d7" />
<rect x="109.84" y="236.28" width="8.08" height="1.46" fill="#faedc2" />
<rect x="117.87" y="236.28" width="8.08" height="1.46" fill="#f9e1ac" />
<rect x="125.89" y="236.28" width="8.08" height="1.46" fill="#f9e3af" />
<rect x="133.92" y="236.28" width="8.08" height="1.46" fill="#c3d7e9" />
<rect x="141.95" y="236.28" width="8.08" height="1.46" fill="#c6d9e9" />
<rect x="149.97" y="236.28" width="8.08" height="1.46" fill="#b0cce4" />
<rect x="37.6" y="237.69" width="8.08" height="1.46" fill="#f8dca6" />
<rect x="45.63" y="237.69" width="8.08" height="1.46" fill="#f9e4b1" />
<rect x="53.65" y="237.69" width="8.08" height="1.46" fill="#f6f0d3" />
<rect x="61.68" y="237.69" width="8.08" height="1.46" fill="#f8e0ab" />
<rect x="69.71" y="237.69" width="8.08" height="1.46" fill="#faecbf" />
<rect x="77.73" y="237.69" width="8.08" height="1.46" fill="#f9e5b2" />
<rect x="85.76" y="237.69" width="8.08" height="1.46" fill="#f9e3ae" />
<rect x="93.79" y="237.69" width="8.08" height="1.46" fill="#fae6b3" />
<rect x="101.81" y="237.69" width="8.08" height="1.46" fill="#f1c38b" />
<rect x="109.84" y="237.69" width="8.08" height="1.46" fill="#fae6b3" />
<rect x="117.87" y="237.69" width="8.08" height="1.46" fill="#f8e0ab" />
<rect x="125.89" y="237.69" width="8.08" height="1.46" fill="#f3f0d7" />
<rect x="133.92" y="237.69" width="8.08" height="1.46" fill="#c0d5e8" />
<rect x="141.95" y="237.69" width="8.08" height="1.46" fill="#e7ebeb" />
<rect x="149.97" y="237.69" width="8.08" height="1.46" fill="#afcbe4" />
<rect x="37.6" y="239.11" width="8.08" height="1.46" fill="#faecbe" />
<rect x="45.63" y="239.11" width="8.08" height="1.46" fill="#faeec3" />
<rect x="53.65" y="239.11" width="8.08" height="1.46" fill="#ecb07e" />
<rect x="61.68" y="239.11" width="8.08" height="1.46" fill="#f8e0ab" />
<rect x="69.71" y="239.11" width="8.08" height="1.46" fill="#faeec3" />
<rect x="77.73" y="239.11" width="8.08" height="1.46" fill="#faefc6" />
<rect x="85.76" y="239.11" width="8.08" height="1.46" fill="#fae7b5" />
<rect x="93.79" y="239.11" width="8.08" height="1.46" fill="#faecbe" />
<rect x="101.81" y="239.11" width="8.08" height="1.46" fill="#faeec2" />
<rect x="109.84" y="239.11" width="8.08" height="1.46" fill="#faebbd" />
<rect x="117.87" y="239.11" width="8.08" height="1.46" fill="#faeaba" />
<rect x="125.89" y="239.11" width="8.08" height="1.46" fill="#faecbf" />
<rect x="133.92" y="239.11" width="8.08" height="1.46" fill="#9abbdc" />
<rect x="141.95" y="239.11" width="8.08" height="1.46" fill="#d0deeb" />
<rect x="149.97" y="239.11" width="8.08" height="1.46" fill="#dee7ef" />
<rect x="37.6" y="240.52" width="8.08" height="1.46" fill="#f9e1ad" />
<rect x="45.63" y="240.52" width="8.08" height="1.46" fill="#f3f0d7" />
<rect x="53.65" y="240.52" width="8.08" height="1.46" fill="#f6f0d3" />
<rect x="61.68" y="240.52" width="8.08" height="1.46" fill="#faecc0" />
<rect x="69.71" y="240.52" width="8.08" height="1.46" fill="#f8dea8" />
<rect x="77.73" y="240.52" width="8.08" height="1.46" fill="#f8dda7" />
<rect x="85.76" y="240.52" width="8.08" height="1.46" fill="#f9e2ae" />
<rect x="93.79" y="240.52" width="8.08" height="1.46" fill="#f8dda6" />
<rect x="101.81" y="240.52" width="8.08" height="1.46" fill="#f8dfa9" />
<rect x="109.84" y="240.52" width="8.08" height="1.46" fill="#f8dca6" />
<rect x="117.87" y="240.52" width="8.08" height="1.46" fill="#f9e3ae" />
<rect x="125.89" y="240.52" width="8.08" height="1.46" fill="#f3f0d7" />
<rect x="133.92" y="240.52" width="8.08" height="1.46" fill="#b1cde5" />
<rect x="141.95" y="240.52" width="8.08" height="1.46" fill="#c7d9ea" />
<rect x="149.97" y="240.52" width="8.08" height="1.46" fill="#e7ebeb" />
<rect x="37.6" y="241.93" width="8.08" height="1.46" fill="#faebbc" />
<rect x="45.63" y="241.93" width="8.08" height="1.46" fill="#faebbc" />
<rect x="53.65" y="241.93" width="8.08" height="1.46" fill="#e4eaef" />
<rect x="61.68" y="241.93" width="8.08" height="1.46" fill="#faefc6" />
<rect x="69.71" y="241.93" width="8.08" height="1.46" fill="#fae9b7" />
<rect x="77.73" y="241.93" width="8.08" height="1.46" fill="#fae8b7" />
<rect x="85.76" y="241.93" width="8.08" height="1.46" fill="#fae6b3" />
<rect x="93.79" y="241.93" width="8.08" height="1.46" fill="#faebbd" />
<rect x="101.81" y="241.93" width="8.08" height="1.46" fill="#f0bf88" />
<rect x="109.84" y="241.93" width="8.08" height="1.46" fill="#fae9b8" />
<rect x="117.87" y="241.93" width="8.08" height="1.46" fill="#f9e5b2" />
<rect x="125.89" y="241.93" width="8.08" height="1.46" fill="#ebece5" />
<rect x="133.92" y="241.93" width="8.08" height="1.46" fill="#d2dfec" />
<rect x="141.95" y="241.93" width="8.08" height="1.46" fill="#e7ebeb" />
<rect x="149.97" y="241.93" width="8.08" height="1.46" fill="#e7ebeb" />
<rect x="37.6" y="243.34" width="8.08" height="1.46" fill="#f8e0ab" />
<rect x="45.63" y="243.34" width="8.08" height="1.46" fill="#f8dca5" />
<rect x="53.65" y="243.34" width="8.08" height="1.46" fill="#eeeee0" />
<rect x="61.68" y="243.34" width="8.08" height="1.46" fill="#faeaba" />
<rect x="69.71" y="243.34" width="8.08" height="1.46" fill="#fae7b5" />
<rect x="77.73" y="243.34" width="8.08" height="1.46" fill="#faedc1" />
<rect x="85.76" y="243.34" width="8.08" height="1.46" fill="#fae7b5" />
<rect x="93.79" y="243.34" width="8.08" height="1.46" fill="#faeaba" />
<rect x="101.81" y="243.34" width="8.08" height="1.46" fill="#efbd87" />
<rect x="109.84" y="243.34" width="8.08" height="1.46" fill="#f8dea8" />
<rect x="117.87" y="243.34" width="8.08" height="1.46" fill="#f8e0ab" />
<rect x="125.89" y="243.34" width="8.08" height="1.46" fill="#faf0c8" />
<rect x="133.92" y="243.34" width="8.08" height="1.46" fill="#bdd3e7" />
<rect x="141.95" y="243.34" width="8.08" height="1.46" fill="#cedeeb" />
<rect x="149.97" y="243.34" width="8.08" height="1.46" fill="#dae4ee" />
<rect x="37.6" y="244.76" width="8.08" height="1.46" fill="#fae9b8" />
<rect x="45.63" y="244.76" width="8.08" height="1.46" fill="#fae7b5" />
<rect x="53.65" y="244.76" width="8.08" height="1.46" fill="#e7ebec" />
<rect x="61.68" y="244.76" width="8.08" height="1.46" fill="#faf0c7" />
<rect x="69.71" y="244.76" width="8.08" height="1.46" fill="#faeec3" />
<rect x="77.73" y="244.76" width="8.08" height="1.46" fill="#f9e1ac" />
<rect x="85.76" y="244.76" width="8.08" height="1.46" fill="#faeec3" />
<rect x="93.79" y="244.76" width="8.08" height="1.46" fill="#faeaba" />
<rect x="101.81" y="244.76" width="8.08" height="1.46" fill="#faedc0" />
<rect x="109.84" y="244.76" width="8.08" height="1.46" fill="#faedc1" />
<rect x="117.87" y="244.76" width="8.08" height="1.46" fill="#faecbe" />
<rect x="125.89" y="244.76" width="8.08" height="1.46" fill="#faf0c8" />
<rect x="133.92" y="244.76" width="8.08" height="1.46" fill="#bcd3e7" />
<rect x="141.95" y="244.76" width="8.08" height="1.46" fill="#b7d0e6" />
<rect x="149.97" y="244.76" width="8.08" height="1.46" fill="#b7d0e6" />
<rect x="37.6" y="246.17" width="8.08" height="1.46" fill="#f3f0d7" />
<rect x="45.63" y="246.17" width="8.08" height="1.46" fill="#f9e2ad" />
<rect x="53.65" y="246.17" width="8.08" height="1.46" fill="#f1efdb" />
<rect x="61.68" y="246.17" width="8.08" height="1.46" fill="#f8dca5" />
<rect x="69.71" y="246.17" width="8.08" height="1.46" fill="#f9e1ad" />
<rect x="77.73" y="246.17" width="8.08" height="1.46" fill="#fae6b3" />
<rect x="85.76" y="246.17" width="8.08" height="1.46" fill="#f1c38b" />
<rect x="93.79" y="246.17" width="8.08" height="1.46" fill="#f3f0d7" />
<rect x="101.81" y="246.17" width="8.08" height="1.46" fill="#f3f0d7" />
<rect x="109.84" y="246.17" width="8.08" height="1.46" fill="#f3f0d7" />
<rect x="117.87" y="246.17" width="8.08" height="1.46" fill="#faefc5" />
<rect x="125.89" y="246.17" width="8.08" height="1.46" fill="#f9e3af" />
<rect x="133.92" y="246.17" width="8.08" height="1.46" fill="#aecbe4" />
<rect x="141.95" y="246.17" width="8.08" height="1.46" fill="#b8d1e6" />
<rect x="149.97" y="246.17" width="8.08" height="1.46" fill="#c4d8e9" />
<rect x="37.6" y="247.58" width="8.08" height="1.46" fill="#f9e3ae" />
<rect x="45.63" y="247.58" width="8.08" height="1.46" fill="#f8dca5" />
<rect x="53.65" y="247.58" width="8.08" height="1.46" fill="#e7ebeb" />
<rect x="61.68" y="247.58" width="8.08" height="1.46" fill="#f9e5b1" />
<rect x="69.71" y="247.58" width="8.08" height="1.46" fill="#faecbf" />
<rect x="77.73" y="247.58" width="8.08" height="1.46" fill="#faeec4" />
<rect x="85.76" y="247.58" width="8.08" height="1.46" fill="#faefc5" />
<rect x="93.79" y="247.58" width="8.08" height="1.46" fill="#f9e5b2" />
<rect x="101.81" y="247.58" width="8.08" height="1.46" fill="#faecbf" />
<rect x="109.84" y="247.58" width="8.08" height="1.46" fill="#f8e0ab" />
<rect x="117.87" y="247.58" width="8.08" height="1.46" fill="#fae9b8" />
<rect x="125.89" y="247.58" width="8.08" height="1.46" fill="#f9e3af" />
<rect x="133.92" y="247.58" width="8.08" height="1.46" fill="#a7c7e2" />
<rect x="141.95" y="247.58" width="8.08" height="1.46" fill="#dee7ef" />
<rect x="149.97" y="247.58" width="8.08" height="1.46" fill="#e7ebeb" />
<rect x="37.6" y="249" width="8.08" height="1.46" fill="#fae8b6" />
<rect x="45.63" y="249" width="8.08" height="1.46" fill="#fae9b7" />
<rect x="53.65" y="249" width="8.08" height="1.46" fill="#e8ece9" />
<rect x="61.68" y="249" width="8.08" height="1.46" fill="#faebbd" />
<rect x="69.71" y="249" width="8.08" height="1.46" fill="#faebbd" />
<rect x="77.73" y="249" width="8.08" height="1.46" fill="#f1c38b" />
<rect x="85.76" y="249" width="8.08" height="1.46" fill="#faeabb" />
<rect x="93.79" y="249" width="8.08" height="1.46" fill="#fae9b8" />
<rect x="101.81" y="249" width="8.08" height="1.46" fill="#fae7b4" />
<rect x="109.84" y="249" width="8.08" height="1.46" fill="#faedc1" />
<rect x="117.87" y="249" width="8.08" height="1.46" fill="#faeabb" />
<rect x="125.89" y="249" width="8.08" height="1.46" fill="#f3f0d7" />
<rect x="133.92" y="249" width="8.08" height="1.46" fill="#ceddeb" />
<rect x="141.95" y="249" width="8.08" height="1.46" fill="#e7ebeb" />
<rect x="149.97" y="249" width="8.08" height="1.46" fill="#accae3" />
<rect x="37.6" y="250.41" width="8.08" height="1.46" fill="#faeaba" />
<rect x="45.63" y="250.41" width="8.08" height="1.46" fill="#fae8b6" />
<rect x="53.65" y="250.41" width="8.08" height="1.46" fill="#eeeee0" />
<rect x="61.68" y="250.41" width="8.08" height="1.46" fill="#faeabb" />
<rect x="69.71" y="250.41" width="8.08" height="1.46" fill="#f8dda7" />
<rect x="77.73" y="250.41" width="8.08" height="1.46" fill="#faf0c7" />
<rect x="85.76" y="250.41" width="8.08" height="1.46" fill="#faeaba" />
<rect x="93.79" y="250.41" width="8.08" height="1.46" fill="#faedc2" />
<rect x="101.81" y="250.41" width="8.08" height="1.46" fill="#f8dda6" />
<rect x="109.84" y="250.41" width="8.08" height="1.46" fill="#f3f0d7" />
<rect x="117.87" y="250.41" width="8.08" height="1.46" fill="#f8e0ab" />
<rect x="125.89" y="250.41" width="8.08" height="1.46" fill="#faecbf" />
<rect x="133.92" y="250.41" width="8.08" height="1.46" fill="#c0d5e8" />
<rect x="141.95" y="250.41" width="8.08" height="1.46" fill="#aecbe4" />
<rect x="149.97" y="250.41" width="8.08" height="1.46" fill="#dae4ee" />
<rect x="37.6" y="251.82" width="8.08" height="1.46" fill="#eeb984" />
<rect x="45.63" y="251.82" width="8.08" height="1.46" fill="#f8dca5" />
<rect x="53.65" y="251.82" width="8.08" height="1.46" fill="#eaece6" />
<rect x="61.68" y="251.82" width="8.08" height="1.46" fill="#faeec3" />
<rect x="69.71" y="251.82" width="8.08" height="1.46" fill="#f3f0d7" />
<rect x="77.73" y="251.82" width="8.08" height="1.46" fill="#f9e3af" />
<rect x="85.76" y="251.82" width="8.08" height="1.46" fill="#faefc5" />
<rect x="93.79" y="251.82" width="8.08" height="1.46" fill="#faf0c7" />
<rect x="101.81" y="251.82" width="8.08" height="1.46" fill="#f3c88e" />
<rect x="109.84" y="251.82" width="8.08" height="1.46" fill="#faf0c7" />
<rect x="117.87" y="251.82" width="8.08" height="1.46" fill="#faecbf" />
<rect x="125.89" y="251.82" width="8.08" height="1.46" fill="#faecbf" />
<rect x="133.92" y="251.82" width="8.08" height="1.46" fill="#e7ebeb" />
<rect x="141.95" y="251.82" width="8.08" height="1.46" fill="#c1d6e8" />
<rect x="149.97" y="251.82" width="8.08" height="1.46" fill="#e7ebeb" />
<rect x="37.6" y="253.23" width="8.08" height="1.46" fill="#faebbd" />
<rect x="45.63" y="253.23" width="8.08" height="1.46" fill="#faebbc" />
<rect x="53.65" y="253.23" width="8.08" height="1.46" fill="#e6ebed" />
<rect x="61.68" y="253.23" width="8.08" height="1.46" fill="#faebbc" />
<rect x="69.71" y="253.23" width="8.08" height="1.46" fill="#faeabb" />
<rect x="77.73" y="253.23" width="8.08" height="1.46" fill="#f8dca5" />
<rect x="85.76" y="253.23" width="8.08" height="1.46" fill="#faeabb" />
<rect x="93.79" y="253.23" width="8.08" height="1.46" fill="#faf0c8" />
<rect x="101.81" y="253.23" width="8.08" height="1.46" fill="#fae8b6" />
<rect x="109.84" y="253.23" width="8.08" height="1.46" fill="#faecbf" />
<rect x="117.87" y="253.23" width="8.08" height="1.46" fill="#efba85" />
<rect x="125.89" y="253.23" width="8.08" height="1.46" fill="#f3f0d7" />
<rect x="133.92" y="253.23" width="8.08" height="1.46" fill="#bbd2e7" />
<rect x="141.95" y="253.23" width="8.08" height="1.46" fill="#b4cee5" />
<rect x="149.97" y="253.23" width="8.08" height="1.46" fill="#b0cce4" />
<rect x="37.6" y="254.65" width="8.08" height="1.46" fill="#faecbe" />
<rect x="45.63" y="254.65" width="8.08" height="1.46" fill="#fae9b8" />
<rect x="53.65" y="254.65" width="8.08" height="1.46" fill="#e5eaee" />
<rect x="61.68" y="254.65" width="8.08" height="1.46" fill="#faefc5" />
<rect x="69.71" y="254.65" width="8.08" height="1.46" fill="#f9e2ae" />
<rect x="77.73" y="254.65" width="8.08" height="1.46" fill="#f9e3af" />
<rect x="85.76" y="254.65" width="8.08" height="1.46" fill="#f3f0d7" />
<rect x="93.79" y="254.65" width="8.08" height="1.46" fill="#eeb884" />
<rect x="101.81" y="254.65" width="8.08" height="1.46" fill="#faeaba" />
<rect x="109.84" y="254.65" width="8.08" height="1.46" fill="#faebbc" />
<rect x="117.87" y="254.65" width="8.08" height="1.46" fill="#faecbf" />
<rect x="125.89" y="254.65" width="8.08" height="1.46" fill="#f3f0d7" />
<rect x="133.92" y="254.65" width="8.08" height="1.46" fill="#e7ebeb" />
<rect x="141.95" y="254.65" width="8.08" height="1.46" fill="#e1e8ef" />
<rect x="149.97" y="254.65" width="8.08" height="1.46" fill="#cadbea" />
<rect x="37.6" y="256.06" width="8.08" height="1.46" fill="#faedc0" />
<rect x="45.63" y="256.06" width="8.08" height="1.46" fill="#faeec3" />
<rect x="53.65" y="256.06" width="8.08" height="1.46" fill="#e1e8ef" />
<rect x="61.68" y="256.06" width="8.08" height="1.46" fill="#f2c68d" />
<rect x="69.71" y="256.06" width="8.08" height="1.46" fill="#f0bf88" />
<rect x="77.73" y="256.06" width="8.08" height="1.46" fill="#faefc6" />
<rect x="85.76" y="256.06" width="8.08" height="1.46" fill="#f9e1ad" />
<rect x="93.79" y="256.06" width="8.08" height="1.46" fill="#fae9b7" />
<rect x="101.81" y="256.06" width="8.08" height="1.46" fill="#f3f0d7" />
<rect x="109.84" y="256.06" width="8.08" height="1.46" fill="#eeb783" />
<rect x="117.87" y="256.06" width="8.08" height="1.46" fill="#f8dfaa" />
<rect x="125.89" y="256.06" width="8.08" height="1.46" fill="#faf0c8" />
<rect x="133.92" y="256.06" width="8.08" height="1.46" fill="#acc9e3" />
<rect x="141.95" y="256.06" width="8.08" height="1.46" fill="#b4cee5" />
<rect x="149.97" y="256.06" width="8.08" height="1.46" fill="#d2e0ec" />
<rect x="37.6" y="257.47" width="8.08" height="1.46" fill="#fae6b3" />
<rect x="45.63" y="257.47" width="8.08" height="1.46" fill="#f8dca5" />
<rect x="53.65" y="257.47" width="8.08" height="1.46" fill="#e2e9ef" />
<rect x="61.68" y="257.47" width="8.08" height="1.46" fill="#f0be88" />
<rect x="69.71" y="257.47" width="8.08" height="1.46" fill="#f9e1ad" />
<rect x="77.73" y="257.47" width="8.08" height="1.46" fill="#faeec4" />
<rect x="85.76" y="257.47" width="8.08" height="1.46" fill="#faeec2" />
<rect x="93.79" y="257.47" width="8.08" height="1.46" fill="#faeec3" />
<rect x="101.81" y="257.47" width="8.08" height="1.46" fill="#faeec3" />
<rect x="109.84" y="257.47" width="8.08" height="1.46" fill="#fae8b6" />
<rect x="117.87" y="257.47" width="8.08" height="1.46" fill="#faeabb" />
<rect x="125.89" y="257.47" width="8.08" height="1.46" fill="#faf0c8" />
<rect x="133.92" y="257.47" width="8.08" height="1.46" fill="#d3e0ec" />
<rect x="141.95" y="257.47" width="8.08" height="1.46" fill="#bcd3e7" />
<rect x="149.97" y="257.47" width="8.08" height="1.46" fill="#dae4ee" />
<rect x="37.6" y="258.89" width="8.08" height="1.46" fill="#faeabb" />
<rect x="45.63" y="258.89" width="8.08" height="1.46" fill="#faeabb" />
<rect x="53.65" y="258.89" width="8.08" height="1.46" fill="#efeede" />
<rect x="61.68" y="258.89" width="8.08" height="1.46" fill="#f8dda7" />
<rect x="69.71" y="258.89" width="8.08" height="1.46" fill="#f8dea9" />
<rect x="77.73" y="258.89" width="8.08" height="1.46" fill="#faeec4" />
<rect x="85.76" y="258.89" width="8.08" height="1.46" fill="#f1c089" />
<rect x="93.79" y="258.89" width="8.08" height="1.46" fill="#fae6b4" />
<rect x="101.81" y="258.89" width="8.08" height="1.46" fill="#f9e5b2" />
<rect x="109.84" y="258.89" width="8.08" height="1.46" fill="#faf0c7" />
<rect x="117.87" y="258.89" width="8.08" height="1.46" fill="#fae7b5" />
<rect x="125.89" y="258.89" width="8.08" height="1.46" fill="#f3f0d7" />
<rect x="133.92" y="258.89" width="8.08" height="1.46" fill="#a2c3e0" />
<rect x="141.95" y="258.89" width="8.08" height="1.46" fill="#dee7ef" />
<rect x="149.97" y="258.89" width="8.08" height="1.46" fill="#d5e1ed" />
<rect x="37.6" y="260.3" width="8.08" height="1.46" fill="#f9e4b1" />
<rect x="45.63" y="260.3" width="8.08" height="1.46" fill="#faefc4" />
<rect x="53.65" y="260.3" width="8.08" height="1.46" fill="#eaece7" />
<rect x="61.68" y="260.3" width="8.08" height="1.46" fill="#faeabb" />
<rect x="69.71" y="260.3" width="8.08" height="1.46" fill="#f8e0ab" />
<rect x="77.73" y="260.3" width="8.08" height="1.46" fill="#f9e5b2" />
<rect x="85.76" y="260.3" width="8.08" height="1.46" fill="#fae8b7" />
<rect x="93.79" y="260.3" width="8.08" height="1.46" fill="#faedc2" />
<rect x="101.81" y="260.3" width="8.08" height="1.46" fill="#f3f0d7" />
<rect x="109.84" y="260.3" width="8.08" height="1.46" fill="#f9e1ac" />
<rect x="117.87" y="260.3" width="8.08" height="1.46" fill="#f3f0d7" />
<rect x="125.89" y="260.3" width="8.08" height="1.46" fill="#faf0c8" />
<rect x="133.92" y="260.3" width="8.08" height="1.46" fill="#9ebfde" />
<rect x="141.95" y="260.3" width="8.08" height="1.46" fill="#b9d1e6" />
<rect x="149.97" y="260.3" width="8.08" height="1.46" fill="#e7ebeb" />
<rect x="37.6" y="261.71" width="8.08" height="1.46" fill="#faefc6" />
<rect x="45.63" y="261.71" width="8.08" height="1.46" fill="#faeec3" />
<rect x="53.65" y="261.71" width="8.08" height="1.46" fill="#faefc5" />
<rect x="61.68" y="261.71" width="8.08" height="1.46" fill="#f9e2ad" />
<rect x="69.71" y="261.71" width="8.08" height="1.46" fill="#faeec3" />
<rect x="77.73" y="261.71" width="8.08" height="1.46" fill="#faeab9" />
<rect x="85.76" y="261.71" width="8.08" height="1.46" fill="#f8dca5" />
<rect x="93.79" y="261.71" width="8.08" height="1.46" fill="#f9e2ae" />
<rect x="101.81" y="261.71" width="8.08" height="1.46" fill="#faeaba" />
<rect x="109.84" y="261.71" width="8.08" height="1.46" fill="#fae9b7" />
<rect x="117.87" y="261.71" width="8.08" height="1.46" fill="#faeabb" />
<rect x="125.89" y="261.71" width="8.08" height="1.46" fill="#ecb280" />
<rect x="133.92" y="261.71" width="8.08" height="1.46" fill="#b9d1e6" />
<rect x="141.95" y="261.71" width="8.08" height="1.46" fill="#c6d8e9" />
<rect x="149.97" y="261.71" width="8.08" height="1.46" fill="#b6cfe6" />
<rect x="37.6" y="263.12" width="8.08" height="1.46" fill="#f3f0d7" />
<rect x="45.63" y="263.12" width="8.08" height="1.46" fill="#faecbf" />
<rect x="53.65" y="263.12" width="8.08" height="1.46" fill="#faebbc" />
<rect x="61.68" y="263.12" width="8.08" height="1.46" fill="#fae9b9" />
<rect x="69.71" y="263.12" width="8.08" height="1.46" fill="#faefc6" />
<rect x="77.73" y="263.12" width="8.08" height="1.46" fill="#faebbc" />
<rect x="85.76" y="263.12" width="8.08" height="1.46" fill="#faeab9" />
<rect x="93.79" y="263.12" width="8.08" height="1.46" fill="#f8e0ab" />
<rect x="101.81" y="263.12" width="8.08" height="1.46" fill="#fae9b9" />
<rect x="109.84" y="263.12" width="8.08" height="1.46" fill="#f1c18a" />
<rect x="117.87" y="263.12" width="8.08" height="1.46" fill="#faf0c7" />
<rect x="125.89" y="263.12" width="8.08" height="1.46" fill="#f3c98f" />
<rect x="133.92" y="263.12" width="8.08" height="1.46" fill="#b1cce4" />
<rect x="141.95" y="263.12" width="8.08" height="1.46" fill="#e7ebeb" />
<rect x="149.97" y="263.12" width="8.08" height="1.46" fill="#e7ebeb" />
<rect x="37.6" y="264.54" width="8.08" height="1.46" fill="#fae6b3" />
<rect x="45.63" y="264.54" width="8.08" height="1.46" fill="#faedc2" />
<rect x="53.65" y="264.54" width="8.08" height="1.46" fill="#f1efda" />
<rect x="61.68" y="264.54" width="8.08" height="1.46" fill="#fae9b9" />
<rect x="69.71" y="264.54" width="8.08" height="1.46" fill="#f9e5b2" />
<rect x="77.73" y="264.54" width="8.08" height="1.46" fill="#faefc6" />
<rect x="85.76" y="264.54" width="8.08" height="1.46" fill="#faecbf" />
<rect x="93.79" y="264.54" width="8.08" height="1.46" fill="#fae9b8" />
<rect x="101.81" y="264.54" width="8.08" height="1.46" fill="#faedc1" />
<rect x="109.84" y="264.54" width="8.08" height="1.46" fill="#f9e1ac" />
<rect x="117.87" y="264.54" width="8.08" height="1.46" fill="#fae6b4" />
<rect x="125.89" y="264.54" width="8.08" height="1.46" fill="#f0bf88" />
<rect x="133.92" y="264.54" width="8.08" height="1.46" fill="#a6c6e2" />
<rect x="141.95" y="264.54" width="8.08" height="1.46" fill="#c6d9e9" />
<rect x="149.97" y="264.54" width="8.08" height="1.46" fill="#e7ebeb" />
<rect x="37.6" y="265.95" width="8.08" height="1.46" fill="#faeec2" />
<rect x="45.63" y="265.95" width="8.08" height="1.46" fill="#fae6b4" />
<rect x="53.65" y="265.95" width="8.08" height="1.46" fill="#f6f0d3" />
<rect x="61.68" y="265.95" width="8.08" height="1.46" fill="#f9e2ae" />
<rect x="69.71" y="265.95" width="8.08" height="1.46" fill="#f9e3af" />
<rect x="77.73" y="265.95" width="8.08" height="1.46" fill="#f8dfa9" />
<rect x="85.76" y="265.95" width="8.08" height="1.46" fill="#fae7b5" />
<rect x="93.79" y="265.95" width="8.08" height="1.46" fill="#f9e3af" />
<rect x="101.81" y="265.95" width="8.08" height="1.46" fill="#faedc1" />
<rect x="109.84" y="265.95" width="8.08" height="1.46" fill="#faedc0" />
<rect x="117.87" y="265.95" width="8.08" height="1.46" fill="#faeabb" />
<rect x="125.89" y="265.95" width="8.08" height="1.46" fill="#f5d095" />
<rect x="133.92" y="265.95" width="8.08" height="1.46" fill="#aecbe4" />
<rect x="141.95" y="265.95" width="8.08" height="1.46" fill="#bcd3e7" />
<rect x="149.97" y="265.95" width="8.08" height="1.46" fill="#c4d7e9" />
<rect x="37.6" y="267.36" width="8.08" height="1.46" fill="#f8e0ab" />
<rect x="45.63" y="267.36" width="8.08" height="1.46" fill="#fae8b5" />
<rect x="53.65" y="267.36" width="8.08" height="1.46" fill="#f3f0d7" />
<rect x="61.68" y="267.36" width="8.08" height="1.46" fill="#faeaba" />
<rect x="69.71" y="267.36" width="8.08" height="1.46" fill="#faedc0" />
<rect x="77.73" y="267.36" width="8.08" height="1.46" fill="#f3f0d7" />
<rect x="85.76" y="267.36" width="8.08" height="1.46" fill="#faf0c7" />
<rect x="93.79" y="267.36" width="8.08" height="1.46" fill="#faebbd" />
<rect x="101.81" y="267.36" width="8.08" height="1.46" fill="#f9e3af" />
<rect x="109.84" y="267.36" width="8.08" height="1.46" fill="#faeec3" />
<rect x="117.87" y="267.36" width="8.08" height="1.46" fill="#f8dca5" />
<rect x="125.89" y="267.36" width="8.08" height="1.46" fill="#f9e3af" />
<rect x="133.92" y="267.36" width="8.08" height="1.46" fill="#cadbea" />
<rect x="141.95" y="267.36" width="8.08" height="1.46" fill="#b9d1e6" />
<rect x="149.97" y="267.36" width="8.08" height="1.46" fill="#b3cee5" />
<rect x="37.6" y="268.78" width="8.08" height="1.46" fill="#f3f0d7" />
<rect x="45.63" y="268.78" width="8.08" height="1.46" fill="#fae9b9" />
<rect x="53.65" y="268.78" width="8.08" height="1.46" fill="#faf0c8" />
<rect x="61.68" y="268.78" width="8.08" height="1.46" fill="#fae6b3" />
<rect x="69.71" y="268.78" width="8.08" height="1.46" fill="#fae6b3" />
<rect x="77.73" y="268.78" width="8.08" height="1.46" fill="#faefc6" />
<rect x="85.76" y="268.78" width="8.08" height="1.46" fill="#faefc5" />
<rect x="93.79" y="268.78" width="8.08" height="1.46" fill="#faefc4" />
<rect x="101.81" y="268.78" width="8.08" height="1.46" fill="#faefc5" />
<rect x="109.84" y="268.78" width="8.08" height="1.46" fill="#f9e3b0" />
<rect x="117.87" y="268.78" width="8.08" height="1.46" fill="#f8dfaa" />
<rect x="125.89" y="268.78" width="8.08" height="1.46" fill="#f3c78e" />
<rect x="133.92" y="268.78" width="8.08" height="1.46" fill="#e7ebeb" />
<rect x="141.95" y="268.78" width="8.08" height="1.46" fill="#d7e3ed" />
<rect x="149.97" y="268.78" width="8.08" height="1.46" fill="#dae4ee" />
<rect x="37.6" y="270.19" width="8.08" height="1.46" fill="#faefc5" />
<rect x="45.63" y="270.19" width="8.08" height="1.46" fill="#faeabb" />
<rect x="53.65" y="270.19" width="8.08" height="1.46" fill="#ecb07e" />
<rect x="61.68" y="270.19" width="8.08" height="1.46" fill="#faedc1" />
<rect x="69.71" y="270.19" width="8.08" height="1.46" fill="#f3f0d7" />
<rect x="77.73" y="270.19" width="8.08" height="1.46" fill="#faefc6" />
<rect x="85.76" y="270.19" width="8.08" height="1.46" fill="#faeaba" />
<rect x="93.79" y="270.19" width="8.08" height="1.46" fill="#fae9b8" />
<rect x="101.81" y="270.19" width="8.08" height="1.46" fill="#faecc0" />
<rect x="109.84" y="270.19" width="8.08" height="1.46" fill="#faebbd" />
<rect x="117.87" y="270.19" width="8.08" height="1.46" fill="#faecc0" />
<rect x="125.89" y="270.19" width="8.08" height="1.46" fill="#edb481" />
<rect x="133.92" y="270.19" width="8.08" height="1.46" fill="#c6d8e9" />
<rect x="141.95" y="270.19" width="8.08" height="1.46" fill="#c1d6e8" />
<rect x="149.97" y="270.19" width="8.08" height="1.46" fill="#c5d8e9" />
<rect x="37.6" y="271.6" width="8.08" height="1.46" fill="#faebbd" />
<rect x="45.63" y="271.6" width="8.08" height="1.46" fill="#faecbe" />
<rect x="53.65" y="271.6" width="8.08" height="1.46" fill="#e9ece7" />
<rect x="61.68" y="271.6" width="8.08" height="1.46" fill="#faf0c7" />
<rect x="69.71" y="271.6" width="8.08" height="1.46" fill="#fae8b7" />
<rect x="77.73" y="271.6" width="8.08" height="1.46" fill="#f9e3af" />
<rect x="85.76" y="271.6" width="8.08" height="1.46" fill="#faecc0" />
<rect x="93.79" y="271.6" width="8.08" height="1.46" fill="#faefc6" />
<rect x="101.81" y="271.6" width="8.08" height="1.46" fill="#fae9b8" />
<rect x="109.84" y="271.6" width="8.08" height="1.46" fill="#f9e1ad" />
<rect x="117.87" y="271.6" width="8.08" height="1.46" fill="#f8dca6" />
<rect x="125.89" y="271.6" width="8.08" height="1.46" fill="#f1c38b" />
<rect x="133.92" y="271.6" width="8.08" height="1.46" fill="#d2e0ec" />
<rect x="141.95" y="271.6" width="8.08" height="1.46" fill="#d2e0ec" />
<rect x="149.97" y="271.6" width="8.08" height="1.46" fill="#b2cde5" />
<rect x="37.6" y="273.01" width="8.08" height="1.46" fill="#f1c28a" />
<rect x="45.63" y="273.01" width="8.08" height="1.46" fill="#faecbf" />
<rect x="53.65" y="273.01" width="8.08" height="1.46" fill="#e8ebea" />
<rect x="61.68" y="273.01" width="8.08" height="1.46" fill="#f8e0ab" />
<rect x="69.71" y="273.01" width="8.08" height="1.46" fill="#faefc5" />
<rect x="77.73" y="273.01" width="8.08" height="1.46" fill="#fae8b5" />
<rect x="85.76" y="273.01" width="8.08" height="1.46" fill="#f9e1ad" />
<rect x="93.79" y="273.01" width="8.08" height="1.46" fill="#fae6b4" />
<rect x="101.81" y="273.01" width="8.08" height="1.46" fill="#f8dda6" />
<rect x="109.84" y="273.01" width="8.08" height="1.46" fill="#faebbd" />
<rect x="117.87" y="273.01" width="8.08" height="1.46" fill="#fae9b9" />
<rect x="125.89" y="273.01" width="8.08" height="1.46" fill="#edb581" />
<rect x="133.92" y="273.01" width="8.08" height="1.46" fill="#a8c7e3" />
<rect x="141.95" y="273.01" width="8.08" height="1.46" fill="#e7ebeb" />
<rect x="149.97" y="273.01" width="8.08" height="1.46" fill="#bfd5e8" />
<rect x="37.6" y="274.43" width="8.08" height="1.46" fill="#f9e2ad" />
<rect x="45.63" y="274.43" width="8.08" height="1.46" fill="#faeec2" />
<rect x="53.65" y="274.43" width="8.08" height="1.46" fill="#eaece6" />
<rect x="61.68" y="274.43" width="8.08" height="1.46" fill="#f8dea7" />
<rect x="69.71" y="274.43" width="8.08" height="1.46" fill="#faedc1" />
<rect x="77.73" y="274.43" width="8.08" height="1.46" fill="#fae7b5" />
<rect x="85.76" y="274.43" width="8.08" height="1.46" fill="#f9e1ac" />
<rect x="93.79" y="274.43" width="8.08" height="1.46" fill="#f0be88" />
<rect x="101.81" y="274.43" width="8.08" height="1.46" fill="#fae9b8" />
<rect x="109.84" y="274.43" width="8.08" height="1.46" fill="#faebbd" />
<rect x="117.87" y="274.43" width="8.08" height="1.46" fill="#faefc5" />
<rect x="125.89" y="274.43" width="8.08" height="1.46" fill="#d97d5c" />
<rect x="133.92" y="274.43" width="8.08" height="1.46" fill="#e7ebeb" />
<rect x="141.95" y="274.43" width="8.08" height="1.46" fill="#b3cee5" />
<rect x="149.97" y="274.43" width="8.08" height="1.46" fill="#cfdeeb" />
<rect x="37.6" y="275.84" width="8.08" height="1.46" fill="#faecbe" />
<rect x="45.63" y="275.84" width="8.08" height="1.46" fill="#faefc6" />
<rect x="53.65" y="275.84" width="8.08" height="1.46" fill="#eaece6" />
<rect x="61.68" y="275.84" width="8.08" height="1.46" fill="#fae8b6" />
<rect x="69.71" y="275.84" width="8.08" height="1.46" fill="#fae8b7" />
<rect x="77.73" y="275.84" width="8.08" height="1.46" fill="#fae9b8" />
<rect x="85.76" y="275.84" width="8.08" height="1.46" fill="#f3f0d7" />
<rect x="93.79" y="275.84" width="8.08" height="1.46" fill="#f9e3af" />
<rect x="101.81" y="275.84" width="8.08" height="1.46" fill="#f9e4b0" />
<rect x="109.84" y="275.84" width="8.08" height="1.46" fill="#f3f0d7" />
<rect x="117.87" y="275.84" width="8.08" height="1.46" fill="#faecbe" />
<rect x="125.89" y="275.84" width="8.08" height="1.46" fill="#de8863" />
<rect x="133.92" y="275.84" width="8.08" height="1.46" fill="#9ebfde" />
<rect x="141.95" y="275.84" width="8.08" height="1.46" fill="#c7d9e9" />
<rect x="149.97" y="275.84" width="8.08" height="1.46" fill="#e7ebeb" />
<rect x="37.6" y="277.25" width="8.08" height="1.46" fill="#faf0c7" />
<rect x="45.63" y="277.25" width="8.08" height="1.46" fill="#fae6b3" />
<rect x="53.65" y="277.25" width="8.08" height="1.46" fill="#ebece5" />
<rect x="61.68" y="277.25" width="8.08" height="1.46" fill="#faeaba" />
<rect x="69.71" y="277.25" width="8.08" height="1.46" fill="#f3f0d7" />
<rect x="77.73" y="277.25" width="8.08" height="1.46" fill="#f8dea8" />
<rect x="85.76" y="277.25" width="8.08" height="1.46" fill="#fae6b3" />
<rect x="93.79" y="277.25" width="8.08" height="1.46" fill="#f9e4b0" />
<rect x="101.81" y="277.25" width="8.08" height="1.46" fill="#f3c98f" />
<rect x="109.84" y="277.25" width="8.08" height="1.46" fill="#f3f0d7" />
<rect x="117.87" y="277.25" width="8.08" height="1.46" fill="#f8dea8" />
<rect x="125.89" y="277.25" width="8.08" height="1.46" fill="#e4996e" />
<rect x="133.92" y="277.25" width="8.08" height="1.46" fill="#b6cfe6" />
<rect x="141.95" y="277.25" width="8.08" height="1.46" fill="#cadbea" />
<rect x="149.97" y="277.25" width="8.08" height="1.46" fill="#c5d8e9" />
<rect x="37.6" y="278.67" width="8.08" height="1.46" fill="#fae8b6" />
<rect x="45.63" y="278.67" width="8.08" height="1.46" fill="#fae9b9" />
<rect x="53.65" y="278.67" width="8.08" height="1.46" fill="#ebede4" />
<rect x="61.68" y="278.67" width="8.08" height="1.46" fill="#f9e3af" />
<rect x="69.71" y="278.67" width="8.08" height="1.46" fill="#fae9b8" />
<rect x="77.73" y="278.67" width="8.08" height="1.46" fill="#faf0c7" />
<rect x="85.76" y="278.67" width="8.08" height="1.46" fill="#faedc2" />
<rect x="93.79" y="278.67" width="8.08" height="1.46" fill="#f9e4b0" />
<rect x="101.81" y="278.67" width="8.08" height="1.46" fill="#f3f0d7" />
<rect x="109.84" y="278.67" width="8.08" height="1.46" fill="#fae8b7" />
<rect x="117.87" y="278.67" width="8.08" height="1.46" fill="#f3f0d7" />
<rect x="125.89" y="278.67" width="8.08" height="1.46" fill="#d97c5c" />
<rect x="133.92" y="278.67" width="8.08" height="1.46" fill="#c5d8e9" />
<rect x="141.95" y="278.67" width="8.08" height="1.46" fill="#b3cee5" />
<rect x="149.97" y="278.67" width="8.08" height="1.46" fill="#bfd5e8" />
<rect x="37.6" y="280.08" width="8.08" height="1.46" fill="#f1c38b" />
<rect x="45.63" y="280.08" width="8.08" height="1.46" fill="#faedc2" />
<rect x="53.65" y="280.08" width="8.08" height="1.46" fill="#eaece6" />
<rect x="61.68" y="280.08" width="8.08" height="1.46" fill="#f9e4b0" />
<rect x="69.71" y="280.08" width="8.08" height="1.46" fill="#f9e5b1" />
<rect x="77.73" y="280.08" width="8.08" height="1.46" fill="#faecbe" />
<rect x="85.76" y="280.08" width="8.08" height="1.46" fill="#f3f0d7" />
<rect x="93.79" y="280.08" width="8.08" height="1.46" fill="#f8e0ab" />
<rect x="101.81" y="280.08" width="8.08" height="1.46" fill="#faebbd" />
<rect x="109.84" y="280.08" width="8.08" height="1.46" fill="#f9e3af" />
<rect x="117.87" y="280.08" width="8.08" height="1.46" fill="#f8e0ab" />
<rect x="125.89" y="280.08" width="8.08" height="1.46" fill="#d57557" />
<rect x="133.92" y="280.08" width="8.08" height="1.46" fill="#ceddeb" />
<rect x="141.95" y="280.08" width="8.08" height="1.46" fill="#e7ebeb" />
<rect x="149.97" y="280.08" width="8.08" height="1.46" fill="#cfdeeb" />
<rect x="37.6" y="281.49" width="8.08" height="1.46" fill="#f8dea8" />
<rect x="45.63" y="281.49" width="8.08" height="1.46" fill="#f3f0d7" />
<rect x="53.65" y="281.49" width="8.08" height="1.46" fill="#ecb07e" />
<rect x="61.68" y="281.49" width="8.08" height="1.46" fill="#efbd87" />
<rect x="69.71" y="281.49" width="8.08" height="1.46" fill="#f9e3ae" />
<rect x="77.73" y="281.49" width="8.08" height="1.46" fill="#faebbd" />
<rect x="85.76" y="281.49" width="8.08" height="1.46" fill="#f9e3af" />
<rect x="93.79" y="281.49" width="8.08" height="1.46" fill="#faebbe" />
<rect x="101.81" y="281.49" width="8.08" height="1.46" fill="#fae9b8" />
<rect x="109.84" y="281.49" width="8.08" height="1.46" fill="#faedc0" />
<rect x="117.87" y="281.49" width="8.08" height="1.46" fill="#f2c58c" />
<rect x="125.89" y="281.49" width="8.08" height="1.46" fill="#e3956c" />
<rect x="133.92" y="281.49" width="8.08" height="1.46" fill="#c7d9e9" />
<rect x="141.95" y="281.49" width="8.08" height="1.46" fill="#c3d7e8" />
<rect x="149.97" y="281.49" width="8.08" height="1.46" fill="#bcd3e7" />
<rect x="37.6" y="282.9" width="8.08" height="1.46" fill="#f9e5b2" />
<rect x="45.63" y="282.9" width="8.08" height="1.46" fill="#faeabb" />
<rect x="53.65" y="282.9" width="8.08" height="1.46" fill="#f8f1cf" />
<rect x="61.68" y="282.9" width="8.08" height="1.46" fill="#faeabb" />
<rect x="69.71" y="282.9" width="8.08" height="1.46" fill="#faeaba" />
<rect x="77.73" y="282.9" width="8.08" height="1.46" fill="#faecbf" />
<rect x="85.76" y="282.9" width="8.08" height="1.46" fill="#f1c38b" />
<rect x="93.79" y="282.9" width="8.08" height="1.46" fill="#fae7b5" />
<rect x="101.81" y="282.9" width="8.08" height="1.46" fill="#faecc0" />
<rect x="109.84" y="282.9" width="8.08" height="1.46" fill="#f9e2ad" />
<rect x="117.87" y="282.9" width="8.08" height="1.46" fill="#f8dfa9" />
<rect x="125.89" y="282.9" width="8.08" height="1.46" fill="#f6d59b" />
<rect x="133.92" y="282.9" width="8.08" height="1.46" fill="#a7c7e2" />
<rect x="141.95" y="282.9" width="8.08" height="1.46" fill="#b0cce4" />
<rect x="149.97" y="282.9" width="8.08" height="1.46" fill="#bdd4e7" />
<rect x="37.6" y="284.32" width="8.08" height="1.46" fill="#faefc6" />
<rect x="45.63" y="284.32" width="8.08" height="1.46" fill="#faefc4" />
<rect x="53.65" y="284.32" width="8.08" height="1.46" fill="#faf0c8" />
<rect x="61.68" y="284.32" width="8.08" height="1.46" fill="#fae7b5" />
<rect x="69.71" y="284.32" width="8.08" height="1.46" fill="#fae6b3" />
<rect x="77.73" y="284.32" width="8.08" height="1.46" fill="#faeec4" />
<rect x="85.76" y="284.32" width="8.08" height="1.46" fill="#f1c38b" />
<rect x="93.79" y="284.32" width="8.08" height="1.46" fill="#f8dea8" />
<rect x="101.81" y="284.32" width="8.08" height="1.46" fill="#f9e2ae" />
<rect x="109.84" y="284.32" width="8.08" height="1.46" fill="#efbc86" />
<rect x="117.87" y="284.32" width="8.08" height="1.46" fill="#f8dea8" />
<rect x="125.89" y="284.32" width="8.08" height="1.46" fill="#f8dca5" />
<rect x="133.92" y="284.32" width="8.08" height="1.46" fill="#9abbdc" />
<rect x="141.95" y="284.32" width="8.08" height="1.46" fill="#bed4e7" />
<rect x="149.97" y="284.32" width="8.08" height="1.46" fill="#d6e2ed" />
<rect x="37.6" y="285.73" width="8.08" height="1.46" fill="#faeabb" />
<rect x="45.63" y="285.73" width="8.08" height="1.46" fill="#f3f0d7" />
<rect x="53.65" y="285.73" width="8.08" height="1.46" fill="#f1efda" />
<rect x="61.68" y="285.73" width="8.08" height="1.46" fill="#f8e0ab" />
<rect x="69.71" y="285.73" width="8.08" height="1.46" fill="#f2c58c" />
<rect x="77.73" y="285.73" width="8.08" height="1.46" fill="#faedc0" />
<rect x="85.76" y="285.73" width="8.08" height="1.46" fill="#f9e1ac" />
<rect x="93.79" y="285.73" width="8.08" height="1.46" fill="#f3f0d7" />
<rect x="101.81" y="285.73" width="8.08" height="1.46" fill="#f3f0d7" />
<rect x="109.84" y="285.73" width="8.08" height="1.46" fill="#fae9b8" />
<rect x="117.87" y="285.73" width="8.08" height="1.46" fill="#faebbd" />
<rect x="125.89" y="285.73" width="8.08" height="1.46" fill="#f9e1ad" />
<rect x="133.92" y="285.73" width="8.08" height="1.46" fill="#b1cde5" />
<rect x="141.95" y="285.73" width="8.08" height="1.46" fill="#e7ebeb" />
<rect x="149.97" y="285.73" width="8.08" height="1.46" fill="#d3e0ec" />
<rect x="37.6" y="287.14" width="8.08" height="1.46" fill="#f9e2ad" />
<rect x="45.63" y="287.14" width="8.08" height="1.46" fill="#faefc6" />
<rect x="53.65" y="287.14" width="8.08" height="1.46" fill="#faecbe" />
<rect x="61.68" y="287.14" width="8.08" height="1.46" fill="#f9e3af" />
<rect x="69.71" y="287.14" width="8.08" height="1.46" fill="#f3f0d7" />
<rect x="77.73" y="287.14" width="8.08" height="1.46" fill="#faecbe" />
<rect x="85.76" y="287.14" width="8.08" height="1.46" fill="#faebbd" />
<rect x="93.79" y="287.14" width="8.08" height="1.46" fill="#f9e4b1" />
<rect x="101.81" y="287.14" width="8.08" height="1.46" fill="#f9e1ac" />
<rect x="109.84" y="287.14" width="8.08" height="1.46" fill="#f9e4b1" />
<rect x="117.87" y="287.14" width="8.08" height="1.46" fill="#faeaba" />
<rect x="125.89" y="287.14" width="8.08" height="1.46" fill="#f9e1ac" />
<rect x="133.92" y="287.14" width="8.08" height="1.46" fill="#bcd3e7" />
<rect x="141.95" y="287.14" width="8.08" height="1.46" fill="#bfd5e8" />
<rect x="149.97" y="287.14" width="8.08" height="1.46" fill="#b1cce4" />
<rect x="37.6" y="288.56" width="8.08" height="1.46" fill="#faeec3" />
<rect x="45.63" y="288.56" width="8.08" height="1.46" fill="#fae6b3" />
<rect x="53.65" y="288.56" width="8.08" height="1.46" fill="#faefc6" />
<rect x="61.68" y="288.56" width="8.08" height="1.46" fill="#faebbd" />
<rect x="69.71" y="288.56" width="8.08" height="1.46" fill="#faedc1" />
<rect x="77.73" y="288.56" width="8.08" height="1.46" fill="#faecc0" />
<rect x="85.76" y="288.56" width="8.08" height="1.46" fill="#f9e3af" />
<rect x="93.79" y="288.56" width="8.08" height="1.46" fill="#faedc2" />
<rect x="101.81" y="288.56" width="8.08" height="1.46" fill="#faecbf" />
<rect x="109.84" y="288.56" width="8.08" height="1.46" fill="#fae9b7" />
<rect x="117.87" y="288.56" width="8.08" height="1.46" fill="#faeec4" />
<rect x="125.89" y="288.56" width="8.08" height="1.46" fill="#edb682" />
<rect x="133.92" y="288.56" width="8.08" height="1.46" fill="#cedeeb" />
<rect x="141.95" y="288.56" width="8.08" height="1.46" fill="#cfdeeb" />
<rect x="149.97" y="288.56" width="8.08" height="1.46" fill="#b2cde5" />
<rect x="37.6" y="289.97" width="8.08" height="1.46" fill="#f3f0d7" />
<rect x="45.63" y="289.97" width="8.08" height="1.46" fill="#fae9b8" />
<rect x="53.65" y="289.97" width="8.08" height="1.46" fill="#faedc2" />
<rect x="61.68" y="289.97" width="8.08" height="1.46" fill="#fae9b8" />
<rect x="69.71" y="289.97" width="8.08" height="1.46" fill="#faedc2" />
<rect x="77.73" y="289.97" width="8.08" height="1.46" fill="#f3f0d7" />
<rect x="85.76" y="289.97" width="8.08" height="1.46" fill="#f8dca5" />
<rect x="93.79" y="289.97" width="8.08" height="1.46" fill="#f8dfa9" />
<rect x="101.81" y="289.97" width="8.08" height="1.46" fill="#fae8b7" />
<rect x="109.84" y="289.97" width="8.08" height="1.46" fill="#f3f0d7" />
<rect x="117.87" y="289.97" width="8.08" height="1.46" fill="#faeec4" />
<rect x="125.89" y="289.97" width="8.08" height="1.46" fill="#eeb984" />
<rect x="133.92" y="289.97" width="8.08" height="1.46" fill="#e7ebeb" />
<rect x="141.95" y="289.97" width="8.08" height="1.46" fill="#e7ebeb" />
<rect x="149.97" y="289.97" width="8.08" height="1.46" fill="#adcae3" />
<rect x="37.6" y="291.38" width="8.08" height="1.46" fill="#f3f0d7" />
<rect x="45.63" y="291.38" width="8.08" height="1.46" fill="#f8e0aa" />
<rect x="53.65" y="291.38" width="8.08" height="1.46" fill="#faf2cb" />
<rect x="61.68" y="291.38" width="8.08" height="1.46" fill="#faecbe" />
<rect x="69.71" y="291.38" width="8.08" height="1.46" fill="#f1c28a" />
<rect x="77.73" y="291.38" width="8.08" height="1.46" fill="#faedc0" />
<rect x="85.76" y="291.38" width="8.08" height="1.46" fill="#fae9b8" />
<rect x="93.79" y="291.38" width="8.08" height="1.46" fill="#f3f0d7" />
<rect x="101.81" y="291.38" width="8.08" height="1.46" fill="#fae8b7" />
<rect x="109.84" y="291.38" width="8.08" height="1.46" fill="#faecbe" />
<rect x="117.87" y="291.38" width="8.08" height="1.46" fill="#f8dca5" />
<rect x="125.89" y="291.38" width="8.08" height="1.46" fill="#f4cd92" />
<rect x="133.92" y="291.38" width="8.08" height="1.46" fill="#ceddeb" />
<rect x="141.95" y="291.38" width="8.08" height="1.46" fill="#e7ebeb" />
<rect x="149.97" y="291.38" width="8.08" height="1.46" fill="#c0d5e8" />
<rect x="37.6" y="292.79" width="8.08" height="1.46" fill="#fae9b9" />
<rect x="45.63" y="292.79" width="8.08" height="1.46" fill="#faefc5" />
<rect x="53.65" y="292.79" width="8.08" height="1.46" fill="#f3efd8" />
<rect x="61.68" y="292.79" width="8.08" height="1.46" fill="#f9e4b0" />
<rect x="69.71" y="292.79" width="8.08" height="1.46" fill="#fae9b8" />
<rect x="77.73" y="292.79" width="8.08" height="1.46" fill="#f8dea7" />
<rect x="85.76" y="292.79" width="8.08" height="1.46" fill="#faebbc" />
<rect x="93.79" y="292.79" width="8.08" height="1.46" fill="#faefc6" />
<rect x="101.81" y="292.79" width="8.08" height="1.46" fill="#f8dca5" />
<rect x="109.84" y="292.79" width="8.08" height="1.46" fill="#faf0c7" />
<rect x="117.87" y="292.79" width="8.08" height="1.46" fill="#faedc1" />
<rect x="125.89" y="292.79" width="8.08" height="1.46" fill="#f6d297" />
<rect x="133.92" y="292.79" width="8.08" height="1.46" fill="#b1cde5" />
<rect x="141.95" y="292.79" width="8.08" height="1.46" fill="#dbe5ee" />
<rect x="149.97" y="292.79" width="8.08" height="1.46" fill="#bdd4e7" />
<rect x="37.6" y="294.21" width="8.08" height="1.46" fill="#faf0c7" />
<rect x="45.63" y="294.21" width="8.08" height="1.46" fill="#fae9b9" />
<rect x="53.65" y="294.21" width="8.08" height="1.46" fill="#faf0c7" />
<rect x="61.68" y="294.21" width="8.08" height="1.46" fill="#f0be88" />
<rect x="69.71" y="294.21" width="8.08" height="1.46" fill="#fae6b3" />
<rect x="77.73" y="294.21" width="8.08" height="1.46" fill="#fae6b3" />
<rect x="85.76" y="294.21" width="8.08" height="1.46" fill="#f9e5b2" />
<rect x="93.79" y="294.21" width="8.08" height="1.46" fill="#f8dfa9" />
<rect x="101.81" y="294.21" width="8.08" height="1.46" fill="#faecbf" />
<rect x="109.84" y="294.21" width="8.08" height="1.46" fill="#f3f0d7" />
<rect x="117.87" y="294.21" width="8.08" height="1.46" fill="#faeec2" />
<rect x="125.89" y="294.21" width="8.08" height="1.46" fill="#f2c68d" />
<rect x="133.92" y="294.21" width="8.08" height="1.46" fill="#c3d7e9" />
<rect x="141.95" y="294.21" width="8.08" height="1.46" fill="#ccdcea" />
<rect x="149.97" y="294.21" width="8.08" height="1.46" fill="#bad1e6" />
<rect x="37.6" y="295.62" width="8.08" height="1.46" fill="#f9e2ae" />
<rect x="45.63" y="295.62" width="8.08" height="1.46" fill="#fae8b6" />
<rect x="53.65" y="295.62" width="8.08" height="1.46" fill="#f5f0d4" />
<rect x="61.68" y="295.62" width="8.08" height="1.46" fill="#faedc0" />
<rect x="69.71" y="295.62" width="8.08" height="1.46" fill="#faebbd" />
<rect x="77.73" y="295.62" width="8.08" height="1.46" fill="#faefc6" />
<rect x="85.76" y="295.62" width="8.08" height="1.46" fill="#f3f0d7" />
<rect x="93.79" y="295.62" width="8.08" height="1.46" fill="#f9e2ae" />
<rect x="101.81" y="295.62" width="8.08" height="1.46" fill="#faf0c7" />
<rect x="109.84" y="295.62" width="8.08" height="1.46" fill="#faedc1" />
<rect x="117.87" y="295.62" width="8.08" height="1.46" fill="#f8dca6" />
<rect x="125.89" y="295.62" width="8.08" height="1.46" fill="#f8dda6" />
<rect x="133.92" y="295.62" width="8.08" height="1.46" fill="#e7ebeb" />
<rect x="141.95" y="295.62" width="8.08" height="1.46" fill="#d5e1ed" />
<rect x="149.97" y="295.62" width="8.08" height="1.46" fill="#b3cee5" />
<rect x="37.6" y="297.03" width="8.08" height="1.46" fill="#fae7b5" />
<rect x="45.63" y="297.03" width="8.08" height="1.46" fill="#fae8b7" />
<rect x="53.65" y="297.03" width="8.08" height="1.46" fill="#f7f1d0" />
<rect x="61.68" y="297.03" width="8.08" height="1.46" fill="#fae9b8" />
<rect x="69.71" y="297.03" width="8.08" height="1.46" fill="#faebbc" />
<rect x="77.73" y="297.03" width="8.08" height="1.46" fill="#faedc2" />
<rect x="85.76" y="297.03" width="8.08" height="1.46" fill="#fae8b7" />
<rect x="93.79" y="297.03" width="8.08" height="1.46" fill="#faf0c7" />
<rect x="101.81" y="297.03" width="8.08" height="1.46" fill="#f9e2ae" />
<rect x="109.84" y="297.03" width="8.08" height="1.46" fill="#fae9b7" />
<rect x="117.87" y="297.03" width="8.08" height="1.46" fill="#faeec3" />
<rect x="125.89" y="297.03" width="8.08" height="1.46" fill="#e3956c" />
<rect x="133.92" y="297.03" width="8.08" height="1.46" fill="#a9c7e3" />
<rect x="141.95" y="297.03" width="8.08" height="1.46" fill="#accae3" />
<rect x="149.97" y="297.03" width="8.08" height="1.46" fill="#dfe7ef" />
<rect x="37.6" y="298.45" width="8.08" height="1.46" fill="#f8dda7" />
<rect x="45.63" y="298.45" width="8.08" height="1.46" fill="#fae7b5" />
<rect x="53.65" y="298.45" width="8.08" height="1.46" fill="#faefc5" />
<rect x="61.68" y="298.45" width="8.08" height="1.46" fill="#f3f0d7" />
<rect x="69.71" y="298.45" width="8.08" height="1.46" fill="#faedc0" />
<rect x="77.73" y="298.45" width="8.08" height="1.46" fill="#faebbd" />
<rect x="85.76" y="298.45" width="8.08" height="1.46" fill="#faecbf" />
<rect x="93.79" y="298.45" width="8.08" height="1.46" fill="#fae8b5" />
<rect x="101.81" y="298.45" width="8.08" height="1.46" fill="#faeec2" />
<rect x="109.84" y="298.45" width="8.08" height="1.46" fill="#faecbe" />
<rect x="117.87" y="298.45" width="8.08" height="1.46" fill="#f9e5b2" />
<rect x="125.89" y="298.45" width="8.08" height="1.46" fill="#e7a375" />
<rect x="133.92" y="298.45" width="8.08" height="1.46" fill="#b9d1e6" />
<rect x="141.95" y="298.45" width="8.08" height="1.46" fill="#bad1e6" />
<rect x="149.97" y="298.45" width="8.08" height="1.46" fill="#ccdceb" />
<rect x="37.6" y="299.86" width="8.08" height="1.46" fill="#f9e5b2" />
<rect x="45.63" y="299.86" width="8.08" height="1.46" fill="#f9e2ae" />
<rect x="53.65" y="299.86" width="8.08" height="1.46" fill="#f3f0d7" />
<rect x="61.68" y="299.86" width="8.08" height="1.46" fill="#faefc6" />
<rect x="69.71" y="299.86" width="8.08" height="1.46" fill="#faecbf" />
<rect x="77.73" y="299.86" width="8.08" height="1.46" fill="#faeec3" />
<rect x="85.76" y="299.86" width="8.08" height="1.46" fill="#f3c98f" />
<rect x="93.79" y="299.86" width="8.08" height="1.46" fill="#f3f0d7" />
<rect x="101.81" y="299.86" width="8.08" height="1.46" fill="#f3f0d7" />
<rect x="109.84" y="299.86" width="8.08" height="1.46" fill="#faedc1" />
<rect x="117.87" y="299.86" width="8.08" height="1.46" fill="#f9e1ad" />
<rect x="125.89" y="299.86" width="8.08" height="1.46" fill="#dd8562" />
<rect x="133.92" y="299.86" width="8.08" height="1.46" fill="#e7ebeb" />
<rect x="141.95" y="299.86" width="8.08" height="1.46" fill="#b1cce4" />
<rect x="149.97" y="299.86" width="8.08" height="1.46" fill="#ccdceb" />
<rect x="37.6" y="301.27" width="8.08" height="1.46" fill="#faecbe" />
<rect x="45.63" y="301.27" width="8.08" height="1.46" fill="#f8dea9" />
<rect x="53.65" y="301.27" width="8.08" height="1.46" fill="#faebbd" />
<rect x="61.68" y="301.27" width="8.08" height="1.46" fill="#f3f0d7" />
<rect x="69.71" y="301.27" width="8.08" height="1.46" fill="#faeec4" />
<rect x="77.73" y="301.27" width="8.08" height="1.46" fill="#f9e3b0" />
<rect x="85.76" y="301.27" width="8.08" height="1.46" fill="#f8dca5" />
<rect x="93.79" y="301.27" width="8.08" height="1.46" fill="#faf0c7" />
<rect x="101.81" y="301.27" width="8.08" height="1.46" fill="#faf0c7" />
<rect x="109.84" y="301.27" width="8.08" height="1.46" fill="#f8dea8" />
<rect x="117.87" y="301.27" width="8.08" height="1.46" fill="#faebbc" />
<rect x="125.89" y="301.27" width="8.08" height="1.46" fill="#ebaf7d" />
<rect x="133.92" y="301.27" width="8.08" height="1.46" fill="#b7d0e6" />
<rect x="141.95" y="301.27" width="8.08" height="1.46" fill="#aecbe4" />
<rect x="149.97" y="301.27" width="8.08" height="1.46" fill="#c5d8e9" />
<rect x="37.6" y="302.68" width="8.08" height="1.46" fill="#f8dca5" />
<rect x="45.63" y="302.68" width="8.08" height="1.46" fill="#f8dea8" />
<rect x="53.65" y="302.68" width="8.08" height="1.46" fill="#faf0c7" />
<rect x="61.68" y="302.68" width="8.08" height="1.46" fill="#f9e5b2" />
<rect x="69.71" y="302.68" width="8.08" height="1.46" fill="#eeb883" />
<rect x="77.73" y="302.68" width="8.08" height="1.46" fill="#fae9b8" />
<rect x="85.76" y="302.68" width="8.08" height="1.46" fill="#f3c88e" />
<rect x="93.79" y="302.68" width="8.08" height="1.46" fill="#faefc5" />
<rect x="101.81" y="302.68" width="8.08" height="1.46" fill="#f8e0ab" />
<rect x="109.84" y="302.68" width="8.08" height="1.46" fill="#f9e2ad" />
<rect x="117.87" y="302.68" width="8.08" height="1.46" fill="#faedc1" />
<rect x="125.89" y="302.68" width="8.08" height="1.46" fill="#d16b51" />
<rect x="133.92" y="302.68" width="8.08" height="1.46" fill="#9ebfde" />
<rect x="141.95" y="302.68" width="8.08" height="1.46" fill="#afcbe4" />
<rect x="149.97" y="302.68" width="8.08" height="1.46" fill="#aecbe4" />
<rect x="37.6" y="304.1" width="8.08" height="1.46" fill="#eeb884" />
<rect x="45.63" y="304.1" width="8.08" height="1.46" fill="#faf0c7" />
<rect x="53.65" y="304.1" width="8.08" height="1.46" fill="#f5f0d5" />
<rect x="61.68" y="304.1" width="8.08" height="1.46" fill="#fae9b8" />
<rect x="69.71" y="304.1" width="8.08" height="1.46" fill="#f9e5b2" />
<rect x="77.73" y="304.1" width="8.08" height="1.46" fill="#f3f0d7" />
<rect x="85.76" y="304.1" width="8.08" height="1.46" fill="#fae6b3" />
<rect x="93.79" y="304.1" width="8.08" height="1.46" fill="#f8dda6" />
<rect x="101.81" y="304.1" width="8.08" height="1.46" fill="#f0be88" />
<rect x="109.84" y="304.1" width="8.08" height="1.46" fill="#f8dfaa" />
<rect x="117.87" y="304.1" width="8.08" height="1.46" fill="#f9e2ae" />
<rect x="125.89" y="304.1" width="8.08" height="1.46" fill="#db8360" />
<rect x="133.92" y="304.1" width="8.08" height="1.46" fill="#d2e0ec" />
<rect x="141.95" y="304.1" width="8.08" height="1.46" fill="#dae4ee" />
<rect x="149.97" y="304.1" width="8.08" height="1.46" fill="#c6d9e9" />
<rect x="37.6" y="305.51" width="8.08" height="1.46" fill="#faeaba" />
<rect x="45.63" y="305.51" width="8.08" height="1.46" fill="#faeabb" />
<rect x="53.65" y="305.51" width="8.08" height="1.46" fill="#f6f1d2" />
<rect x="61.68" y="305.51" width="8.08" height="1.46" fill="#f9e2ae" />
<rect x="69.71" y="305.51" width="8.08" height="1.46" fill="#faefc6" />
<rect x="77.73" y="305.51" width="8.08" height="1.46" fill="#faecc0" />
<rect x="85.76" y="305.51" width="8.08" height="1.46" fill="#f3f0d7" />
<rect x="93.79" y="305.51" width="8.08" height="1.46" fill="#f8dda6" />
<rect x="101.81" y="305.51" width="8.08" height="1.46" fill="#faecbf" />
<rect x="109.84" y="305.51" width="8.08" height="1.46" fill="#f9e2ad" />
<rect x="117.87" y="305.51" width="8.08" height="1.46" fill="#faeec3" />
<rect x="125.89" y="305.51" width="8.08" height="1.46" fill="#d7795a" />
<rect x="133.92" y="305.51" width="8.08" height="1.46" fill="#bed4e7" />
<rect x="141.95" y="305.51" width="8.08" height="1.46" fill="#bdd3e7" />
<rect x="149.97" y="305.51" width="8.08" height="1.46" fill="#d5e1ed" />
<rect x="37.6" y="306.92" width="8.08" height="1.46" fill="#faf0c7" />
<rect x="45.63" y="306.92" width="8.08" height="1.46" fill="#fae6b3" />
<rect x="53.65" y="306.92" width="8.08" height="1.46" fill="#faf1c9" />
<rect x="61.68" y="306.92" width="8.08" height="1.46" fill="#f3f0d7" />
<rect x="69.71" y="306.92" width="8.08" height="1.46" fill="#fae6b3" />
<rect x="77.73" y="306.92" width="8.08" height="1.46" fill="#faf0c7" />
<rect x="85.76" y="306.92" width="8.08" height="1.46" fill="#faecbe" />
<rect x="93.79" y="306.92" width="8.08" height="1.46" fill="#f8e0ab" />
<rect x="101.81" y="306.92" width="8.08" height="1.46" fill="#fae6b3" />
<rect x="109.84" y="306.92" width="8.08" height="1.46" fill="#f8dda7" />
<rect x="117.87" y="306.92" width="8.08" height="1.46" fill="#f8dca6" />
<rect x="125.89" y="306.92" width="8.08" height="1.46" fill="#d87a5b" />
<rect x="133.92" y="306.92" width="8.08" height="1.46" fill="#adcae4" />
<rect x="141.95" y="306.92" width="8.08" height="1.46" fill="#c8daea" />
<rect x="149.97" y="306.92" width="8.08" height="1.46" fill="#e7ebeb" />
<rect x="37.6" y="308.34" width="8.08" height="1.46" fill="#f8dea7" />
<rect x="45.63" y="308.34" width="8.08" height="1.46" fill="#f3f0d7" />
<rect x="53.65" y="308.34" width="8.08" height="1.46" fill="#f1efda" />
<rect x="61.68" y="308.34" width="8.08" height="1.46" fill="#f8dfa9" />
<rect x="69.71" y="308.34" width="8.08" height="1.46" fill="#faf0c7" />
<rect x="77.73" y="308.34" width="8.08" height="1.46" fill="#faeabb" />
<rect x="85.76" y="308.34" width="8.08" height="1.46" fill="#faebbc" />
<rect x="93.79" y="308.34" width="8.08" height="1.46" fill="#faecbf" />
<rect x="101.81" y="308.34" width="8.08" height="1.46" fill="#f9e4b0" />
<rect x="109.84" y="308.34" width="8.08" height="1.46" fill="#faedc0" />
<rect x="117.87" y="308.34" width="8.08" height="1.46" fill="#f8dea8" />
<rect x="125.89" y="308.34" width="8.08" height="1.46" fill="#e08e67" />
<rect x="133.92" y="308.34" width="8.08" height="1.46" fill="#9fc0de" />
<rect x="141.95" y="308.34" width="8.08" height="1.46" fill="#c6d9e9" />
<rect x="149.97" y="308.34" width="8.08" height="1.46" fill="#b6cfe6" />
<rect x="37.6" y="309.75" width="8.08" height="1.46" fill="#fae8b7" />
<rect x="45.63" y="309.75" width="8.08" height="1.46" fill="#faecbe" />
<rect x="53.65" y="309.75" width="8.08" height="1.46" fill="#f8f1cf" />
<rect x="61.68" y="309.75" width="8.08" height="1.46" fill="#fae8b6" />
<rect x="69.71" y="309.75" width="8.08" height="1.46" fill="#f3f0d7" />
<rect x="77.73" y="309.75" width="8.08" height="1.46" fill="#f9e4b1" />
<rect x="85.76" y="309.75" width="8.08" height="1.46" fill="#fae8b7" />
<rect x="93.79" y="309.75" width="8.08" height="1.46" fill="#faecbe" />
<rect x="101.81" y="309.75" width="8.08" height="1.46" fill="#f9e1ac" />
<rect x="109.84" y="309.75" width="8.08" height="1.46" fill="#faedc0" />
<rect x="117.87" y="309.75" width="8.08" height="1.46" fill="#f9e5b1" />
<rect x="125.89" y="309.75" width="8.08" height="1.46" fill="#e7a375" />
<rect x="133.92" y="309.75" width="8.08" height="1.46" fill="#bdd3e7" />
<rect x="141.95" y="309.75" width="8.08" height="1.46" fill="#bfd5e8" />
<rect x="149.97" y="309.75" width="8.08" height="1.46" fill="#b6cfe6" />
<rect x="37.6" y="311.16" width="8.08" height="1.46" fill="#eeb984" />
<rect x="45.63" y="311.16" width="8.08" height="1.46" fill="#f3f0d7" />
<rect x="53.65" y="311.16" width="8.08" height="1.46" fill="#ecb07e" />
<rect x="61.68" y="311.16" width="8.08" height="1.46" fill="#f8dda7" />
<rect x="69.71" y="311.16" width="8.08" height="1.46" fill="#faedc2" />
<rect x="77.73" y="311.16" width="8.08" height="1.46" fill="#faeaba" />
<rect x="85.76" y="311.16" width="8.08" height="1.46" fill="#f9e2ae" />
<rect x="93.79" y="311.16" width="8.08" height="1.46" fill="#faedc1" />
<rect x="101.81" y="311.16" width="8.08" height="1.46" fill="#faedc2" />
<rect x="109.84" y="311.16" width="8.08" height="1.46" fill="#f8dfaa" />
<rect x="117.87" y="311.16" width="8.08" height="1.46" fill="#faeab9" />
<rect x="125.89" y="311.16" width="8.08" height="1.46" fill="#e69f73" />
<rect x="133.92" y="311.16" width="8.08" height="1.46" fill="#cadbea" />
<rect x="141.95" y="311.16" width="8.08" height="1.46" fill="#dee6ef" />
<rect x="149.97" y="311.16" width="8.08" height="1.46" fill="#d0deeb" />
<rect x="37.6" y="312.57" width="8.08" height="1.46" fill="#faedc0" />
<rect x="45.63" y="312.57" width="8.08" height="1.46" fill="#faeabb" />
<rect x="53.65" y="312.57" width="8.08" height="1.46" fill="#f3efd8" />
<rect x="61.68" y="312.57" width="8.08" height="1.46" fill="#fae9b9" />
<rect x="69.71" y="312.57" width="8.08" height="1.46" fill="#faefc5" />
<rect x="77.73" y="312.57" width="8.08" height="1.46" fill="#faebbd" />
<rect x="85.76" y="312.57" width="8.08" height="1.46" fill="#f2c58c" />
<rect x="93.79" y="312.57" width="8.08" height="1.46" fill="#faebbc" />
<rect x="101.81" y="312.57" width="8.08" height="1.46" fill="#f3f0d7" />
<rect x="109.84" y="312.57" width="8.08" height="1.46" fill="#fae8b7" />
<rect x="117.87" y="312.57" width="8.08" height="1.46" fill="#faeec4" />
<rect x="125.89" y="312.57" width="8.08" height="1.46" fill="#d16c52" />
<rect x="133.92" y="312.57" width="8.08" height="1.46" fill="#d2e0ec" />
<rect x="141.95" y="312.57" width="8.08" height="1.46" fill="#e7ebeb" />
<rect x="149.97" y="312.57" width="8.08" height="1.46" fill="#b3cee5" />
<rect x="37.6" y="313.99" width="8.08" height="1.46" fill="#f3f0d7" />
<rect x="45.63" y="313.99" width="8.08" height="1.46" fill="#f1c38b" />
<rect x="53.65" y="313.99" width="8.08" height="1.46" fill="#faf2cc" />
<rect x="61.68" y="313.99" width="8.08" height="1.46" fill="#faf0c7" />
<rect x="69.71" y="313.99" width="8.08" height="1.46" fill="#faeec4" />
<rect x="77.73" y="313.99" width="8.08" height="1.46" fill="#faebbc" />
<rect x="85.76" y="313.99" width="8.08" height="1.46" fill="#faedc0" />
<rect x="93.79" y="313.99" width="8.08" height="1.46" fill="#faf0c7" />
<rect x="101.81" y="313.99" width="8.08" height="1.46" fill="#f8dca5" />
<rect x="109.84" y="313.99" width="8.08" height="1.46" fill="#f2c58c" />
<rect x="117.87" y="313.99" width="8.08" height="1.46" fill="#f3f0d7" />
<rect x="125.89" y="313.99" width="8.08" height="1.46" fill="#d87b5c" />
<rect x="133.92" y="313.99" width="8.08" height="1.46" fill="#a5c5e2" />
<rect x="141.95" y="313.99" width="8.08" height="1.46" fill="#b1cce4" />
<rect x="149.97" y="313.99" width="8.08" height="1.46" fill="#b6cfe6" />
<path d="M37.2 221.64H37.18V221.96H37.2M37.2 219.38H37.18V219.7H37.2M37.2 229.71H37.18V230.03H37.2M37.2 229.39H37.16V229.87H37.18M37.2 216.8H37.18V217.12H37.2M37.2 227.45H37.18V227.77H37.2M37.2 222.29H37.18V222.61H37.2M37.2 228.1H37.16V228.42H37.2M37.2 230.68H37.15V231H37.2M37.2 220.35H37.15V220.67H37.2M37.15 220.51H37.06V221H37.2M37.2 226.48H37.04V226.8H37.2M37.2 218.41H37.1V218.74H37.2M37.2 230.35H36.96V230.84H37.15M37.2 221.32H36.86V221.8H37.18M37.2 228.74H36.75V229.06H37.2M37.2 224.22H36.77V224.55H37.2M37.2 223.25H36.62V223.58H37.2M37.2 223.9H36.52V224.38H36.77M37.2 226.16H36.52V226.64H37.04M37.1 218.58H36.11V219.06H37.2M37.2 218.09H36.02V218.82H36.11M37.2 225.84H36.11V226.4H36.52M37.2 225.19H35.67V225.51H37.2M37.2 222.93H35.74V223.42H36.62M35.67 225.35H35.1V226.12H36.11M37.16 229.63H35.26V230.6H36.96M36.86 221.56H34.41V222.45H37.18M37.18 216.96H34.21V217.45H37.2M37.2 224.87H33.87V225.74H35.1M36.02 218.45H33.71V219.54H37.18M34.41 222H32.7V223.17H35.74M37.18 227.61H33.68V228.26H37.16M36.75 228.9H33.65V230.11H35.26M33.68 227.93H32.43V229.51H33.65M37.2 217.77H32.63V219H33.71M37.2 227.13H31.54V228.72H32.43M33.87 225.3H30.77V227.92H31.54M32.63 218.38H31.37V220.03H37.2M32.7 222.59H28.69V224.14H36.52M34.21 217.2H29.98V219.21H31.37M28.69 223.37H26.73V226.61H30.77M37.06 220.75H25.74V224.99H26.73M29.98 218.2H24.6V222.87H25.74M37.2 272.88H37.18V273.23H37.2M37.2 255.39H37.18V255.74H37.2M37.2 309.6H37.18V309.95H37.2M37.2 262.03H37.18V262.38H37.2M37.2 313.1H37.18V313.45H37.2M37.2 261.68H37.16V262.21H37.18M37.2 287.92H37.18V288.27H37.2M37.2 298.41H37.18V298.76H37.2M37.2 296.31H37.18V296.66H37.2M37.18 298.58H37.16V299.11H37.2M37.2 246.64H37.18V246.99H37.2M37.2 241.39H37.18V241.74H37.2M37.2 313.8H37.18V314.15H37.2M37.2 286.52H37.18V286.87H37.2M37.2 295.96H37.16V296.49H37.18M37.2 302.61H37.18V302.96H37.2M37.2 258.53H37.18V258.88H37.2M37.2 252.24H37.18V252.59H37.2M37.2 271.48H37.18V271.83H37.2M37.2 306.11H37.18V306.46H37.2M37.2 250.84H37.18V251.19H37.2M37.2 264.83H37.18V265.18H37.2M37.2 250.14H37.18V250.49H37.2M37.2 231.95H37.18V232.3H37.2M37.2 236.85H37.18V237.2H37.2M37.2 280.22H37.18V280.57H37.2M37.2 255.04H37.16V255.56H37.18M37.2 242.44H37.18V242.79H37.2M37.2 231.6H37.16V232.12H37.18M37.2 290.36H37.18V290.71H37.2M37.18 252.41H37.16V252.94H37.2M37.2 239.99H37.18V240.34H37.2M37.2 233.7H37.18V234.05H37.2M37.2 291.06H37.18V291.41H37.2M37.2 253.29H37.18V253.64H37.2M37.2 274.27H37.18V274.62H37.2M37.2 311.7H37.18V312.05H37.2M37.2 292.81H37.18V293.16H37.2M37.2 295.61H37.14V296.22H37.16M37.2 236.15H37.18V236.5H37.2M37.18 290.54H37.16V291.24H37.18M37.2 248.04H37.18V248.39H37.2M37.2 311H37.18V311.35H37.2M37.2 235.45H37.18V235.8H37.2M37.2 308.2H37.18V308.55H37.2M37.2 259.23H37.18V259.58H37.2M37.2 286.17H37.16V286.69H37.18M37.2 272.53H37.16V273.05H37.18M37.2 288.97H37.18V289.32H37.2M37.18 308.38H37.16V308.9H37.2M37.2 270.43H37.18V270.78H37.2M37.2 297.71H37.18V298.06H37.2M37.2 256.44H37.18V256.78H37.2M37.2 297.36H37.16V297.89H37.18M37.2 275.67H37.16V276.02H37.2M37.2 269.38H37.18V269.73H37.2M37.2 244.54H37.18V244.89H37.2M37.2 282.67H37.17V283.02H37.2M37.2 242.09H37.16V242.62H37.18M37.2 265.88H37.18V266.23H37.2M37.2 238.6H37.18V238.95H37.2M37.2 299.81H37.14V300.16H37.2M37.16 290.89H37.14V291.76H37.2M37.2 262.73H37.14V263.08H37.2M37.2 239.65H37.14V240.17H37.18M37.2 260.98H37.17V261.33H37.2M37.2 280.92H37.13V281.27H37.2M37.2 301.91H37.14V302.26H37.2M37.2 314.85H37.14V315.2H37.2M37.18 265.01H37.15V265.53H37.2M37.2 253.99H37.14V254.34H37.2M37.16 252.67H37.07V253.46H37.18M37.16 308.64H37.12V309.25H37.2M37.2 237.9H37.15V238.25H37.2M37.2 259.93H37.07V260.28H37.2M37.2 271.13H37.08V271.65H37.18M37.2 278.47H37.11V278.82H37.2M37.2 294.56H37.08V294.91H37.2M37.2 249.44H37.02V249.79H37.2M37.2 305.41H37.1V305.76H37.2M37.2 247.34H37.13V247.69H37.2M37.2 292.11H37.11V292.46H37.2M37.2 307.15H37.01V307.5H37.2M37.2 283.37H37.03V283.72H37.2M37.2 256.09H37V256.61H37.18M37.2 270.08H36.98V270.6H37.18M37.2 300.86H37.05V301.21H37.2M37.15 238.07H37.03V238.77H37.18M37.2 249.09H36.97V249.61H37.02M37.2 243.84H37.07V244.19H37.2M37.15 265.27H36.91V266.05H37.18M37.14 262.91H37.02V263.43H37.2M37.16 297.62H36.94V298.85H37.16M37.18 311.18H36.98V311.88H37.18M37.2 258.18H36.93V258.71H37.18M37.16 272.79H36.92V273.57H37.2M37.2 235.1H36.9V235.62H37.18M37.14 295.92H36.89V297.01H37.2M37.2 310.65H36.83V311.53H36.98M37.18 241.57H36.78V242.36H37.16M37.2 314.5H36.74V315.03H37.14M36.78 241.96H36.72V243.14H37.2M37.2 254.69H36.98V255.3H37.16M37.2 306.81H36.8V307.33H37.01M36.8 307.07H36.66V307.85H37.2M37.14 239.91H36.74V240.69H37.2M36.9 235.36H36.74V236.32H37.18M37.2 304.01H36.92V304.36H37.2M36.83 311.09H36.59V312.4H37.2M37.2 237.55H36.67V238.42H37.03M37.18 246.82H36.68V247.52H37.13M36.89 296.46H36.66V298.24H36.94M37.18 237.02H36.6V237.98H36.67M37.18 233.87H36.65V234.4H37.2M37.18 250.31H36.91V251.01H37.18M37.2 233.35H36.51V234.14H36.65M37.16 275.85H36.62V276.37H37.2M36.62 276.11H36.53V276.72H37.2M37.2 299.46H36.84V299.98H37.14M36.72 242.55H36.35V243.49H37.2M37.2 232.65H36.61V233H37.2M37.2 275.32H36.31V276.42H36.53M37.18 269.55H36.2V270.34H36.98M37.1 305.58H36.73V306.28H37.18M37.18 313.98H36.4V314.76H36.74M37.2 257.83H36.42V258.45H36.93M36.68 247.17H36.41V248.22H37.18M36.42 258.14H36.27V259.41H37.18M37.2 239.3H36.45V240.3H36.74M37.14 291.33H35.97V292.29H37.11M37.2 272.18H36.55V273.18H36.92M37.2 234.75H36.2V235.84H36.74M37.2 284.07H36.6V284.42H37.2M37.2 293.51H36.7V293.86H37.2M37.16 231.86H36.2V232.82H36.61M37.2 284.77H36.05V285.12H37.2M36.51 233.74H35.88V235.29H36.2M36.7 293.69H36.37V294.21H37.2M37.2 248.74H36.06V249.35H36.97M37.2 279.17H36.64V279.52H37.2M36.91 265.66H36.02V266.58H37.2M36.2 269.95H35.66V271.39H37.08M37.02 263.17H35.82V263.78H37.2M37.2 305.06H36.05V305.93H36.73M37.2 269.03H35.55V270.67H35.66M36.27 258.77H35.28V260.11H37.07M37.13 281.1H35.31V281.62H37.2M36.55 272.68H35.19V273.92H37.2M36.41 247.69H35.75V249.05H36.06M37.2 285.47H36.18V285.82H37.2M37.2 303.31H36.04V303.66H37.2M37.2 300.51H35.91V301.03H37.05M37.2 282.32H35.8V282.84H37.17M37.2 245.94H36.03V246.29H37.2M37.2 288.62H35.67V289.14H37.18M37.18 302.78H35.22V303.48H36.04M37.2 281.97H35.3V282.58H35.8M36.6 284.24H35.55V284.94H36.05M35.75 248.37H35.24V250.66H36.91M35.22 303.13H34.98V304.18H36.92M36.02 266.12H34.72V266.93H37.2M37 256.35H34.43V257.13H37.2M36.03 246.12H34.71V249.52H35.24M37.18 292.99H34.25V293.95H36.37M37.16 286.43H35.8V287.22H37.2M37.18 309.78H34.55V310.3H37.2M37.2 245.59H34.48V247.82H34.71M37.2 312.75H35.23V313.28H37.18M37.2 268.68H33.98V269.85H35.55M37.18 280.4H34V281.36H35.31M37.12 308.95H33.98V310.04H34.55M37.2 301.56H34.29V302.08H37.14M37.2 277.77H33.72V278.12H37.2M37.2 267.63H35.88V267.98H37.2M35.88 234.52H33.37V237.5H36.6M37.03 283.54H34.8V284.59H35.55M37.2 251.54H35.07V251.89H37.2M35.67 288.88H34.72V289.67H37.2M35.91 300.77H33.19V301.82H34.29M37.2 268.33H33.17V269.26H33.98M33.17 268.8H32.97V273.3H35.19M34.8 284.07H33.44V285.64H36.18M34.48 246.7H33.27V251.71H35.07M37.2 267.28H34.04V267.8H35.88M37.16 261.94H34.33V263.47H35.82M37.2 274.97H33.54V275.87H36.31M36.59 311.75H33.05V313.01H35.23M36.98 254.99H32.83V256.74H34.43M36.2 232.34H32.69V236.01H33.37M36.45 239.8H34.21V241.04H37.2M37.18 288.09H32.1V289.27H34.72M37.2 304.71H33.46V305.49H36.05M37.2 245.24H32.45V249.21H33.27M37.2 257.48H32.78V259.44H35.28M37.2 287.57H31.54V288.68H32.1M37.2 264.48H33.25V266.52H34.72M32.78 258.46H31.44V260.63H37.2M36.64 279.35H32.04V279.87H37.2M37.07 244.02H32.88V244.72H37.18M34 280.88H32.98V282.28H35.3M37.2 264.13H31.51V265.5H33.25M37.14 254.16H31.42V255.87H32.83M33.44 284.86H32.09V286.82H35.8M33.98 309.49H31.97V312.38H33.05M37.2 295.26H33.73V297.35H36.66M32.97 271.05H30.37V274.45H37.18M36.84 299.72H32.18V301.3H33.19M32.88 244.37H29.89V247.23H32.45M35.97 291.81H31.72V293.47H34.25M30.37 272.75H30.07V275.42H33.54M34.98 303.66H29.93V305.1H33.46M33.72 277.95H30.99V278.65H37.11M32.18 300.51H29.09V304.38H29.93M32.09 285.84H30.58V288.12H31.54M31.42 255.01H28.84V259.55H31.44M36.35 243.02H28.72V245.8H29.89M34.04 267.54H28.59V274.09H30.07M37.2 290.02H28.39V292.64H31.72M37.17 261.16H29.19V262.71H34.33M32.69 234.18H28.22V240.42H34.21M36.66 307.46H29.76V310.94H31.97M37.2 277.07H27.85V277.42H37.2M31.51 264.82H28.25V270.81H28.59M27.85 277.25H27.47V278.3H30.99M28.25 267.81H27.33V277.77H27.47M37.07 253.07H27.87V257.28H28.84M32.98 281.58H29.36V286.98H30.58M29.36 284.28H26.88V291.33H28.39M29.19 261.93H26.81V272.79H27.33M28.22 237.3H27.23V244.41H28.72M26.81 267.36H26.18V279.61H32.04M26.88 287.8H26.18V294.74H37.08M29.76 309.2H27.1V314.37H36.4M33.73 296.31H27.09V302.44H29.09M27.09 299.37H26.4V311.78H27.1M26.18 291.27H25.86V305.58H26.4M27.87 255.17H25.71V273.49H26.18M25.71 264.33H25.13V298.42H25.86M27.23 240.85H24.6V281.38H25.13M24.6 220.54H21.2V280.3H24.6V261.12" fill="none" stroke="#111" stroke-width="0.45" />
<rect x="34.8" y="216.6" width="2.4" height="98.8" fill="#111" />
<path d="M37.2 216.6 L32.44 216.6 L32.06 218.27 L32.6 219.73 L32.79 220.94 L32.11 222.24 L32.24 223.9 L32.9 224.85 L32.73 225.87 L31.94 227.53 L32.62 229.14 L33.1 230.1 L31.83 231.8 L32.33 233.35 L32.8 234.29 L32.2 235.96 L31.98 237.55 L32.44 239.22 L31.65 240.33 L31.17 241.68 L32.11 243.31 L32.53 244.94 L32.81 245.85 L32.04 247.12 L30.12 248.6 L31.63 250.23 L32.24 251.68 L32.54 253.35 L31.78 254.4 L32.95 255.47 L33.07 257.02 L31.54 257.96 L32.65 259.53 L31.74 260.49 L32.45 261.58 L32.07 262.61 L32.23 263.9 L32.43 265.25 L32.17 266.92 L30.69 267.97 L32.28 269.32 L32.53 270.49 L32.58 271.83 L32.81 273.53 L32.55 274.72 L31.91 276.03 L32.82 277.5 L32.41 278.75 L31.62 280.03 L32.92 281.72 L31.94 283.23 L31.78 284.54 L32.58 286.16 L33.05 287.14 L32.46 288.06 L32.64 289.14 L31.21 290.68 L32.46 291.73 L32.47 292.91 L30.75 294.59 L32.81 295.76 L32.77 296.68 L32.13 297.84 L32.39 298.94 L32 299.94 L32.72 301.08 L33.98 302.15 L32.87 303.18 L33.02 304.5 L32.65 306.01 L33.26 307.04 L33.81 308.58 L31.96 309.81 L33.08 311.33 L33.6 312.84 L32.79 313.97 L31.43 315.02 L33.5 315.4 L37.2 315.4Z" fill="#151515" stroke="none" stroke-width="1" />
<defs><linearGradient id="cb" x1="0" y1="0" x2="0" y2="1"><stop offset="0" stop-color="#c0443a"/><stop offset="0.16" stop-color="#df8f6c"/><stop offset="0.33" stop-color="#f2c887"/><stop offset="0.5" stop-color="#f8efc4"/><stop offset="0.66" stop-color="#e7ebef"/><stop offset="0.83" stop-color="#a8c8e2"/><stop offset="1" stop-color="#4670b0"/></linearGradient></defs>
<rect x="164.6" y="224" width="5.6" height="82" fill="url(#cb)" />
<text x="173.8" y="229.9" font-size="6.6" fill="#333" stroke="#333" stroke-width="0.16" >3</text>
<text x="173.8" y="242.47" font-size="6.6" fill="#333" stroke="#333" stroke-width="0.16" >2</text>
<text x="173.8" y="255.04" font-size="6.6" fill="#333" stroke="#333" stroke-width="0.16" >1</text>
<text x="173.8" y="267.61" font-size="6.6" fill="#333" stroke="#333" stroke-width="0.16" >0</text>
<text x="173.8" y="280.18" font-size="6.6" fill="#333" stroke="#333" stroke-width="0.16" >−1</text>
<text x="173.8" y="292.75" font-size="6.6" fill="#333" stroke="#333" stroke-width="0.16" >−2</text>
<text x="173.8" y="305.32" font-size="6.6" fill="#333" stroke="#333" stroke-width="0.16" >−3</text>
<rect x="188.4" y="243" width="9.8" height="9.5" fill="#cc8fbd" />
<g transform="translate(201.4 250) skewX(-7)">
<text x="0" y="0" font-size="6.3" fill="#2a2a2a" stroke="#2a2a2a" stroke-width="0.05" textLength="42" lengthAdjust="spacingAndGlyphs" >MLL_AF9_e12.3</text>
</g>
<rect x="188.4" y="252.45" width="9.8" height="9.5" fill="#2f9570" />
<g transform="translate(201.4 259.45) skewX(-7)">
<text x="0" y="0" font-size="6.3" fill="#2a2a2a" stroke="#2a2a2a" stroke-width="0.05" textLength="42" lengthAdjust="spacingAndGlyphs" >MLL_AF9_e12.4</text>
</g>
<rect x="188.4" y="261.9" width="9.8" height="9.5" fill="#de8d84" />
<g transform="translate(201.4 268.9) skewX(-7)">
<text x="0" y="0" font-size="6.3" fill="#2a2a2a" stroke="#2a2a2a" stroke-width="0.05" textLength="41.5" lengthAdjust="spacingAndGlyphs" >MLL_AF9_e20.1</text>
</g>
<rect x="188.4" y="271.35" width="9.8" height="9.5" fill="#2aa0d5" />
<g transform="translate(201.4 278.35) skewX(-7)">
<text x="0" y="0" font-size="6.3" fill="#2a2a2a" stroke="#2a2a2a" stroke-width="0.05" textLength="41.5" lengthAdjust="spacingAndGlyphs" >MLL_AF9_e21.1</text>
</g>
<rect x="188.4" y="280.8" width="9.8" height="9.5" fill="#c8b43a" />
<g transform="translate(201.4 287.8) skewX(-7)">
<text x="0" y="0" font-size="6.3" fill="#2a2a2a" stroke="#2a2a2a" stroke-width="0.05" textLength="42.7" lengthAdjust="spacingAndGlyphs" >MLL_AF9_renilla</text>
</g>
<text x="267.7" y="224" font-size="12.6" fill="#111" stroke="#111" stroke-width="0.16" >C</text>
<circle cx="307.3" cy="262" r="26.6" fill="#8b6fa6"/>
<circle cx="342.3" cy="261.8" r="26.9" fill="#a7c78b"/>
<clipPath id="cpurple"><circle cx="307.3" cy="262" r="26.6"/></clipPath>
<circle cx="342.3" cy="261.8" r="26.9" fill="#7b9470" clip-path="url(#cpurple)"/>
<text x="295.4" y="264.9" font-size="7.8" fill="#222" stroke="#222" stroke-width="0.16" textLength="11.2" lengthAdjust="spacingAndGlyphs" >787</text>
<text x="319" y="264.9" font-size="7.8" fill="#222" stroke="#222" stroke-width="0.16" textLength="10.7" lengthAdjust="spacingAndGlyphs" >119</text>
<text x="342.8" y="264.9" font-size="7.8" fill="#222" stroke="#222" stroke-width="0.16" textLength="11.2" lengthAdjust="spacingAndGlyphs" >149</text>
<text x="314" y="230.2" font-size="7.2" fill="#222" stroke="#222" stroke-width="0.16" textLength="55.9" lengthAdjust="spacingAndGlyphs" >JMJD1C knockout</text>
<text x="284.3" y="298.4" font-size="7.2" fill="#222" stroke="#222" stroke-width="0.16" textLength="46.5" lengthAdjust="spacingAndGlyphs" >JMJD1C sgRNA</text>
<line x1="54.9" y1="411.2" x2="246.5" y2="411.2" stroke="#e4e4e4" stroke-width="0.6" stroke-dasharray="1.2 0.8"/>
<line x1="54.9" y1="401.6" x2="246.5" y2="401.6" stroke="#e4e4e4" stroke-width="0.6" stroke-dasharray="1.2 0.8"/>
<line x1="54.9" y1="392" x2="246.5" y2="392" stroke="#e4e4e4" stroke-width="0.6" stroke-dasharray="1.2 0.8"/>
<line x1="54.9" y1="382.4" x2="246.5" y2="382.4" stroke="#e4e4e4" stroke-width="0.6" stroke-dasharray="1.2 0.8"/>
<line x1="54.9" y1="372.8" x2="246.5" y2="372.8" stroke="#e4e4e4" stroke-width="0.6" stroke-dasharray="1.2 0.8"/>
<line x1="54.9" y1="363.2" x2="246.5" y2="363.2" stroke="#e4e4e4" stroke-width="0.6" stroke-dasharray="1.2 0.8"/>
<line x1="54.9" y1="353.6" x2="246.5" y2="353.6" stroke="#e4e4e4" stroke-width="0.6" stroke-dasharray="1.2 0.8"/>
<line x1="83.65" y1="348" x2="83.65" y2="426.8" stroke="#e4e4e4" stroke-width="0.6" stroke-dasharray="1.2 0.8"/>
<line x1="83.65" y1="461.4" x2="83.65" y2="513.2" stroke="#e4e4e4" stroke-width="0.6" stroke-dasharray="1.2 0.8"/>
<line x1="113.4" y1="348" x2="113.4" y2="426.8" stroke="#e4e4e4" stroke-width="0.6" stroke-dasharray="1.2 0.8"/>
<line x1="113.4" y1="461.4" x2="113.4" y2="513.2" stroke="#e4e4e4" stroke-width="0.6" stroke-dasharray="1.2 0.8"/>
<line x1="143.15" y1="348" x2="143.15" y2="426.8" stroke="#e4e4e4" stroke-width="0.6" stroke-dasharray="1.2 0.8"/>
<line x1="143.15" y1="461.4" x2="143.15" y2="513.2" stroke="#e4e4e4" stroke-width="0.6" stroke-dasharray="1.2 0.8"/>
<line x1="172.9" y1="348" x2="172.9" y2="426.8" stroke="#e4e4e4" stroke-width="0.6" stroke-dasharray="1.2 0.8"/>
<line x1="172.9" y1="461.4" x2="172.9" y2="513.2" stroke="#e4e4e4" stroke-width="0.6" stroke-dasharray="1.2 0.8"/>
<line x1="202.65" y1="348" x2="202.65" y2="426.8" stroke="#e4e4e4" stroke-width="0.6" stroke-dasharray="1.2 0.8"/>
<line x1="202.65" y1="461.4" x2="202.65" y2="513.2" stroke="#e4e4e4" stroke-width="0.6" stroke-dasharray="1.2 0.8"/>
<line x1="232.4" y1="348" x2="232.4" y2="426.8" stroke="#e4e4e4" stroke-width="0.6" stroke-dasharray="1.2 0.8"/>
<line x1="232.4" y1="461.4" x2="232.4" y2="513.2" stroke="#e4e4e4" stroke-width="0.6" stroke-dasharray="1.2 0.8"/>
<line x1="54.9" y1="470" x2="246.5" y2="470" stroke="#e6e6e6" stroke-width="0.6" stroke-dasharray="1.2 0.8"/>
<line x1="54.9" y1="493.6" x2="246.5" y2="493.6" stroke="#e6e6e6" stroke-width="0.6" stroke-dasharray="1.2 0.8"/>
<line x1="54.9" y1="505.4" x2="246.5" y2="505.4" stroke="#e6e6e6" stroke-width="0.6" stroke-dasharray="1.2 0.8"/>
<line x1="53.9" y1="420.8" x2="247.5" y2="420.8" stroke="#cbcbcb" stroke-width="1.1" />
<line x1="53.9" y1="426.8" x2="247.5" y2="426.8" stroke="#d8d8d8" stroke-width="1.2" />
<line x1="53.9" y1="453.5" x2="247.5" y2="453.5" stroke="#d8d8d8" stroke-width="0.8" />
<line x1="53.9" y1="460.9" x2="247.5" y2="460.9" stroke="#d8d8d8" stroke-width="1" />
<path d="M54 411.39 L54.7 393.92 L55.7 380.48 L57 371.07 L58.3 364.35 L59.4 360.03 L61.4 358.4 L63.5 354.27 L66.2 351.58 L69.5 350.24 L73.6 350.62 L77.6 350.91 L82.3 352.93 L87.7 355.62 L94.4 358.88 L101.1 361.66 L106.5 364.16 L113.3 367.71 L121.7 371.65 L128.5 375.78 L135.2 379.04 L141.9 382.4 L148.6 386.43 L155.4 389.79 L162.1 393.82 L168.8 397.18 L175.6 400.64 L180 402.08 L186.7 405.15 L193.5 408.7 L200.2 411.78 L206.9 415.14 L213.6 418.21 L220.4 420.13 L223.1 419.94 L227.1 421.86 L231.1 423.2 L233.8 422.91 L236.5 423.2 L238.5 420.61" fill="none" stroke="#179a3c" stroke-width="1.7" stroke-linejoin="round" stroke-linecap="round"/>
<rect x="54.4" y="428.1" width="12.5" height="25.4" fill="#151515" />
<path d="M68.3 428.1V453.5M70.3 428.1V453.5M71.5 428.1V453.5M73 428.1V453.5M79.2 428.1V453.5M89.8 428.1V453.5M96 428.1V453.5M100.4 428.1V453.5M102 428.1V453.5M106.7 428.1V453.5M115.4 428.1V453.5M118.3 428.1V453.5M120.2 428.1V453.5M127.9 428.1V453.5M137.5 428.1V453.5M144.2 428.1V453.5M146 428.1V453.5M147.4 428.1V453.5M152 428.1V453.5M156.7 428.1V453.5M159.5 428.1V453.5M160.8 428.1V453.5M163.6 428.1V453.5M176.9 428.1V453.5M196.5 428.1V453.5M202.2 428.1V453.5M206.6 428.1V453.5M214.1 428.1V453.5M217.7 428.1V453.5M220.8 428.1V453.5M222.2 428.1V453.5M228.8 428.1V453.5M230.9 428.1V453.5M232.9 428.1V453.5M234.5 428.1V453.5M236.9 428.1V453.5" fill="none" stroke="#111" stroke-width="0.9" />
<path d="M67.5 428.1V453.5M74.8 428.1V453.5M124 428.1V453.5M139 428.1V453.5M198.5 428.1V453.5M215.5 428.1V453.5M219.2 428.1V453.5M233.8 428.1V453.5" fill="none" stroke="#999" stroke-width="0.9" />
<path d="M77.2 428.1V453.5M98 428.1V453.5" fill="none" stroke="#bbb" stroke-width="0.9" />
<path d="M82 428.1V453.5M93.5 428.1V453.5M150 428.1V453.5M154.5 428.1V453.5M183 428.1V453.5M226.5 428.1V453.5" fill="none" stroke="#555" stroke-width="0.9" />
<path d="M83.8 428.1V453.5M91.2 428.1V453.5M229.8 428.1V453.5M231.9 428.1V453.5M235.8 428.1V453.5" fill="none" stroke="#777" stroke-width="0.9" />
<rect x="53.9" y="453.5" width="1.59" height="6.9" fill="#b23532" />
<rect x="55.39" y="453.5" width="1.59" height="6.9" fill="#c64842" />
<rect x="56.88" y="453.5" width="1.59" height="6.9" fill="#d15a54" />
<rect x="58.36" y="453.5" width="1.59" height="6.9" fill="#d45e5a" />
<rect x="59.85" y="453.5" width="1.59" height="6.9" fill="#d7625e" />
<rect x="61.34" y="453.5" width="1.59" height="6.9" fill="#d96664" />
<rect x="62.83" y="453.5" width="1.59" height="6.9" fill="#dc6a68" />
<rect x="64.31" y="453.5" width="1.59" height="6.9" fill="#df6e6e" />
<rect x="65.8" y="453.5" width="1.59" height="6.9" fill="#e47575" />
<rect x="67.29" y="453.5" width="1.59" height="6.9" fill="#e57676" />
<rect x="68.78" y="453.5" width="1.59" height="6.9" fill="#e57777" />
<rect x="70.26" y="453.5" width="1.59" height="6.9" fill="#e67878" />
<rect x="71.75" y="453.5" width="1.59" height="6.9" fill="#e67979" />
<rect x="73.24" y="453.5" width="1.59" height="6.9" fill="#e67a7a" />
<rect x="74.72" y="453.5" width="1.59" height="6.9" fill="#e77b7b" />
<rect x="76.21" y="453.5" width="1.59" height="6.9" fill="#e77c7c" />
<rect x="77.7" y="453.5" width="1.59" height="6.9" fill="#e87e7e" />
<rect x="79.19" y="453.5" width="1.59" height="6.9" fill="#e87f7f" />
<rect x="80.68" y="453.5" width="1.59" height="6.9" fill="#e98080" />
<rect x="82.16" y="453.5" width="1.59" height="6.9" fill="#e98181" />
<rect x="83.65" y="453.5" width="1.59" height="6.9" fill="#e98282" />
<rect x="85.14" y="453.5" width="1.59" height="6.9" fill="#ea8383" />
<rect x="86.62" y="453.5" width="1.59" height="6.9" fill="#ea8484" />
<rect x="88.11" y="453.5" width="1.59" height="6.9" fill="#eb8585" />
<rect x="89.6" y="453.5" width="1.59" height="6.9" fill="#eb8787" />
<rect x="91.09" y="453.5" width="1.59" height="6.9" fill="#ec8888" />
<rect x="92.58" y="453.5" width="1.59" height="6.9" fill="#ec8989" />
<rect x="94.06" y="453.5" width="1.59" height="6.9" fill="#ed8a8a" />
<rect x="95.55" y="453.5" width="1.59" height="6.9" fill="#ed8b8b" />
<rect x="97.04" y="453.5" width="1.59" height="6.9" fill="#ed8c8c" />
<rect x="98.53" y="453.5" width="1.59" height="6.9" fill="#ee8d8d" />
<rect x="100.01" y="453.5" width="1.59" height="6.9" fill="#ee8e8e" />
<rect x="101.5" y="453.5" width="1.59" height="6.9" fill="#ef9090" />
<rect x="102.99" y="453.5" width="1.59" height="6.9" fill="#ef9191" />
<rect x="104.47" y="453.5" width="1.59" height="6.9" fill="#f09292" />
<rect x="105.96" y="453.5" width="1.59" height="6.9" fill="#f09393" />
<rect x="107.45" y="453.5" width="1.59" height="6.9" fill="#f09494" />
<rect x="108.94" y="453.5" width="1.59" height="6.9" fill="#f19595" />
<rect x="110.43" y="453.5" width="1.59" height="6.9" fill="#f19696" />
<rect x="111.91" y="453.5" width="1.59" height="6.9" fill="#f29797" />
<rect x="113.4" y="453.5" width="2.18" height="6.9" fill="#f3cad9" />
<rect x="115.53" y="453.5" width="2.18" height="6.9" fill="#f3c9d8" />
<rect x="117.66" y="453.5" width="2.18" height="6.9" fill="#f2c8d8" />
<rect x="119.78" y="453.5" width="2.18" height="6.9" fill="#f2c7d7" />
<rect x="121.91" y="453.5" width="2.18" height="6.9" fill="#f2c6d7" />
<rect x="124.04" y="453.5" width="2.18" height="6.9" fill="#f1c6d6" />
<rect x="126.17" y="453.5" width="2.18" height="6.9" fill="#f1c5d6" />
<rect x="128.29" y="453.5" width="2.18" height="6.9" fill="#f1c4d5" />
<rect x="130.42" y="453.5" width="2.18" height="6.9" fill="#f1c3d5" />
<rect x="132.55" y="453.5" width="2.18" height="6.9" fill="#f0c3d4" />
<rect x="134.68" y="453.5" width="2.18" height="6.9" fill="#f0c2d4" />
<rect x="136.8" y="453.5" width="2.18" height="6.9" fill="#f0c1d3" />
<rect x="138.93" y="453.5" width="2.18" height="6.9" fill="#efc0d3" />
<rect x="141.06" y="453.5" width="2.18" height="6.9" fill="#efbfd2" />
<rect x="143.19" y="453.5" width="2.12" height="6.9" fill="#dfd8ef" />
<rect x="145.26" y="453.5" width="2.12" height="6.9" fill="#ded7ee" />
<rect x="147.33" y="453.5" width="2.12" height="6.9" fill="#ddd6ee" />
<rect x="149.41" y="453.5" width="2.12" height="6.9" fill="#dcd5ed" />
<rect x="151.48" y="453.5" width="2.12" height="6.9" fill="#dbd4ec" />
<rect x="153.56" y="453.5" width="2.12" height="6.9" fill="#dad3ec" />
<rect x="155.63" y="453.5" width="2.12" height="6.9" fill="#d9d2eb" />
<rect x="157.7" y="453.5" width="2.12" height="6.9" fill="#d8d1eb" />
<rect x="159.78" y="453.5" width="2.12" height="6.9" fill="#d7d0ea" />
<rect x="161.85" y="453.5" width="2.12" height="6.9" fill="#d6ceea" />
<rect x="163.92" y="453.5" width="2.12" height="6.9" fill="#d5cde9" />
<rect x="166" y="453.5" width="2.12" height="6.9" fill="#d4cce9" />
<rect x="168.07" y="453.5" width="2.12" height="6.9" fill="#d3cbe8" />
<rect x="170.15" y="453.5" width="2.12" height="6.9" fill="#d2cae8" />
<rect x="172.22" y="453.5" width="2.12" height="6.9" fill="#d1c9e7" />
<rect x="174.29" y="453.5" width="2.12" height="6.9" fill="#d0c8e6" />
<rect x="176.37" y="453.5" width="2.12" height="6.9" fill="#cfc7e6" />
<rect x="178.44" y="453.5" width="2.12" height="6.9" fill="#cec6e5" />
<rect x="180.52" y="453.5" width="2.13" height="6.9" fill="#a89ed1" />
<rect x="182.6" y="453.5" width="2.13" height="6.9" fill="#a59bd0" />
<rect x="184.68" y="453.5" width="2.13" height="6.9" fill="#a398cf" />
<rect x="186.76" y="453.5" width="2.13" height="6.9" fill="#a096ce" />
<rect x="188.85" y="453.5" width="2.13" height="6.9" fill="#9e93cc" />
<rect x="190.93" y="453.5" width="2.13" height="6.9" fill="#9b91cb" />
<rect x="193.01" y="453.5" width="2.13" height="6.9" fill="#998eca" />
<rect x="195.09" y="453.5" width="2.13" height="6.9" fill="#968bc9" />
<rect x="197.18" y="453.5" width="2.17" height="6.9" fill="#897bc0" />
<rect x="199.29" y="453.5" width="2.17" height="6.9" fill="#887abf" />
<rect x="201.41" y="453.5" width="2.17" height="6.9" fill="#8678be" />
<rect x="203.53" y="453.5" width="2.17" height="6.9" fill="#8576bd" />
<rect x="205.65" y="453.5" width="2.17" height="6.9" fill="#8374bc" />
<rect x="207.77" y="453.5" width="2.17" height="6.9" fill="#8273bc" />
<rect x="209.89" y="453.5" width="2.17" height="6.9" fill="#8071bb" />
<rect x="212" y="453.5" width="2.17" height="6.9" fill="#7f70ba" />
<rect x="214.12" y="453.5" width="2.17" height="6.9" fill="#7e6eb9" />
<rect x="216.24" y="453.5" width="2.17" height="6.9" fill="#7c6cb8" />
<rect x="218.36" y="453.5" width="2.17" height="6.9" fill="#7b6ab8" />
<rect x="220.48" y="453.5" width="2.17" height="6.9" fill="#7969b7" />
<rect x="222.59" y="453.5" width="2.17" height="6.9" fill="#7867b6" />
<rect x="224.71" y="453.5" width="2.17" height="6.9" fill="#7666b5" />
<rect x="226.83" y="453.5" width="2.17" height="6.9" fill="#7564b4" />
<rect x="228.95" y="453.5" width="2.34" height="6.9" fill="#53308e" />
<rect x="231.24" y="453.5" width="2.34" height="6.9" fill="#502b8d" />
<rect x="233.53" y="453.5" width="2.34" height="6.9" fill="#4c278c" />
<rect x="235.82" y="453.5" width="2.34" height="6.9" fill="#49228b" />
<path d="M54.5 481.8 L53.9 467.4 L55.05 470.15 L56.2 470.88 L57.35 471.62 L58.51 472.06 L59.66 472.43 L60.81 472.8 L61.96 473.17 L63.11 473.54 L64.26 473.78 L65.41 474.02 L66.56 474.26 L67.72 474.5 L68.87 474.74 L70.02 474.98 L71.17 475.25 L72.32 475.51 L73.47 475.78 L74.62 476.05 L75.78 476.32 L76.93 476.52 L78.08 476.7 L79.23 476.89 L80.38 477.07 L81.53 477.26 L82.68 477.44 L83.83 477.63 L84.99 477.8 L86.14 477.89 L87.29 477.98 L88.44 478.07 L89.59 478.16 L90.74 478.25 L91.89 478.34 L93.05 478.43 L94.2 478.52 L95.35 478.61 L96.5 478.7 L97.65 478.79 L98.8 478.88 L99.95 478.97 L101.1 479.03 L102.26 479.09 L103.41 479.15 L104.56 479.21 L105.71 479.27 L106.86 479.33 L108.01 479.39 L109.16 479.45 L110.31 479.51 L111.47 479.57 L112.62 479.63 L113.77 479.69 L114.92 479.75 L116.07 479.81 L117.22 479.87 L118.37 479.93 L119.53 479.99 L120.68 480.06 L121.83 480.15 L122.98 480.23 L124.13 480.32 L125.28 480.4 L126.43 480.49 L127.58 480.57 L128.74 480.65 L129.89 480.74 L131.04 480.82 L132.19 480.91 L133.34 480.99 L134.49 481.08 L135.64 481.17 L136.8 481.26 L137.95 481.35 L139.1 481.44 L140.25 481.54 L141.4 481.63 L142.55 481.72 L143.7 481.8 L144.85 481.85 L146.01 481.9 L147.16 481.94 L148.31 481.99 L149.46 482.04 L150.61 482.08 L151.76 482.13 L152.91 482.18 L154.07 482.23 L155.22 482.27 L156.37 482.32 L157.52 482.36 L158.67 482.4 L159.82 482.45 L160.97 482.49 L162.12 482.54 L163.28 482.58 L164.43 482.63 L165.58 482.66 L166.73 482.7 L167.88 482.74 L169.03 482.77 L170.18 482.81 L171.34 482.85 L172.49 482.88 L173.64 482.92 L174.79 482.96 L175.94 482.99 L177.09 483.03 L178.24 483.07 L179.39 483.11 L180.55 483.14 L181.7 483.18 L182.85 483.22 L184 483.25 L185.15 483.29 L186.3 483.33 L187.45 483.36 L188.61 483.4 L189.76 483.44 L190.91 483.47 L192.06 483.51 L193.21 483.55 L194.36 483.58 L195.51 483.62 L196.66 483.66 L197.82 483.7 L198.97 483.73 L200.12 483.77 L201.27 483.81 L202.42 483.86 L203.57 483.92 L204.72 483.97 L205.87 484.03 L207.03 484.08 L208.18 484.14 L209.33 484.19 L210.48 484.25 L211.63 484.3 L212.78 484.36 L213.93 484.41 L215.09 484.47 L216.24 484.53 L217.39 484.64 L218.54 484.74 L219.69 484.84 L220.84 484.95 L221.99 485.05 L223.14 485.15 L224.3 485.26 L225.45 485.39 L226.6 485.63 L227.75 485.88 L228.9 486.13 L230.05 486.37 L231.2 486.74 L232.36 487.29 L233.51 487.85 L234.66 488.66 L235.81 490.5 L236.96 494.93 L238.11 508.94 L238.11 481.8 Z" fill="#c3c0be" stroke="none" stroke-width="1" />
<line x1="143.19" y1="453.5" x2="143.19" y2="513.2" stroke="#b8b8c8" stroke-width="0.7" stroke-dasharray="1.4 1"/>
<rect x="53.9" y="347" width="193.6" height="167.2" fill="none" stroke="#111" stroke-width="1.25"/>
<line x1="50.5" y1="420.8" x2="53.9" y2="420.8" stroke="#222" stroke-width="0.9" />
<text x="45.9" y="423.2" font-size="6.8" fill="#1e1e1e" stroke="#1e1e1e" stroke-width="0.16" text-anchor="end" textLength="8.7" lengthAdjust="spacingAndGlyphs" >0.0</text>
<line x1="50.5" y1="411.2" x2="53.9" y2="411.2" stroke="#222" stroke-width="0.9" />
<text x="45.9" y="413.6" font-size="6.8" fill="#1e1e1e" stroke="#1e1e1e" stroke-width="0.16" text-anchor="end" textLength="8.7" lengthAdjust="spacingAndGlyphs" >0.1</text>
<line x1="50.5" y1="401.6" x2="53.9" y2="401.6" stroke="#222" stroke-width="0.9" />
<text x="45.9" y="404" font-size="6.8" fill="#1e1e1e" stroke="#1e1e1e" stroke-width="0.16" text-anchor="end" textLength="8.7" lengthAdjust="spacingAndGlyphs" >0.2</text>
<line x1="50.5" y1="392" x2="53.9" y2="392" stroke="#222" stroke-width="0.9" />
<text x="45.9" y="394.4" font-size="6.8" fill="#1e1e1e" stroke="#1e1e1e" stroke-width="0.16" text-anchor="end" textLength="8.7" lengthAdjust="spacingAndGlyphs" >0.3</text>
<line x1="50.5" y1="382.4" x2="53.9" y2="382.4" stroke="#222" stroke-width="0.9" />
<text x="45.9" y="384.8" font-size="6.8" fill="#1e1e1e" stroke="#1e1e1e" stroke-width="0.16" text-anchor="end" textLength="8.7" lengthAdjust="spacingAndGlyphs" >0.4</text>
<line x1="50.5" y1="372.8" x2="53.9" y2="372.8" stroke="#222" stroke-width="0.9" />
<text x="45.9" y="375.2" font-size="6.8" fill="#1e1e1e" stroke="#1e1e1e" stroke-width="0.16" text-anchor="end" textLength="8.7" lengthAdjust="spacingAndGlyphs" >0.5</text>
<line x1="50.5" y1="363.2" x2="53.9" y2="363.2" stroke="#222" stroke-width="0.9" />
<text x="45.9" y="365.6" font-size="6.8" fill="#1e1e1e" stroke="#1e1e1e" stroke-width="0.16" text-anchor="end" textLength="8.7" lengthAdjust="spacingAndGlyphs" >0.6</text>
<line x1="50.5" y1="353.6" x2="53.9" y2="353.6" stroke="#222" stroke-width="0.9" />
<text x="45.9" y="356" font-size="6.8" fill="#1e1e1e" stroke="#1e1e1e" stroke-width="0.16" text-anchor="end" textLength="8.7" lengthAdjust="spacingAndGlyphs" >0.7</text>
<line x1="50.5" y1="470" x2="53.9" y2="470" stroke="#222" stroke-width="0.9" />
<text x="45.9" y="472.4" font-size="6.8" fill="#1e1e1e" stroke="#1e1e1e" stroke-width="0.16" text-anchor="end" textLength="3.2" lengthAdjust="spacingAndGlyphs" >1</text>
<line x1="50.5" y1="481.8" x2="53.9" y2="481.8" stroke="#222" stroke-width="0.9" />
<text x="45.9" y="484.2" font-size="6.8" fill="#1e1e1e" stroke="#1e1e1e" stroke-width="0.16" text-anchor="end" textLength="3.2" lengthAdjust="spacingAndGlyphs" >0</text>
<line x1="50.5" y1="493.6" x2="53.9" y2="493.6" stroke="#222" stroke-width="0.9" />
<text x="45.9" y="496" font-size="6.8" fill="#1e1e1e" stroke="#1e1e1e" stroke-width="0.16" text-anchor="end" textLength="5.6" lengthAdjust="spacingAndGlyphs" >-1</text>
<line x1="50.5" y1="505.4" x2="53.9" y2="505.4" stroke="#222" stroke-width="0.9" />
<text x="45.9" y="507.8" font-size="6.8" fill="#1e1e1e" stroke="#1e1e1e" stroke-width="0.16" text-anchor="end" textLength="5.6" lengthAdjust="spacingAndGlyphs" >-2</text>
<line x1="53.9" y1="514.2" x2="53.9" y2="517.4" stroke="#222" stroke-width="0.9" />
<text x="53.9" y="528.2" font-size="6.8" fill="#1e1e1e" stroke="#1e1e1e" stroke-width="0.16" text-anchor="middle" textLength="3.4" lengthAdjust="spacingAndGlyphs" >0</text>
<line x1="83.65" y1="514.2" x2="83.65" y2="517.4" stroke="#222" stroke-width="0.9" />
<text x="83.65" y="528.2" font-size="6.8" fill="#1e1e1e" stroke="#1e1e1e" stroke-width="0.16" text-anchor="middle" textLength="16.6" lengthAdjust="spacingAndGlyphs" >2,500</text>
<line x1="113.4" y1="514.2" x2="113.4" y2="517.4" stroke="#222" stroke-width="0.9" />
<text x="113.4" y="528.2" font-size="6.8" fill="#1e1e1e" stroke="#1e1e1e" stroke-width="0.16" text-anchor="middle" textLength="16.6" lengthAdjust="spacingAndGlyphs" >5,000</text>
<line x1="143.15" y1="514.2" x2="143.15" y2="517.4" stroke="#222" stroke-width="0.9" />
<text x="143.15" y="528.2" font-size="6.8" fill="#1e1e1e" stroke="#1e1e1e" stroke-width="0.16" text-anchor="middle" textLength="16.6" lengthAdjust="spacingAndGlyphs" >7,500</text>
<line x1="172.9" y1="514.2" x2="172.9" y2="517.4" stroke="#222" stroke-width="0.9" />
<text x="172.9" y="528.2" font-size="6.8" fill="#1e1e1e" stroke="#1e1e1e" stroke-width="0.16" text-anchor="middle" textLength="20.8" lengthAdjust="spacingAndGlyphs" >10,000</text>
<line x1="202.65" y1="514.2" x2="202.65" y2="517.4" stroke="#222" stroke-width="0.9" />
<text x="202.65" y="528.2" font-size="6.8" fill="#1e1e1e" stroke="#1e1e1e" stroke-width="0.16" text-anchor="middle" textLength="20.8" lengthAdjust="spacingAndGlyphs" >12,500</text>
<line x1="232.4" y1="514.2" x2="232.4" y2="517.4" stroke="#222" stroke-width="0.9" />
<text x="232.4" y="528.2" font-size="6.8" fill="#1e1e1e" stroke="#1e1e1e" stroke-width="0.16" text-anchor="middle" textLength="20.8" lengthAdjust="spacingAndGlyphs" >15,000</text>
<text x="8.4" y="333.6" font-size="13" fill="#111" stroke="#111" stroke-width="0.16" >D</text>
<text x="67.6" y="332" font-size="6.8" fill="#222" stroke="#222" stroke-width="0.16" textLength="164.4" lengthAdjust="spacingAndGlyphs" >Enrichment plot: DIFFERENTIAL EXPRESSION JMJD1C</text>
<text x="118.2" y="340.7" font-size="6.8" fill="#222" stroke="#222" stroke-width="0.16" textLength="65.4" lengthAdjust="spacingAndGlyphs" >KNOCKOUT MLL-AF9</text>
<text x="140.4" y="363.6" font-size="8.6" fill="#222" stroke="#222" stroke-width="0.16" textLength="88.8" lengthAdjust="spacingAndGlyphs" >NES=1.88 p=0.01 q=0.01</text>
<text x="101" y="541.9" font-size="10" fill="#222" stroke="#222" stroke-width="0.16" textLength="98.2" lengthAdjust="spacingAndGlyphs" >Rank in ordered dataset</text>
<text x="57.8" y="465.8" font-size="6" fill="#d0604c" stroke="#d0604c" stroke-width="0.16" textLength="72.6" lengthAdjust="spacingAndGlyphs" >'REST' (positively correlated)</text>
<text x="84.1" y="476.2" font-size="8.4" fill="#d66a52" stroke="#d66a52" stroke-width="0.16" textLength="18" lengthAdjust="spacingAndGlyphs" >REST</text>
<text x="120.8" y="489.8" font-size="6.2" fill="#222" stroke="#222" stroke-width="0.16" textLength="46.6" lengthAdjust="spacingAndGlyphs" >Zero cross at 7503</text>
<text x="154.2" y="502.4" font-size="8.4" fill="#6a5aab" stroke="#6a5aab" stroke-width="0.16" textLength="58" lengthAdjust="spacingAndGlyphs" >MLL-AF9 Renilla</text>
<text x="130.9" y="510" font-size="6.2" fill="#7564b4" stroke="#7564b4" stroke-width="0.16" textLength="104.9" lengthAdjust="spacingAndGlyphs" >'MLL_AF9_renilla' (negatively correlated)</text>
<text x="30.1" y="387.6" font-size="9.6" fill="#222" stroke="#222" stroke-width="0.16" text-anchor="middle" textLength="91.4" lengthAdjust="spacingAndGlyphs" transform="rotate(-90 30.1 387.6)" >Enrichment score (ES)</text>
<text x="34.2" y="487.4" font-size="9.6" fill="#222" stroke="#222" stroke-width="0.16" text-anchor="middle" textLength="136.6" lengthAdjust="spacingAndGlyphs" transform="rotate(-90 34.2 487.4)" >Ranked list metric (signal2Noise)</text>
<line x1="57.7" y1="554.6" x2="64.7" y2="554.6" stroke="#7fc47f" stroke-width="1" />
<text x="68" y="556.7" font-size="6.2" fill="#333" stroke="#333" stroke-width="0.16" textLength="48.5" lengthAdjust="spacingAndGlyphs" >Enrichment profile</text>
<line x1="126" y1="554.6" x2="133.5" y2="554.6" stroke="#222" stroke-width="1.3" />
<text x="137" y="556.7" font-size="6.2" fill="#333" stroke="#333" stroke-width="0.16" textLength="10" lengthAdjust="spacingAndGlyphs" >Hits</text>
<line x1="158.5" y1="553.3" x2="164.7" y2="553.3" stroke="#999" stroke-width="0.8" />
<line x1="168.5" y1="555.6" x2="175" y2="555.6" stroke="#999" stroke-width="0.8" />
<text x="178.8" y="556.7" font-size="6.2" fill="#333" stroke="#333" stroke-width="0.16" textLength="57" lengthAdjust="spacingAndGlyphs" >Ranking metric scores</text>
<line x1="313.8" y1="402.16" x2="507.4" y2="402.16" stroke="#e4e4e4" stroke-width="0.6" stroke-dasharray="1.2 0.8"/>
<line x1="313.8" y1="388.22" x2="507.4" y2="388.22" stroke="#e4e4e4" stroke-width="0.6" stroke-dasharray="1.2 0.8"/>
<line x1="313.8" y1="374.28" x2="507.4" y2="374.28" stroke="#e4e4e4" stroke-width="0.6" stroke-dasharray="1.2 0.8"/>
<line x1="313.8" y1="360.34" x2="507.4" y2="360.34" stroke="#e4e4e4" stroke-width="0.6" stroke-dasharray="1.2 0.8"/>
<line x1="313.8" y1="346.4" x2="507.4" y2="346.4" stroke="#e4e4e4" stroke-width="0.6" stroke-dasharray="1.2 0.8"/>
<line x1="342.95" y1="335.6" x2="342.95" y2="420.8" stroke="#e4e4e4" stroke-width="0.6" stroke-dasharray="1.2 0.8"/>
<line x1="342.95" y1="457.5" x2="342.95" y2="513.2" stroke="#e4e4e4" stroke-width="0.6" stroke-dasharray="1.2 0.8"/>
<line x1="373.1" y1="335.6" x2="373.1" y2="420.8" stroke="#e4e4e4" stroke-width="0.6" stroke-dasharray="1.2 0.8"/>
<line x1="373.1" y1="457.5" x2="373.1" y2="513.2" stroke="#e4e4e4" stroke-width="0.6" stroke-dasharray="1.2 0.8"/>
<line x1="403.25" y1="335.6" x2="403.25" y2="420.8" stroke="#e4e4e4" stroke-width="0.6" stroke-dasharray="1.2 0.8"/>
<line x1="403.25" y1="457.5" x2="403.25" y2="513.2" stroke="#e4e4e4" stroke-width="0.6" stroke-dasharray="1.2 0.8"/>
<line x1="433.4" y1="335.6" x2="433.4" y2="420.8" stroke="#e4e4e4" stroke-width="0.6" stroke-dasharray="1.2 0.8"/>
<line x1="433.4" y1="457.5" x2="433.4" y2="513.2" stroke="#e4e4e4" stroke-width="0.6" stroke-dasharray="1.2 0.8"/>
<line x1="463.55" y1="335.6" x2="463.55" y2="420.8" stroke="#e4e4e4" stroke-width="0.6" stroke-dasharray="1.2 0.8"/>
<line x1="463.55" y1="457.5" x2="463.55" y2="513.2" stroke="#e4e4e4" stroke-width="0.6" stroke-dasharray="1.2 0.8"/>
<line x1="493.7" y1="335.6" x2="493.7" y2="420.8" stroke="#e4e4e4" stroke-width="0.6" stroke-dasharray="1.2 0.8"/>
<line x1="493.7" y1="457.5" x2="493.7" y2="513.2" stroke="#e4e4e4" stroke-width="0.6" stroke-dasharray="1.2 0.8"/>
<line x1="313.8" y1="466.8" x2="507.4" y2="466.8" stroke="#e6e6e6" stroke-width="0.6" stroke-dasharray="1.2 0.8"/>
<line x1="313.8" y1="491.6" x2="507.4" y2="491.6" stroke="#e6e6e6" stroke-width="0.6" stroke-dasharray="1.2 0.8"/>
<line x1="313.8" y1="504" x2="507.4" y2="504" stroke="#e6e6e6" stroke-width="0.6" stroke-dasharray="1.2 0.8"/>
<line x1="312.8" y1="416.1" x2="508.4" y2="416.1" stroke="#cbcbcb" stroke-width="1.1" />
<line x1="312.8" y1="420.8" x2="508.4" y2="420.8" stroke="#d8d8d8" stroke-width="1.2" />
<line x1="312.8" y1="449.6" x2="508.4" y2="449.6" stroke="#d8d8d8" stroke-width="0.8" />
<line x1="312.8" y1="457" x2="508.4" y2="457" stroke="#d8d8d8" stroke-width="1" />
<path d="M313.4 410.8 L314.1 397.28 L315.4 383.76 L316.7 375.81 L318.8 366.33 L320.8 361.04 L322.8 355.6 L324.8 349.47 L327.5 343.47 L330.9 342.78 L334.2 340.82 L337.6 339.71 L341.6 338.73 L345.7 339.71 L351.1 340.13 L355.1 340.55 L359.1 342.08 L364.5 344.31 L369.9 346.54 L375.3 349.61 L377.7 350.58 L383.1 355.32 L388.5 358.95 L395.2 363.96 L401.9 368.7 L408.6 373.58 L415.4 378.32 L422.1 382.37 L428.8 386.13 L435.6 390.73 L440 392.26 L446.7 395.75 L453.5 399.51 L460.2 404.25 L464.2 406.48 L469.6 408.85 L476.3 411.92 L481.7 414.29 L487.1 416.66 L491.1 414.98 L493.8 415.68 L496.5 414.57 L499.2 416.24" fill="none" stroke="#179a3c" stroke-width="1.7" stroke-linejoin="round" stroke-linecap="round"/>
<rect x="313.3" y="422" width="3.2" height="27.6" fill="#151515" />
<path d="M316 422h1V449.6h-1zM364 422h1V449.6h-1zM376 422h1V449.6h-1z" fill="#1c1c1c" stroke="none" stroke-width="1" />
<path d="M319 422h1V449.6h-1zM350 422h1V449.6h-1zM382 422h1V449.6h-1zM383 422h1V449.6h-1zM386 422h1V449.6h-1zM393 422h1V449.6h-1zM413 422h1V449.6h-1zM418 422h1V449.6h-1zM432 422h1V449.6h-1zM461 422h1V449.6h-1zM465 422h1V449.6h-1zM485 422h1V449.6h-1z" fill="#333" stroke="none" stroke-width="1" />
<path d="M320 422h1V449.6h-1zM321 422h1V449.6h-1zM324 422h1V449.6h-1zM325 422h1V449.6h-1zM327 422h1V449.6h-1zM362 422h1V449.6h-1zM381 422h1V449.6h-1zM396 422h1V449.6h-1zM444 422h1V449.6h-1zM481 422h1V449.6h-1zM488 422h1V449.6h-1zM490 422h1V449.6h-1z" fill="#262626" stroke="none" stroke-width="1" />
<path d="M328 422h1V449.6h-1zM347 422h1V449.6h-1zM348 422h1V449.6h-1zM354 422h1V449.6h-1zM358 422h1V449.6h-1zM365 422h1V449.6h-1zM373 422h1V449.6h-1zM398 422h1V449.6h-1zM415 422h1V449.6h-1zM477 422h1V449.6h-1zM483 422h1V449.6h-1zM484 422h1V449.6h-1zM498 422h0.3V449.6h-0.3z" fill="#cdcdcd" stroke="none" stroke-width="1" />
<path d="M329 422h1V449.6h-1zM338 422h1V449.6h-1zM346 422h1V449.6h-1zM366 422h1V449.6h-1zM367 422h1V449.6h-1zM371 422h1V449.6h-1zM372 422h1V449.6h-1zM375 422h1V449.6h-1zM392 422h1V449.6h-1zM399 422h1V449.6h-1zM406 422h1V449.6h-1zM417 422h1V449.6h-1zM428 422h1V449.6h-1zM452 422h1V449.6h-1zM453 422h1V449.6h-1zM456 422h1V449.6h-1zM459 422h1V449.6h-1zM469 422h1V449.6h-1zM474 422h1V449.6h-1zM492 422h1V449.6h-1z" fill="#bcbcbc" stroke="none" stroke-width="1" />
<path d="M330 422h1V449.6h-1zM390 422h1V449.6h-1zM435 422h1V449.6h-1zM437 422h1V449.6h-1zM447 422h1V449.6h-1zM449 422h1V449.6h-1zM455 422h1V449.6h-1zM468 422h1V449.6h-1z" fill="#111" stroke="none" stroke-width="1" />
<path d="M335 422h1V449.6h-1zM341 422h1V449.6h-1zM359 422h1V449.6h-1zM384 422h1V449.6h-1zM403 422h1V449.6h-1zM404 422h1V449.6h-1zM420 422h1V449.6h-1zM446 422h1V449.6h-1zM462 422h1V449.6h-1zM471 422h1V449.6h-1zM472 422h1V449.6h-1zM476 422h1V449.6h-1zM494 422h1V449.6h-1z" fill="#6e6e6e" stroke="none" stroke-width="1" />
<path d="M340 422h1V449.6h-1zM343 422h1V449.6h-1zM349 422h1V449.6h-1zM357 422h1V449.6h-1zM374 422h1V449.6h-1zM379 422h1V449.6h-1zM416 422h1V449.6h-1zM434 422h1V449.6h-1zM448 422h1V449.6h-1zM451 422h1V449.6h-1zM460 422h1V449.6h-1z" fill="#939393" stroke="none" stroke-width="1" />
<path d="M353 422h1V449.6h-1zM356 422h1V449.6h-1zM445 422h1V449.6h-1zM458 422h1V449.6h-1zM470 422h1V449.6h-1zM489 422h1V449.6h-1z" fill="#808080" stroke="none" stroke-width="1" />
<path d="M368 422h1V449.6h-1zM380 422h1V449.6h-1zM394 422h1V449.6h-1zM395 422h1V449.6h-1zM402 422h1V449.6h-1zM407 422h1V449.6h-1zM408 422h1V449.6h-1zM409 422h1V449.6h-1zM410 422h1V449.6h-1zM414 422h1V449.6h-1zM421 422h1V449.6h-1zM423 422h1V449.6h-1zM427 422h1V449.6h-1zM482 422h1V449.6h-1z" fill="#5a5a5a" stroke="none" stroke-width="1" />
<path d="M369 422h1V449.6h-1zM387 422h1V449.6h-1zM388 422h1V449.6h-1zM391 422h1V449.6h-1zM397 422h1V449.6h-1zM412 422h1V449.6h-1zM419 422h1V449.6h-1zM425 422h1V449.6h-1zM426 422h1V449.6h-1zM433 422h1V449.6h-1zM439 422h1V449.6h-1zM443 422h1V449.6h-1zM457 422h1V449.6h-1zM493 422h1V449.6h-1z" fill="#a8a8a8" stroke="none" stroke-width="1" />
<rect x="312.8" y="449.6" width="1.61" height="6.9" fill="#b23532" />
<rect x="314.31" y="449.6" width="1.61" height="6.9" fill="#c64842" />
<rect x="315.81" y="449.6" width="1.61" height="6.9" fill="#d15a54" />
<rect x="317.32" y="449.6" width="1.61" height="6.9" fill="#d45e5a" />
<rect x="318.83" y="449.6" width="1.61" height="6.9" fill="#d7625e" />
<rect x="320.34" y="449.6" width="1.61" height="6.9" fill="#d96664" />
<rect x="321.85" y="449.6" width="1.61" height="6.9" fill="#dc6a68" />
<rect x="323.35" y="449.6" width="1.61" height="6.9" fill="#df6e6e" />
<rect x="324.86" y="449.6" width="1.61" height="6.9" fill="#e47575" />
<rect x="326.37" y="449.6" width="1.61" height="6.9" fill="#e57676" />
<rect x="327.88" y="449.6" width="1.61" height="6.9" fill="#e57777" />
<rect x="329.38" y="449.6" width="1.61" height="6.9" fill="#e67878" />
<rect x="330.89" y="449.6" width="1.61" height="6.9" fill="#e67979" />
<rect x="332.4" y="449.6" width="1.61" height="6.9" fill="#e67a7a" />
<rect x="333.91" y="449.6" width="1.61" height="6.9" fill="#e77b7b" />
<rect x="335.41" y="449.6" width="1.61" height="6.9" fill="#e77c7c" />
<rect x="336.92" y="449.6" width="1.61" height="6.9" fill="#e87e7e" />
<rect x="338.43" y="449.6" width="1.61" height="6.9" fill="#e87f7f" />
<rect x="339.94" y="449.6" width="1.61" height="6.9" fill="#e98080" />
<rect x="341.44" y="449.6" width="1.61" height="6.9" fill="#e98181" />
<rect x="342.95" y="449.6" width="1.61" height="6.9" fill="#e98282" />
<rect x="344.46" y="449.6" width="1.61" height="6.9" fill="#ea8383" />
<rect x="345.97" y="449.6" width="1.61" height="6.9" fill="#ea8484" />
<rect x="347.47" y="449.6" width="1.61" height="6.9" fill="#eb8585" />
<rect x="348.98" y="449.6" width="1.61" height="6.9" fill="#eb8787" />
<rect x="350.49" y="449.6" width="1.61" height="6.9" fill="#ec8888" />
<rect x="352" y="449.6" width="1.61" height="6.9" fill="#ec8989" />
<rect x="353.5" y="449.6" width="1.61" height="6.9" fill="#ed8a8a" />
<rect x="355.01" y="449.6" width="1.61" height="6.9" fill="#ed8b8b" />
<rect x="356.52" y="449.6" width="1.61" height="6.9" fill="#ed8c8c" />
<rect x="358.03" y="449.6" width="1.61" height="6.9" fill="#ee8d8d" />
<rect x="359.53" y="449.6" width="1.61" height="6.9" fill="#ee8e8e" />
<rect x="361.04" y="449.6" width="1.61" height="6.9" fill="#ef9090" />
<rect x="362.55" y="449.6" width="1.61" height="6.9" fill="#ef9191" />
<rect x="364.06" y="449.6" width="1.61" height="6.9" fill="#f09292" />
<rect x="365.56" y="449.6" width="1.61" height="6.9" fill="#f09393" />
<rect x="367.07" y="449.6" width="1.61" height="6.9" fill="#f09494" />
<rect x="368.58" y="449.6" width="1.61" height="6.9" fill="#f19595" />
<rect x="370.09" y="449.6" width="1.61" height="6.9" fill="#f19696" />
<rect x="371.59" y="449.6" width="1.61" height="6.9" fill="#f29797" />
<rect x="373.1" y="449.6" width="2.06" height="6.9" fill="#f3cad9" />
<rect x="375.11" y="449.6" width="2.06" height="6.9" fill="#f3c9d8" />
<rect x="377.12" y="449.6" width="2.06" height="6.9" fill="#f2c8d8" />
<rect x="379.14" y="449.6" width="2.06" height="6.9" fill="#f2c7d7" />
<rect x="381.15" y="449.6" width="2.06" height="6.9" fill="#f2c7d7" />
<rect x="383.16" y="449.6" width="2.06" height="6.9" fill="#f2c6d6" />
<rect x="385.17" y="449.6" width="2.06" height="6.9" fill="#f1c5d6" />
<rect x="387.19" y="449.6" width="2.06" height="6.9" fill="#f1c4d6" />
<rect x="389.2" y="449.6" width="2.06" height="6.9" fill="#f1c4d5" />
<rect x="391.21" y="449.6" width="2.06" height="6.9" fill="#f0c3d5" />
<rect x="393.22" y="449.6" width="2.06" height="6.9" fill="#f0c2d4" />
<rect x="395.24" y="449.6" width="2.06" height="6.9" fill="#f0c2d4" />
<rect x="397.25" y="449.6" width="2.06" height="6.9" fill="#f0c1d3" />
<rect x="399.26" y="449.6" width="2.06" height="6.9" fill="#efc0d3" />
<rect x="401.27" y="449.6" width="2.06" height="6.9" fill="#efbfd2" />
<rect x="403.29" y="449.6" width="2.15" height="6.9" fill="#dfd8ef" />
<rect x="405.39" y="449.6" width="2.15" height="6.9" fill="#ded7ee" />
<rect x="407.49" y="449.6" width="2.15" height="6.9" fill="#ddd6ee" />
<rect x="409.59" y="449.6" width="2.15" height="6.9" fill="#dcd5ed" />
<rect x="411.69" y="449.6" width="2.15" height="6.9" fill="#dbd4ec" />
<rect x="413.8" y="449.6" width="2.15" height="6.9" fill="#dad3ec" />
<rect x="415.9" y="449.6" width="2.15" height="6.9" fill="#d9d2eb" />
<rect x="418" y="449.6" width="2.15" height="6.9" fill="#d8d1eb" />
<rect x="420.1" y="449.6" width="2.15" height="6.9" fill="#d7d0ea" />
<rect x="422.2" y="449.6" width="2.15" height="6.9" fill="#d6ceea" />
<rect x="424.3" y="449.6" width="2.15" height="6.9" fill="#d5cde9" />
<rect x="426.41" y="449.6" width="2.15" height="6.9" fill="#d4cce9" />
<rect x="428.51" y="449.6" width="2.15" height="6.9" fill="#d3cbe8" />
<rect x="430.61" y="449.6" width="2.15" height="6.9" fill="#d2cae8" />
<rect x="432.71" y="449.6" width="2.15" height="6.9" fill="#d1c9e7" />
<rect x="434.81" y="449.6" width="2.15" height="6.9" fill="#d0c8e6" />
<rect x="436.91" y="449.6" width="2.15" height="6.9" fill="#cfc7e6" />
<rect x="439.02" y="449.6" width="2.15" height="6.9" fill="#cec6e5" />
<rect x="441.12" y="449.6" width="2.16" height="6.9" fill="#a89ed1" />
<rect x="443.23" y="449.6" width="2.16" height="6.9" fill="#a59bd0" />
<rect x="445.34" y="449.6" width="2.16" height="6.9" fill="#a398cf" />
<rect x="447.45" y="449.6" width="2.16" height="6.9" fill="#a096ce" />
<rect x="449.56" y="449.6" width="2.16" height="6.9" fill="#9e93cc" />
<rect x="451.67" y="449.6" width="2.16" height="6.9" fill="#9b91cb" />
<rect x="453.78" y="449.6" width="2.16" height="6.9" fill="#998eca" />
<rect x="455.89" y="449.6" width="2.16" height="6.9" fill="#968bc9" />
<rect x="458" y="449.6" width="2.11" height="6.9" fill="#897bc0" />
<rect x="460.06" y="449.6" width="2.11" height="6.9" fill="#887abf" />
<rect x="462.13" y="449.6" width="2.11" height="6.9" fill="#8778be" />
<rect x="464.19" y="449.6" width="2.11" height="6.9" fill="#8577bd" />
<rect x="466.25" y="449.6" width="2.11" height="6.9" fill="#8475bd" />
<rect x="468.31" y="449.6" width="2.11" height="6.9" fill="#8273bc" />
<rect x="470.38" y="449.6" width="2.11" height="6.9" fill="#8172bb" />
<rect x="472.44" y="449.6" width="2.11" height="6.9" fill="#8070ba" />
<rect x="474.5" y="449.6" width="2.11" height="6.9" fill="#7e6fba" />
<rect x="476.56" y="449.6" width="2.11" height="6.9" fill="#7d6db9" />
<rect x="478.62" y="449.6" width="2.11" height="6.9" fill="#7c6cb8" />
<rect x="480.69" y="449.6" width="2.11" height="6.9" fill="#7a6ab7" />
<rect x="482.75" y="449.6" width="2.11" height="6.9" fill="#7968b7" />
<rect x="484.81" y="449.6" width="2.11" height="6.9" fill="#7767b6" />
<rect x="486.87" y="449.6" width="2.11" height="6.9" fill="#7665b5" />
<rect x="488.94" y="449.6" width="2.11" height="6.9" fill="#7564b4" />
<rect x="491" y="449.6" width="2.05" height="6.9" fill="#53308e" />
<rect x="493" y="449.6" width="2.05" height="6.9" fill="#502b8d" />
<rect x="495" y="449.6" width="2.05" height="6.9" fill="#4c278c" />
<rect x="497" y="449.6" width="2.05" height="6.9" fill="#49228b" />
<path d="M313.4 479.2 L312.8 463.7 L313.96 466.95 L315.13 467.73 L316.29 468.5 L317.46 468.97 L318.62 469.36 L319.78 469.75 L320.95 470.13 L322.11 470.52 L323.27 470.77 L324.44 471.02 L325.6 471.27 L326.77 471.53 L327.93 471.78 L329.09 472.03 L330.26 472.31 L331.42 472.59 L332.58 472.88 L333.75 473.16 L334.91 473.44 L336.08 473.65 L337.24 473.84 L338.4 474.04 L339.57 474.23 L340.73 474.43 L341.89 474.62 L343.06 474.81 L344.22 475 L345.39 475.09 L346.55 475.18 L347.71 475.28 L348.88 475.37 L350.04 475.47 L351.21 475.56 L352.37 475.66 L353.53 475.75 L354.7 475.85 L355.86 475.94 L357.02 476.03 L358.19 476.13 L359.35 476.22 L360.52 476.29 L361.68 476.35 L362.84 476.41 L364.01 476.48 L365.17 476.54 L366.33 476.6 L367.5 476.67 L368.66 476.73 L369.83 476.79 L370.99 476.86 L372.15 476.92 L373.32 476.98 L374.48 477.05 L375.64 477.11 L376.81 477.18 L377.97 477.24 L379.14 477.3 L380.3 477.38 L381.46 477.46 L382.63 477.55 L383.79 477.64 L384.95 477.73 L386.12 477.82 L387.28 477.91 L388.45 478 L389.61 478.08 L390.77 478.17 L391.94 478.26 L393.1 478.35 L394.27 478.45 L395.43 478.54 L396.59 478.64 L397.76 478.73 L398.92 478.83 L400.08 478.92 L401.25 479.02 L402.41 479.11 L403.58 479.2 L404.74 479.25 L405.9 479.3 L407.07 479.35 L408.23 479.4 L409.39 479.45 L410.56 479.5 L411.72 479.55 L412.89 479.6 L414.05 479.65 L415.21 479.7 L416.38 479.74 L417.54 479.79 L418.7 479.84 L419.87 479.88 L421.03 479.93 L422.2 479.97 L423.36 480.02 L424.52 480.07 L425.69 480.11 L426.85 480.15 L428.02 480.18 L429.18 480.22 L430.34 480.26 L431.51 480.3 L432.67 480.34 L433.83 480.38 L435 480.42 L436.16 480.46 L437.33 480.49 L438.49 480.53 L439.65 480.57 L440.82 480.61 L441.98 480.65 L443.14 480.69 L444.31 480.73 L445.47 480.77 L446.64 480.8 L447.8 480.84 L448.96 480.88 L450.13 480.92 L451.29 480.96 L452.45 481 L453.62 481.04 L454.78 481.08 L455.95 481.11 L457.11 481.15 L458.27 481.19 L459.44 481.23 L460.6 481.27 L461.77 481.31 L462.93 481.37 L464.09 481.42 L465.26 481.48 L466.42 481.54 L467.58 481.6 L468.75 481.66 L469.91 481.71 L471.08 481.77 L472.24 481.83 L473.4 481.89 L474.57 481.95 L475.73 482.01 L476.89 482.07 L478.06 482.18 L479.22 482.29 L480.39 482.4 L481.55 482.51 L482.71 482.62 L483.88 482.72 L485.04 482.83 L486.2 482.97 L487.37 483.23 L488.53 483.49 L489.7 483.75 L490.86 484 L492.02 484.39 L493.19 484.97 L494.35 485.56 L495.52 486.41 L496.68 488.35 L497.84 493 L499.01 507.72 L499.01 479.2 Z" fill="#c3c0be" stroke="none" stroke-width="1" />
<line x1="403.29" y1="449.6" x2="403.29" y2="513.2" stroke="#b8b8c8" stroke-width="0.7" stroke-dasharray="1.4 1"/>
<rect x="312.8" y="334.6" width="195.6" height="179.6" fill="none" stroke="#111" stroke-width="1.25"/>
<line x1="309.4" y1="416.1" x2="312.8" y2="416.1" stroke="#222" stroke-width="0.9" />
<text x="305.4" y="418.5" font-size="6.8" fill="#1e1e1e" stroke="#1e1e1e" stroke-width="0.16" text-anchor="end" textLength="8.7" lengthAdjust="spacingAndGlyphs" >0.0</text>
<line x1="309.4" y1="402.16" x2="312.8" y2="402.16" stroke="#222" stroke-width="0.9" />
<text x="305.4" y="404.56" font-size="6.8" fill="#1e1e1e" stroke="#1e1e1e" stroke-width="0.16" text-anchor="end" textLength="8.7" lengthAdjust="spacingAndGlyphs" >0.1</text>
<line x1="309.4" y1="388.22" x2="312.8" y2="388.22" stroke="#222" stroke-width="0.9" />
<text x="305.4" y="390.62" font-size="6.8" fill="#1e1e1e" stroke="#1e1e1e" stroke-width="0.16" text-anchor="end" textLength="8.7" lengthAdjust="spacingAndGlyphs" >0.2</text>
<line x1="309.4" y1="374.28" x2="312.8" y2="374.28" stroke="#222" stroke-width="0.9" />
<text x="305.4" y="376.68" font-size="6.8" fill="#1e1e1e" stroke="#1e1e1e" stroke-width="0.16" text-anchor="end" textLength="8.7" lengthAdjust="spacingAndGlyphs" >0.3</text>
<line x1="309.4" y1="360.34" x2="312.8" y2="360.34" stroke="#222" stroke-width="0.9" />
<text x="305.4" y="362.74" font-size="6.8" fill="#1e1e1e" stroke="#1e1e1e" stroke-width="0.16" text-anchor="end" textLength="8.7" lengthAdjust="spacingAndGlyphs" >0.4</text>
<line x1="309.4" y1="346.4" x2="312.8" y2="346.4" stroke="#222" stroke-width="0.9" />
<text x="305.4" y="348.8" font-size="6.8" fill="#1e1e1e" stroke="#1e1e1e" stroke-width="0.16" text-anchor="end" textLength="8.7" lengthAdjust="spacingAndGlyphs" >0.5</text>
<line x1="309.4" y1="466.8" x2="312.8" y2="466.8" stroke="#222" stroke-width="0.9" />
<text x="305.4" y="469.2" font-size="6.8" fill="#1e1e1e" stroke="#1e1e1e" stroke-width="0.16" text-anchor="end" textLength="3.2" lengthAdjust="spacingAndGlyphs" >1</text>
<line x1="309.4" y1="479.2" x2="312.8" y2="479.2" stroke="#222" stroke-width="0.9" />
<text x="305.4" y="481.6" font-size="6.8" fill="#1e1e1e" stroke="#1e1e1e" stroke-width="0.16" text-anchor="end" textLength="3.2" lengthAdjust="spacingAndGlyphs" >0</text>
<line x1="309.4" y1="491.6" x2="312.8" y2="491.6" stroke="#222" stroke-width="0.9" />
<text x="305.4" y="494" font-size="6.8" fill="#1e1e1e" stroke="#1e1e1e" stroke-width="0.16" text-anchor="end" textLength="5.6" lengthAdjust="spacingAndGlyphs" >-1</text>
<line x1="309.4" y1="504" x2="312.8" y2="504" stroke="#222" stroke-width="0.9" />
<text x="305.4" y="506.4" font-size="6.8" fill="#1e1e1e" stroke="#1e1e1e" stroke-width="0.16" text-anchor="end" textLength="5.6" lengthAdjust="spacingAndGlyphs" >-2</text>
<line x1="312.8" y1="514.2" x2="312.8" y2="517.4" stroke="#222" stroke-width="0.9" />
<text x="312.8" y="528.2" font-size="6.8" fill="#1e1e1e" stroke="#1e1e1e" stroke-width="0.16" text-anchor="middle" textLength="3.4" lengthAdjust="spacingAndGlyphs" >0</text>
<line x1="342.95" y1="514.2" x2="342.95" y2="517.4" stroke="#222" stroke-width="0.9" />
<text x="342.95" y="528.2" font-size="6.8" fill="#1e1e1e" stroke="#1e1e1e" stroke-width="0.16" text-anchor="middle" textLength="16.6" lengthAdjust="spacingAndGlyphs" >2,500</text>
<line x1="373.1" y1="514.2" x2="373.1" y2="517.4" stroke="#222" stroke-width="0.9" />
<text x="373.1" y="528.2" font-size="6.8" fill="#1e1e1e" stroke="#1e1e1e" stroke-width="0.16" text-anchor="middle" textLength="16.6" lengthAdjust="spacingAndGlyphs" >5,000</text>
<line x1="403.25" y1="514.2" x2="403.25" y2="517.4" stroke="#222" stroke-width="0.9" />
<text x="403.25" y="528.2" font-size="6.8" fill="#1e1e1e" stroke="#1e1e1e" stroke-width="0.16" text-anchor="middle" textLength="16.6" lengthAdjust="spacingAndGlyphs" >7,500</text>
<line x1="433.4" y1="514.2" x2="433.4" y2="517.4" stroke="#222" stroke-width="0.9" />
<text x="433.4" y="528.2" font-size="6.8" fill="#1e1e1e" stroke="#1e1e1e" stroke-width="0.16" text-anchor="middle" textLength="20.8" lengthAdjust="spacingAndGlyphs" >10,000</text>
<line x1="463.55" y1="514.2" x2="463.55" y2="517.4" stroke="#222" stroke-width="0.9" />
<text x="463.55" y="528.2" font-size="6.8" fill="#1e1e1e" stroke="#1e1e1e" stroke-width="0.16" text-anchor="middle" textLength="20.8" lengthAdjust="spacingAndGlyphs" >12,500</text>
<line x1="493.7" y1="514.2" x2="493.7" y2="517.4" stroke="#222" stroke-width="0.9" />
<text x="493.7" y="528.2" font-size="6.8" fill="#1e1e1e" stroke="#1e1e1e" stroke-width="0.16" text-anchor="middle" textLength="20.8" lengthAdjust="spacingAndGlyphs" >15,000</text>
<text x="270.6" y="334.3" font-size="12.6" fill="#111" stroke="#111" stroke-width="0.16" >E</text>
<text x="325.6" y="328.8" font-size="6.8" fill="#222" stroke="#222" stroke-width="0.16" textLength="170" lengthAdjust="spacingAndGlyphs" >Enrichment plot: PALMER_GRANULOCYTE_SIGNATURE</text>
<text x="395.8" y="354.8" font-size="8.6" fill="#222" stroke="#222" stroke-width="0.16" textLength="88.8" lengthAdjust="spacingAndGlyphs" >NES=1.78 p=0.01 q=0.01</text>
<text x="360.8" y="541.9" font-size="10" fill="#222" stroke="#222" stroke-width="0.16" textLength="98.8" lengthAdjust="spacingAndGlyphs" >Rank in ordered dataset</text>
<text x="317.5" y="462.7" font-size="6" fill="#d0604c" stroke="#d0604c" stroke-width="0.16" textLength="72" lengthAdjust="spacingAndGlyphs" >'REST' (positively correlated)</text>
<text x="343.3" y="473.2" font-size="8.4" fill="#d66a52" stroke="#d66a52" stroke-width="0.16" textLength="17.7" lengthAdjust="spacingAndGlyphs" >REST</text>
<text x="380.8" y="488" font-size="6.2" fill="#222" stroke="#222" stroke-width="0.16" textLength="46.9" lengthAdjust="spacingAndGlyphs" >Zero cross at 7503</text>
<text x="414.3" y="502.6" font-size="8.4" fill="#6a5aab" stroke="#6a5aab" stroke-width="0.16" textLength="57.8" lengthAdjust="spacingAndGlyphs" >MLL-AF9 Renilla</text>
<text x="391.8" y="509.7" font-size="6.2" fill="#7564b4" stroke="#7564b4" stroke-width="0.16" textLength="103.8" lengthAdjust="spacingAndGlyphs" >'MLL_AF9_renilla' (negatively correlated)</text>
<text x="288.9" y="381.1" font-size="9.6" fill="#222" stroke="#222" stroke-width="0.16" text-anchor="middle" textLength="92.3" lengthAdjust="spacingAndGlyphs" transform="rotate(-90 288.9 381.1)" >Enrichment score (ES)</text>
<text x="293.6" y="485.8" font-size="9.6" fill="#222" stroke="#222" stroke-width="0.16" text-anchor="middle" textLength="137.3" lengthAdjust="spacingAndGlyphs" transform="rotate(-90 293.6 485.8)" >Ranked list metric (signal2Noise)</text>
<line x1="320.3" y1="554.6" x2="327.3" y2="554.6" stroke="#7fc47f" stroke-width="1" />
<text x="330.6" y="556.7" font-size="6.2" fill="#333" stroke="#333" stroke-width="0.16" textLength="48.5" lengthAdjust="spacingAndGlyphs" >Enrichment profile</text>
<line x1="388.6" y1="554.6" x2="396.1" y2="554.6" stroke="#222" stroke-width="1.3" />
<text x="399.6" y="556.7" font-size="6.2" fill="#333" stroke="#333" stroke-width="0.16" textLength="10" lengthAdjust="spacingAndGlyphs" >Hits</text>
<line x1="421.1" y1="553.3" x2="427.3" y2="553.3" stroke="#999" stroke-width="0.8" />
<line x1="431.1" y1="555.6" x2="437.6" y2="555.6" stroke="#999" stroke-width="0.8" />
<text x="441.4" y="556.7" font-size="6.2" fill="#333" stroke="#333" stroke-width="0.16" textLength="57" lengthAdjust="spacingAndGlyphs" >Ranking metric scores</text>
<line x1="54.7" y1="656.92" x2="244.1" y2="656.92" stroke="#e4e4e4" stroke-width="0.6" stroke-dasharray="1.2 0.8"/>
<line x1="54.7" y1="647.64" x2="244.1" y2="647.64" stroke="#e4e4e4" stroke-width="0.6" stroke-dasharray="1.2 0.8"/>
<line x1="54.7" y1="638.36" x2="244.1" y2="638.36" stroke="#e4e4e4" stroke-width="0.6" stroke-dasharray="1.2 0.8"/>
<line x1="54.7" y1="629.08" x2="244.1" y2="629.08" stroke="#e4e4e4" stroke-width="0.6" stroke-dasharray="1.2 0.8"/>
<line x1="54.7" y1="619.8" x2="244.1" y2="619.8" stroke="#e4e4e4" stroke-width="0.6" stroke-dasharray="1.2 0.8"/>
<line x1="54.7" y1="610.52" x2="244.1" y2="610.52" stroke="#e4e4e4" stroke-width="0.6" stroke-dasharray="1.2 0.8"/>
<line x1="54.7" y1="601.24" x2="244.1" y2="601.24" stroke="#e4e4e4" stroke-width="0.6" stroke-dasharray="1.2 0.8"/>
<line x1="54.7" y1="591.96" x2="244.1" y2="591.96" stroke="#e4e4e4" stroke-width="0.6" stroke-dasharray="1.2 0.8"/>
<line x1="80.45" y1="592.8" x2="80.45" y2="670.6" stroke="#e4e4e4" stroke-width="0.6" stroke-dasharray="1.2 0.8"/>
<line x1="80.45" y1="706" x2="80.45" y2="757.1" stroke="#e4e4e4" stroke-width="0.6" stroke-dasharray="1.2 0.8"/>
<line x1="107.4" y1="592.8" x2="107.4" y2="670.6" stroke="#e4e4e4" stroke-width="0.6" stroke-dasharray="1.2 0.8"/>
<line x1="107.4" y1="706" x2="107.4" y2="757.1" stroke="#e4e4e4" stroke-width="0.6" stroke-dasharray="1.2 0.8"/>
<line x1="134.35" y1="592.8" x2="134.35" y2="670.6" stroke="#e4e4e4" stroke-width="0.6" stroke-dasharray="1.2 0.8"/>
<line x1="134.35" y1="706" x2="134.35" y2="757.1" stroke="#e4e4e4" stroke-width="0.6" stroke-dasharray="1.2 0.8"/>
<line x1="161.3" y1="592.8" x2="161.3" y2="670.6" stroke="#e4e4e4" stroke-width="0.6" stroke-dasharray="1.2 0.8"/>
<line x1="161.3" y1="706" x2="161.3" y2="757.1" stroke="#e4e4e4" stroke-width="0.6" stroke-dasharray="1.2 0.8"/>
<line x1="188.25" y1="592.8" x2="188.25" y2="670.6" stroke="#e4e4e4" stroke-width="0.6" stroke-dasharray="1.2 0.8"/>
<line x1="188.25" y1="706" x2="188.25" y2="757.1" stroke="#e4e4e4" stroke-width="0.6" stroke-dasharray="1.2 0.8"/>
<line x1="215.2" y1="592.8" x2="215.2" y2="670.6" stroke="#e4e4e4" stroke-width="0.6" stroke-dasharray="1.2 0.8"/>
<line x1="215.2" y1="706" x2="215.2" y2="757.1" stroke="#e4e4e4" stroke-width="0.6" stroke-dasharray="1.2 0.8"/>
<line x1="242.15" y1="592.8" x2="242.15" y2="670.6" stroke="#e4e4e4" stroke-width="0.6" stroke-dasharray="1.2 0.8"/>
<line x1="242.15" y1="706" x2="242.15" y2="757.1" stroke="#e4e4e4" stroke-width="0.6" stroke-dasharray="1.2 0.8"/>
<line x1="54.7" y1="705.5" x2="244.1" y2="705.5" stroke="#e6e6e6" stroke-width="0.6" stroke-dasharray="1.2 0.8"/>
<line x1="54.7" y1="716.1" x2="244.1" y2="716.1" stroke="#e6e6e6" stroke-width="0.6" stroke-dasharray="1.2 0.8"/>
<line x1="54.7" y1="726.7" x2="244.1" y2="726.7" stroke="#e6e6e6" stroke-width="0.6" stroke-dasharray="1.2 0.8"/>
<line x1="54.7" y1="747.9" x2="244.1" y2="747.9" stroke="#e6e6e6" stroke-width="0.6" stroke-dasharray="1.2 0.8"/>
<line x1="53.7" y1="666.2" x2="245.1" y2="666.2" stroke="#cbcbcb" stroke-width="1.1" />
<line x1="53.7" y1="670.6" x2="245.1" y2="670.6" stroke="#d8d8d8" stroke-width="1.2" />
<line x1="53.7" y1="698" x2="245.1" y2="698" stroke="#d8d8d8" stroke-width="0.8" />
<line x1="53.7" y1="705.5" x2="245.1" y2="705.5" stroke="#d8d8d8" stroke-width="1" />
<path d="M53.8 665.83 L54 645.6 L54.4 632.14 L55.1 621.28 L56.1 611.91 L57.4 604.49 L59.4 599.11 L62.1 596.41 L65.5 595.12 L69.5 594.74 L73.6 596.04 L78.3 596.79 L83.6 599.11 L90.4 602.17 L97.1 604.95 L103.8 607.92 L110.6 611.17 L115 613.12 L121.7 616.18 L128.5 619.8 L135.2 623.42 L141.9 626.48 L148.6 629.64 L155.4 633.72 L162.1 637.34 L168.8 640.68 L175.6 643.65 L180 644.67 L186.7 647.36 L192.1 649.4 L197.5 652.74 L204.2 656.08 L211 658.4 L217.7 661.1 L224.4 662.86 L229.8 665.18 L233.8 667.31 L236.5 666.48" fill="none" stroke="#179a3c" stroke-width="1.7" stroke-linejoin="round" stroke-linecap="round"/>
<rect x="54.3" y="672.6" width="6.9" height="25.4" fill="#151515" />
<path d="M61 672.6h1V698h-1zM124 672.6h1V698h-1zM130 672.6h1V698h-1zM135 672.6h1V698h-1zM136 672.6h1V698h-1zM145 672.6h1V698h-1zM153 672.6h1V698h-1zM159 672.6h1V698h-1zM164 672.6h1V698h-1zM175 672.6h1V698h-1zM190 672.6h1V698h-1zM207 672.6h1V698h-1zM214 672.6h1V698h-1zM225 672.6h1V698h-1zM226 672.6h1V698h-1zM227 672.6h1V698h-1z" fill="#6e6e6e" stroke="none" stroke-width="1" />
<path d="M62 672.6h1V698h-1zM63 672.6h1V698h-1zM64 672.6h1V698h-1zM68 672.6h1V698h-1zM84 672.6h1V698h-1zM127 672.6h1V698h-1zM139 672.6h1V698h-1zM142 672.6h1V698h-1zM180 672.6h1V698h-1zM185 672.6h1V698h-1zM189 672.6h1V698h-1zM194 672.6h1V698h-1zM216 672.6h1V698h-1zM218 672.6h1V698h-1z" fill="#262626" stroke="none" stroke-width="1" />
<path d="M65 672.6h1V698h-1zM74 672.6h1V698h-1zM83 672.6h1V698h-1zM98 672.6h1V698h-1zM116 672.6h1V698h-1zM117 672.6h1V698h-1zM146 672.6h1V698h-1zM147 672.6h1V698h-1zM152 672.6h1V698h-1zM154 672.6h1V698h-1zM155 672.6h1V698h-1zM156 672.6h1V698h-1zM157 672.6h1V698h-1zM169 672.6h1V698h-1zM178 672.6h1V698h-1zM181 672.6h1V698h-1zM188 672.6h1V698h-1zM208 672.6h1V698h-1zM209 672.6h1V698h-1zM210 672.6h1V698h-1zM221 672.6h1V698h-1zM228 672.6h1V698h-1zM235 672.6h1V698h-1z" fill="#111" stroke="none" stroke-width="1" />
<path d="M66 672.6h1V698h-1zM111 672.6h1V698h-1zM137 672.6h1V698h-1zM138 672.6h1V698h-1zM217 672.6h1V698h-1z" fill="#cdcdcd" stroke="none" stroke-width="1" />
<path d="M67 672.6h1V698h-1zM77 672.6h1V698h-1zM78 672.6h1V698h-1zM79 672.6h1V698h-1zM80 672.6h1V698h-1zM99 672.6h1V698h-1zM102 672.6h1V698h-1zM150 672.6h1V698h-1zM161 672.6h1V698h-1zM162 672.6h1V698h-1zM167 672.6h1V698h-1zM168 672.6h1V698h-1zM170 672.6h1V698h-1zM171 672.6h1V698h-1zM172 672.6h1V698h-1zM173 672.6h1V698h-1zM174 672.6h1V698h-1zM198 672.6h1V698h-1zM199 672.6h1V698h-1zM211 672.6h1V698h-1zM213 672.6h1V698h-1z" fill="#1c1c1c" stroke="none" stroke-width="1" />
<path d="M70 672.6h1V698h-1zM101 672.6h1V698h-1zM118 672.6h1V698h-1zM128 672.6h1V698h-1zM129 672.6h1V698h-1zM132 672.6h1V698h-1zM140 672.6h1V698h-1zM141 672.6h1V698h-1zM176 672.6h1V698h-1zM192 672.6h1V698h-1zM224 672.6h1V698h-1zM234 672.6h1V698h-1z" fill="#808080" stroke="none" stroke-width="1" />
<path d="M72 672.6h1V698h-1zM106 672.6h1V698h-1zM107 672.6h1V698h-1zM123 672.6h1V698h-1zM125 672.6h1V698h-1zM165 672.6h1V698h-1zM219 672.6h1V698h-1zM220 672.6h1V698h-1zM222 672.6h1V698h-1zM223 672.6h1V698h-1zM232 672.6h1V698h-1zM233 672.6h1V698h-1z" fill="#a8a8a8" stroke="none" stroke-width="1" />
<path d="M73 672.6h1V698h-1zM85 672.6h1V698h-1zM86 672.6h1V698h-1zM115 672.6h1V698h-1zM122 672.6h1V698h-1zM144 672.6h1V698h-1zM148 672.6h1V698h-1zM177 672.6h1V698h-1zM182 672.6h1V698h-1zM187 672.6h1V698h-1zM193 672.6h1V698h-1z" fill="#bcbcbc" stroke="none" stroke-width="1" />
<path d="M75 672.6h1V698h-1zM76 672.6h1V698h-1zM94 672.6h1V698h-1zM95 672.6h1V698h-1zM96 672.6h1V698h-1zM109 672.6h1V698h-1zM110 672.6h1V698h-1zM120 672.6h1V698h-1zM183 672.6h1V698h-1zM191 672.6h1V698h-1zM196 672.6h1V698h-1zM202 672.6h1V698h-1zM203 672.6h1V698h-1zM215 672.6h1V698h-1zM230 672.6h1V698h-1zM231 672.6h1V698h-1zM236 672.6h0.5V698h-0.5z" fill="#939393" stroke="none" stroke-width="1" />
<path d="M81 672.6h1V698h-1zM103 672.6h1V698h-1zM108 672.6h1V698h-1zM160 672.6h1V698h-1zM179 672.6h1V698h-1zM184 672.6h1V698h-1zM206 672.6h1V698h-1z" fill="#333" stroke="none" stroke-width="1" />
<path d="M166 672.6h1V698h-1zM195 672.6h1V698h-1zM205 672.6h1V698h-1z" fill="#5a5a5a" stroke="none" stroke-width="1" />
<rect x="53.7" y="698" width="2.12" height="7" fill="#b23532" />
<rect x="55.72" y="698" width="2.12" height="7" fill="#c64842" />
<rect x="57.73" y="698" width="2.12" height="7" fill="#d15a54" />
<rect x="59.75" y="698" width="2.12" height="7" fill="#d45e5a" />
<rect x="61.77" y="698" width="2.12" height="7" fill="#d7625e" />
<rect x="63.78" y="698" width="2.12" height="7" fill="#d96664" />
<rect x="65.8" y="698" width="2.12" height="7" fill="#dc6a68" />
<rect x="67.81" y="698" width="2.12" height="7" fill="#df6e6e" />
<rect x="69.83" y="698" width="2.12" height="7" fill="#e47575" />
<rect x="71.85" y="698" width="2.12" height="7" fill="#e57676" />
<rect x="73.86" y="698" width="2.12" height="7" fill="#e57777" />
<rect x="75.88" y="698" width="2.12" height="7" fill="#e67878" />
<rect x="77.9" y="698" width="2.12" height="7" fill="#e67979" />
<rect x="79.91" y="698" width="2.12" height="7" fill="#e67a7a" />
<rect x="81.93" y="698" width="2.12" height="7" fill="#e77b7b" />
<rect x="83.94" y="698" width="2.12" height="7" fill="#e77c7c" />
<rect x="85.96" y="698" width="2.12" height="7" fill="#e87e7e" />
<rect x="87.98" y="698" width="2.12" height="7" fill="#e87f7f" />
<rect x="89.99" y="698" width="2.12" height="7" fill="#e98080" />
<rect x="92.01" y="698" width="2.12" height="7" fill="#e98181" />
<rect x="94.03" y="698" width="2.12" height="7" fill="#e98282" />
<rect x="96.04" y="698" width="2.12" height="7" fill="#ea8383" />
<rect x="98.06" y="698" width="2.12" height="7" fill="#ea8484" />
<rect x="100.07" y="698" width="2.12" height="7" fill="#eb8585" />
<rect x="102.09" y="698" width="2.12" height="7" fill="#eb8787" />
<rect x="104.11" y="698" width="2.12" height="7" fill="#ec8888" />
<rect x="106.12" y="698" width="2.12" height="7" fill="#ec8989" />
<rect x="108.14" y="698" width="2.12" height="7" fill="#ed8a8a" />
<rect x="110.16" y="698" width="2.12" height="7" fill="#ed8b8b" />
<rect x="112.17" y="698" width="2.12" height="7" fill="#ed8c8c" />
<rect x="114.19" y="698" width="2.12" height="7" fill="#ee8d8d" />
<rect x="116.2" y="698" width="2.12" height="7" fill="#ee8e8e" />
<rect x="118.22" y="698" width="2.12" height="7" fill="#ef9090" />
<rect x="120.24" y="698" width="2.12" height="7" fill="#ef9191" />
<rect x="122.25" y="698" width="2.12" height="7" fill="#f09292" />
<rect x="124.27" y="698" width="2.12" height="7" fill="#f09393" />
<rect x="126.28" y="698" width="2.12" height="7" fill="#f09494" />
<rect x="128.3" y="698" width="2.12" height="7" fill="#f19595" />
<rect x="130.32" y="698" width="2.12" height="7" fill="#f19696" />
<rect x="132.33" y="698" width="2.12" height="7" fill="#f29797" />
<rect x="134.35" y="698" width="2.11" height="7" fill="#f3cad9" />
<rect x="136.41" y="698" width="2.11" height="7" fill="#f2c8d8" />
<rect x="138.47" y="698" width="2.11" height="7" fill="#f2c8d7" />
<rect x="140.53" y="698" width="2.11" height="7" fill="#f2c6d7" />
<rect x="142.59" y="698" width="2.11" height="7" fill="#f1c6d6" />
<rect x="144.64" y="698" width="2.11" height="7" fill="#f1c4d6" />
<rect x="146.7" y="698" width="2.11" height="7" fill="#f1c4d5" />
<rect x="148.76" y="698" width="2.11" height="7" fill="#f0c2d4" />
<rect x="150.82" y="698" width="2.11" height="7" fill="#f0c2d4" />
<rect x="152.88" y="698" width="2.11" height="7" fill="#f0c0d3" />
<rect x="154.94" y="698" width="2.11" height="7" fill="#efc0d2" />
<rect x="157" y="698" width="2.15" height="7" fill="#dfd8ef" />
<rect x="159.09" y="698" width="2.15" height="7" fill="#ded7ee" />
<rect x="161.19" y="698" width="2.15" height="7" fill="#ddd5ed" />
<rect x="163.29" y="698" width="2.15" height="7" fill="#dbd4ec" />
<rect x="165.38" y="698" width="2.15" height="7" fill="#dad3ec" />
<rect x="167.48" y="698" width="2.15" height="7" fill="#d9d1eb" />
<rect x="169.57" y="698" width="2.15" height="7" fill="#d7d0ea" />
<rect x="171.67" y="698" width="2.15" height="7" fill="#d6ceea" />
<rect x="173.77" y="698" width="2.15" height="7" fill="#d4cde9" />
<rect x="175.86" y="698" width="2.15" height="7" fill="#d3cbe8" />
<rect x="177.96" y="698" width="2.15" height="7" fill="#d2cae8" />
<rect x="180.05" y="698" width="2.15" height="7" fill="#d0c9e7" />
<rect x="182.15" y="698" width="2.15" height="7" fill="#cfc7e6" />
<rect x="184.25" y="698" width="2.15" height="7" fill="#cec6e5" />
<rect x="186.34" y="698" width="2.09" height="7" fill="#a89ed1" />
<rect x="188.38" y="698" width="2.09" height="7" fill="#a59bd0" />
<rect x="190.41" y="698" width="2.09" height="7" fill="#a398cf" />
<rect x="192.45" y="698" width="2.09" height="7" fill="#a096ce" />
<rect x="194.49" y="698" width="2.09" height="7" fill="#9e93cc" />
<rect x="196.52" y="698" width="2.09" height="7" fill="#9b91cb" />
<rect x="198.56" y="698" width="2.09" height="7" fill="#998eca" />
<rect x="200.59" y="698" width="2.09" height="7" fill="#968bc9" />
<rect x="202.63" y="698" width="2.15" height="7" fill="#897bc0" />
<rect x="204.73" y="698" width="2.15" height="7" fill="#8779bf" />
<rect x="206.84" y="698" width="2.15" height="7" fill="#8677be" />
<rect x="208.94" y="698" width="2.15" height="7" fill="#8475bd" />
<rect x="211.05" y="698" width="2.15" height="7" fill="#8273bc" />
<rect x="213.15" y="698" width="2.15" height="7" fill="#8171bb" />
<rect x="215.25" y="698" width="2.15" height="7" fill="#7f70ba" />
<rect x="217.36" y="698" width="2.15" height="7" fill="#7d6eb9" />
<rect x="219.46" y="698" width="2.15" height="7" fill="#7c6cb8" />
<rect x="221.56" y="698" width="2.15" height="7" fill="#7a6ab7" />
<rect x="223.67" y="698" width="2.15" height="7" fill="#7868b6" />
<rect x="225.77" y="698" width="2.15" height="7" fill="#7766b5" />
<rect x="227.88" y="698" width="2.15" height="7" fill="#7564b4" />
<rect x="229.98" y="698" width="2.67" height="7" fill="#532f8e" />
<rect x="232.6" y="698" width="2.67" height="7" fill="#4e298c" />
<rect x="235.22" y="698" width="2.67" height="7" fill="#49238b" />
<path d="M54.3 737.3 L53.5 721.4 L54.65 726.3 L55.8 728.62 L56.96 729.45 L58.11 730.28 L59.26 730.99 L60.41 731.24 L61.56 731.49 L62.72 731.73 L63.87 731.98 L65.02 732.23 L66.17 732.48 L67.33 732.59 L68.48 732.66 L69.63 732.74 L70.78 732.81 L71.93 732.89 L73.09 732.96 L74.24 733.04 L75.39 733.11 L76.54 733.19 L77.69 733.26 L78.85 733.33 L80 733.41 L81.15 733.48 L82.3 733.52 L83.45 733.56 L84.61 733.6 L85.76 733.64 L86.91 733.68 L88.06 733.72 L89.22 733.76 L90.37 733.8 L91.52 733.84 L92.67 733.88 L93.82 733.92 L94.98 733.96 L96.13 734 L97.28 734.04 L98.43 734.08 L99.58 734.12 L100.74 734.18 L101.89 734.23 L103.04 734.29 L104.19 734.35 L105.35 734.41 L106.5 734.46 L107.65 734.52 L108.8 734.58 L109.95 734.64 L111.11 734.69 L112.26 734.75 L113.41 734.81 L114.56 734.87 L115.71 734.92 L116.87 734.98 L118.02 735.04 L119.17 735.1 L120.32 735.15 L121.47 735.21 L122.63 735.27 L123.78 735.33 L124.93 735.38 L126.08 735.44 L127.24 735.5 L128.39 735.56 L129.54 735.62 L130.69 735.68 L131.84 735.74 L133 735.8 L134.15 735.86 L135.3 735.92 L136.45 735.97 L137.6 736.03 L138.76 736.09 L139.91 736.15 L141.06 736.21 L142.21 736.27 L143.36 736.33 L144.52 736.39 L145.67 736.45 L146.82 736.54 L147.97 736.63 L149.13 736.71 L150.28 736.8 L151.43 736.89 L152.58 736.97 L153.73 737.06 L154.89 737.15 L156.04 737.23 L157.19 737.31 L158.34 737.37 L159.49 737.43 L160.65 737.49 L161.8 737.55 L162.95 737.61 L164.1 737.67 L165.25 737.73 L166.41 737.79 L167.56 737.85 L168.71 737.91 L169.86 737.97 L171.02 738.03 L172.17 738.09 L173.32 738.15 L174.47 738.18 L175.62 738.21 L176.78 738.25 L177.93 738.28 L179.08 738.31 L180.23 738.35 L181.38 738.38 L182.54 738.41 L183.69 738.45 L184.84 738.48 L185.99 738.51 L187.15 738.55 L188.3 738.58 L189.45 738.61 L190.6 738.64 L191.75 738.68 L192.91 738.72 L194.06 738.77 L195.21 738.82 L196.36 738.86 L197.51 738.91 L198.67 738.96 L199.82 739 L200.97 739.05 L202.12 739.1 L203.27 739.14 L204.43 739.19 L205.58 739.23 L206.73 739.28 L207.88 739.33 L209.04 739.37 L210.19 739.42 L211.34 739.5 L212.49 739.57 L213.64 739.65 L214.8 739.72 L215.95 739.8 L217.1 739.87 L218.25 739.95 L219.4 740.03 L220.56 740.1 L221.71 740.18 L222.86 740.25 L224.01 740.43 L225.16 740.63 L226.32 740.82 L227.47 741.02 L228.62 741.22 L229.77 741.42 L230.93 741.86 L232.08 742.65 L233.23 743.45 L234.38 744.24 L235.53 746.04 L236.69 749.36 L237.84 756.38 L237.84 737.3 Z" fill="#c3c0be" stroke="none" stroke-width="1" />
<line x1="157" y1="698" x2="157" y2="757.1" stroke="#b8b8c8" stroke-width="0.7" stroke-dasharray="1.4 1"/>
<rect x="53.7" y="591.8" width="191.4" height="166.3" fill="none" stroke="#111" stroke-width="1.25"/>
<line x1="50.3" y1="666.2" x2="53.7" y2="666.2" stroke="#222" stroke-width="0.9" />
<text x="46.6" y="668.6" font-size="6.8" fill="#1e1e1e" stroke="#1e1e1e" stroke-width="0.16" text-anchor="end" textLength="8.7" lengthAdjust="spacingAndGlyphs" >0.0</text>
<line x1="50.3" y1="656.92" x2="53.7" y2="656.92" stroke="#222" stroke-width="0.9" />
<text x="46.6" y="659.32" font-size="6.8" fill="#1e1e1e" stroke="#1e1e1e" stroke-width="0.16" text-anchor="end" textLength="8.7" lengthAdjust="spacingAndGlyphs" >0.1</text>
<line x1="50.3" y1="647.64" x2="53.7" y2="647.64" stroke="#222" stroke-width="0.9" />
<text x="46.6" y="650.04" font-size="6.8" fill="#1e1e1e" stroke="#1e1e1e" stroke-width="0.16" text-anchor="end" textLength="8.7" lengthAdjust="spacingAndGlyphs" >0.2</text>
<line x1="50.3" y1="638.36" x2="53.7" y2="638.36" stroke="#222" stroke-width="0.9" />
<text x="46.6" y="640.76" font-size="6.8" fill="#1e1e1e" stroke="#1e1e1e" stroke-width="0.16" text-anchor="end" textLength="8.7" lengthAdjust="spacingAndGlyphs" >0.3</text>
<line x1="50.3" y1="629.08" x2="53.7" y2="629.08" stroke="#222" stroke-width="0.9" />
<text x="46.6" y="631.48" font-size="6.8" fill="#1e1e1e" stroke="#1e1e1e" stroke-width="0.16" text-anchor="end" textLength="8.7" lengthAdjust="spacingAndGlyphs" >0.4</text>
<line x1="50.3" y1="619.8" x2="53.7" y2="619.8" stroke="#222" stroke-width="0.9" />
<text x="46.6" y="622.2" font-size="6.8" fill="#1e1e1e" stroke="#1e1e1e" stroke-width="0.16" text-anchor="end" textLength="8.7" lengthAdjust="spacingAndGlyphs" >0.5</text>
<line x1="50.3" y1="610.52" x2="53.7" y2="610.52" stroke="#222" stroke-width="0.9" />
<text x="46.6" y="612.92" font-size="6.8" fill="#1e1e1e" stroke="#1e1e1e" stroke-width="0.16" text-anchor="end" textLength="8.7" lengthAdjust="spacingAndGlyphs" >0.6</text>
<line x1="50.3" y1="601.24" x2="53.7" y2="601.24" stroke="#222" stroke-width="0.9" />
<text x="46.6" y="603.64" font-size="6.8" fill="#1e1e1e" stroke="#1e1e1e" stroke-width="0.16" text-anchor="end" textLength="8.7" lengthAdjust="spacingAndGlyphs" >0.7</text>
<line x1="50.3" y1="591.96" x2="53.7" y2="591.96" stroke="#222" stroke-width="0.9" />
<text x="46.6" y="594.36" font-size="6.8" fill="#1e1e1e" stroke="#1e1e1e" stroke-width="0.16" text-anchor="end" textLength="8.7" lengthAdjust="spacingAndGlyphs" >0.8</text>
<line x1="50.3" y1="705.5" x2="53.7" y2="705.5" stroke="#222" stroke-width="0.9" />
<text x="46.6" y="707.9" font-size="6.8" fill="#1e1e1e" stroke="#1e1e1e" stroke-width="0.16" text-anchor="end" textLength="3.2" lengthAdjust="spacingAndGlyphs" >3</text>
<line x1="50.3" y1="716.1" x2="53.7" y2="716.1" stroke="#222" stroke-width="0.9" />
<text x="46.6" y="718.5" font-size="6.8" fill="#1e1e1e" stroke="#1e1e1e" stroke-width="0.16" text-anchor="end" textLength="3.2" lengthAdjust="spacingAndGlyphs" >2</text>
<line x1="50.3" y1="726.7" x2="53.7" y2="726.7" stroke="#222" stroke-width="0.9" />
<text x="46.6" y="729.1" font-size="6.8" fill="#1e1e1e" stroke="#1e1e1e" stroke-width="0.16" text-anchor="end" textLength="3.2" lengthAdjust="spacingAndGlyphs" >1</text>
<line x1="50.3" y1="737.3" x2="53.7" y2="737.3" stroke="#222" stroke-width="0.9" />
<text x="46.6" y="739.7" font-size="6.8" fill="#1e1e1e" stroke="#1e1e1e" stroke-width="0.16" text-anchor="end" textLength="3.2" lengthAdjust="spacingAndGlyphs" >0</text>
<line x1="50.3" y1="747.9" x2="53.7" y2="747.9" stroke="#222" stroke-width="0.9" />
<text x="46.6" y="750.3" font-size="6.8" fill="#1e1e1e" stroke="#1e1e1e" stroke-width="0.16" text-anchor="end" textLength="5.6" lengthAdjust="spacingAndGlyphs" >-1</text>
<line x1="53.5" y1="758.1" x2="53.5" y2="761.3" stroke="#222" stroke-width="0.9" />
<text x="53.5" y="772" font-size="6.8" fill="#1e1e1e" stroke="#1e1e1e" stroke-width="0.16" text-anchor="middle" textLength="3.4" lengthAdjust="spacingAndGlyphs" >0</text>
<line x1="80.45" y1="758.1" x2="80.45" y2="761.3" stroke="#222" stroke-width="0.9" />
<text x="80.45" y="772" font-size="6.8" fill="#1e1e1e" stroke="#1e1e1e" stroke-width="0.16" text-anchor="middle" textLength="16.6" lengthAdjust="spacingAndGlyphs" >2,500</text>
<line x1="107.4" y1="758.1" x2="107.4" y2="761.3" stroke="#222" stroke-width="0.9" />
<text x="107.4" y="772" font-size="6.8" fill="#1e1e1e" stroke="#1e1e1e" stroke-width="0.16" text-anchor="middle" textLength="16.6" lengthAdjust="spacingAndGlyphs" >5,000</text>
<line x1="134.35" y1="758.1" x2="134.35" y2="761.3" stroke="#222" stroke-width="0.9" />
<text x="134.35" y="772" font-size="6.8" fill="#1e1e1e" stroke="#1e1e1e" stroke-width="0.16" text-anchor="middle" textLength="16.6" lengthAdjust="spacingAndGlyphs" >7,500</text>
<line x1="161.3" y1="758.1" x2="161.3" y2="761.3" stroke="#222" stroke-width="0.9" />
<text x="161.3" y="772" font-size="6.8" fill="#1e1e1e" stroke="#1e1e1e" stroke-width="0.16" text-anchor="middle" textLength="20.8" lengthAdjust="spacingAndGlyphs" >10,000</text>
<line x1="188.25" y1="758.1" x2="188.25" y2="761.3" stroke="#222" stroke-width="0.9" />
<text x="188.25" y="772" font-size="6.8" fill="#1e1e1e" stroke="#1e1e1e" stroke-width="0.16" text-anchor="middle" textLength="20.8" lengthAdjust="spacingAndGlyphs" >12,500</text>
<line x1="215.2" y1="758.1" x2="215.2" y2="761.3" stroke="#222" stroke-width="0.9" />
<text x="215.2" y="772" font-size="6.8" fill="#1e1e1e" stroke="#1e1e1e" stroke-width="0.16" text-anchor="middle" textLength="20.8" lengthAdjust="spacingAndGlyphs" >15,000</text>
<line x1="242.15" y1="758.1" x2="242.15" y2="761.3" stroke="#222" stroke-width="0.9" />
<text x="242.15" y="772" font-size="6.8" fill="#1e1e1e" stroke="#1e1e1e" stroke-width="0.16" text-anchor="middle" textLength="20.8" lengthAdjust="spacingAndGlyphs" >17,500</text>
<text x="12.4" y="582.3" font-size="12.6" fill="#111" stroke="#111" stroke-width="0.16" >F</text>
<text x="76.2" y="576.6" font-size="6.8" fill="#222" stroke="#222" stroke-width="0.16" textLength="146.8" lengthAdjust="spacingAndGlyphs" >Enrichment plot: JMJD1C SGRNA DIFFERENTIAL</text>
<text x="115.4" y="584.8" font-size="6.8" fill="#222" stroke="#222" stroke-width="0.16" textLength="68.3" lengthAdjust="spacingAndGlyphs" >EXPRESSION MLL-AF9</text>
<text x="133.2" y="608.9" font-size="8.6" fill="#222" stroke="#222" stroke-width="0.16" textLength="84.6" lengthAdjust="spacingAndGlyphs" >NES=3.7 p=0.00 q=0.00</text>
<text x="99.6" y="785.6" font-size="10" fill="#222" stroke="#222" stroke-width="0.16" textLength="99.3" lengthAdjust="spacingAndGlyphs" >Rank in ordered dataset</text>
<text x="58.1" y="711" font-size="6" fill="#d0604c" stroke="#d0604c" stroke-width="0.16" textLength="72.3" lengthAdjust="spacingAndGlyphs" >'REST' (positively correlated)</text>
<text x="84.4" y="721.2" font-size="8.4" fill="#d66a52" stroke="#d66a52" stroke-width="0.16" textLength="17.5" lengthAdjust="spacingAndGlyphs" >REST</text>
<text x="134" y="733.7" font-size="6.2" fill="#222" stroke="#222" stroke-width="0.16" textLength="45.9" lengthAdjust="spacingAndGlyphs" >Zero cross at 9601</text>
<text x="150.5" y="747.5" font-size="8.4" fill="#6a5aab" stroke="#6a5aab" stroke-width="0.16" textLength="57.4" lengthAdjust="spacingAndGlyphs" >MLL-AF9 Renilla</text>
<text x="150.3" y="754.4" font-size="6.2" fill="#7564b4" stroke="#7564b4" stroke-width="0.16" textLength="68.9" lengthAdjust="spacingAndGlyphs" >'Renilla' (negatively correlated)</text>
<text x="30" y="629.1" font-size="9.6" fill="#222" stroke="#222" stroke-width="0.16" text-anchor="middle" textLength="91.9" lengthAdjust="spacingAndGlyphs" transform="rotate(-90 30 629.1)" >Enrichment score (ES)</text>
<text x="34.1" y="726.8" font-size="9.6" fill="#222" stroke="#222" stroke-width="0.16" text-anchor="middle" textLength="136.2" lengthAdjust="spacingAndGlyphs" transform="rotate(-90 34.1 726.8)" >Ranked list metric (signal2Noise)</text>
<line x1="61.3" y1="798" x2="68.3" y2="798" stroke="#7fc47f" stroke-width="1" />
<text x="71.6" y="800.1" font-size="6.2" fill="#333" stroke="#333" stroke-width="0.16" textLength="48.5" lengthAdjust="spacingAndGlyphs" >Enrichment profile</text>
<line x1="129.6" y1="798" x2="137.1" y2="798" stroke="#222" stroke-width="1.3" />
<text x="140.6" y="800.1" font-size="6.2" fill="#333" stroke="#333" stroke-width="0.16" textLength="10" lengthAdjust="spacingAndGlyphs" >Hits</text>
<line x1="162.1" y1="796.7" x2="168.3" y2="796.7" stroke="#999" stroke-width="0.8" />
<line x1="172.1" y1="799" x2="178.6" y2="799" stroke="#999" stroke-width="0.8" />
<text x="182.4" y="800.1" font-size="6.2" fill="#333" stroke="#333" stroke-width="0.16" textLength="57" lengthAdjust="spacingAndGlyphs" >Ranking metric scores</text>
<line x1="312.6" y1="646.07" x2="503.3" y2="646.07" stroke="#e4e4e4" stroke-width="0.6" stroke-dasharray="1.2 0.8"/>
<line x1="312.6" y1="634.24" x2="503.3" y2="634.24" stroke="#e4e4e4" stroke-width="0.6" stroke-dasharray="1.2 0.8"/>
<line x1="312.6" y1="622.41" x2="503.3" y2="622.41" stroke="#e4e4e4" stroke-width="0.6" stroke-dasharray="1.2 0.8"/>
<line x1="312.6" y1="610.58" x2="503.3" y2="610.58" stroke="#e4e4e4" stroke-width="0.6" stroke-dasharray="1.2 0.8"/>
<line x1="312.6" y1="598.75" x2="503.3" y2="598.75" stroke="#e4e4e4" stroke-width="0.6" stroke-dasharray="1.2 0.8"/>
<line x1="312.6" y1="586.92" x2="503.3" y2="586.92" stroke="#e4e4e4" stroke-width="0.6" stroke-dasharray="1.2 0.8"/>
<line x1="341.2" y1="581.3" x2="341.2" y2="664.3" stroke="#e4e4e4" stroke-width="0.6" stroke-dasharray="1.2 0.8"/>
<line x1="341.2" y1="701.8" x2="341.2" y2="756.5" stroke="#e4e4e4" stroke-width="0.6" stroke-dasharray="1.2 0.8"/>
<line x1="371" y1="581.3" x2="371" y2="664.3" stroke="#e4e4e4" stroke-width="0.6" stroke-dasharray="1.2 0.8"/>
<line x1="371" y1="701.8" x2="371" y2="756.5" stroke="#e4e4e4" stroke-width="0.6" stroke-dasharray="1.2 0.8"/>
<line x1="400.8" y1="581.3" x2="400.8" y2="664.3" stroke="#e4e4e4" stroke-width="0.6" stroke-dasharray="1.2 0.8"/>
<line x1="400.8" y1="701.8" x2="400.8" y2="756.5" stroke="#e4e4e4" stroke-width="0.6" stroke-dasharray="1.2 0.8"/>
<line x1="430.6" y1="581.3" x2="430.6" y2="664.3" stroke="#e4e4e4" stroke-width="0.6" stroke-dasharray="1.2 0.8"/>
<line x1="430.6" y1="701.8" x2="430.6" y2="756.5" stroke="#e4e4e4" stroke-width="0.6" stroke-dasharray="1.2 0.8"/>
<line x1="460.4" y1="581.3" x2="460.4" y2="664.3" stroke="#e4e4e4" stroke-width="0.6" stroke-dasharray="1.2 0.8"/>
<line x1="460.4" y1="701.8" x2="460.4" y2="756.5" stroke="#e4e4e4" stroke-width="0.6" stroke-dasharray="1.2 0.8"/>
<line x1="490.2" y1="581.3" x2="490.2" y2="664.3" stroke="#e4e4e4" stroke-width="0.6" stroke-dasharray="1.2 0.8"/>
<line x1="490.2" y1="701.8" x2="490.2" y2="756.5" stroke="#e4e4e4" stroke-width="0.6" stroke-dasharray="1.2 0.8"/>
<line x1="312.6" y1="710.7" x2="503.3" y2="710.7" stroke="#e6e6e6" stroke-width="0.6" stroke-dasharray="1.2 0.8"/>
<line x1="312.6" y1="735.3" x2="503.3" y2="735.3" stroke="#e6e6e6" stroke-width="0.6" stroke-dasharray="1.2 0.8"/>
<line x1="312.6" y1="747.6" x2="503.3" y2="747.6" stroke="#e6e6e6" stroke-width="0.6" stroke-dasharray="1.2 0.8"/>
<line x1="311.6" y1="657.9" x2="504.3" y2="657.9" stroke="#cbcbcb" stroke-width="1.1" />
<line x1="311.6" y1="664.3" x2="504.3" y2="664.3" stroke="#d8d8d8" stroke-width="1.2" />
<line x1="311.6" y1="693.8" x2="504.3" y2="693.8" stroke="#d8d8d8" stroke-width="0.8" />
<line x1="311.6" y1="701.3" x2="504.3" y2="701.3" stroke="#d8d8d8" stroke-width="1" />
<path d="M311.9 654.35 L312.5 644.06 L313.7 630.22 L315.4 620.04 L316.5 614.13 L318.3 606.08 L319.4 600.88 L320.6 596.74 L322.3 593.9 L325.2 593.07 L328.1 592.01 L331 592.01 L333.3 589.88 L335.6 586.09 L337.3 586.09 L341.9 584.67 L345.4 584.91 L351.1 586.09 L355.7 587.75 L360.4 590.82 L363.8 591.89 L370.8 595.2 L378.5 600.05 L388 606.68 L397.7 612.47 L407.3 618.27 L416.9 623.95 L426.5 629.39 L435.8 633.41 L440.1 636.01 L447.3 638.14 L453.1 640.98 L461.7 646.07 L464.6 646.42 L473.3 651.87 L480.5 655.06 L487.7 659.44 L491.3 661.21 L493.5 660.15 L494.9 657.55" fill="none" stroke="#179a3c" stroke-width="1.7" stroke-linejoin="round" stroke-linecap="round"/>
<rect x="312.2" y="666.3" width="3" height="27.5" fill="#151515" />
<path d="M315 666.3h1V693.8h-1zM317 666.3h1V693.8h-1zM323 666.3h1V693.8h-1zM324 666.3h1V693.8h-1zM325 666.3h1V693.8h-1zM326 666.3h1V693.8h-1zM336 666.3h1V693.8h-1zM339 666.3h1V693.8h-1zM340 666.3h1V693.8h-1zM341 666.3h1V693.8h-1zM464 666.3h1V693.8h-1zM465 666.3h1V693.8h-1zM466 666.3h1V693.8h-1zM484 666.3h1V693.8h-1z" fill="#111" stroke="none" stroke-width="1" />
<path d="M316 666.3h1V693.8h-1zM319 666.3h1V693.8h-1zM321 666.3h1V693.8h-1zM328 666.3h1V693.8h-1zM329 666.3h1V693.8h-1zM330 666.3h1V693.8h-1zM331 666.3h1V693.8h-1zM345 666.3h1V693.8h-1zM379 666.3h1V693.8h-1zM415 666.3h1V693.8h-1zM419 666.3h1V693.8h-1zM489 666.3h1V693.8h-1z" fill="#1c1c1c" stroke="none" stroke-width="1" />
<path d="M318 666.3h1V693.8h-1zM320 666.3h1V693.8h-1zM334 666.3h1V693.8h-1zM353 666.3h1V693.8h-1zM430 666.3h1V693.8h-1zM447 666.3h1V693.8h-1zM448 666.3h1V693.8h-1zM453 666.3h1V693.8h-1z" fill="#262626" stroke="none" stroke-width="1" />
<path d="M322 666.3h1V693.8h-1zM335 666.3h1V693.8h-1zM348 666.3h1V693.8h-1zM355 666.3h1V693.8h-1zM356 666.3h1V693.8h-1zM357 666.3h1V693.8h-1zM362 666.3h1V693.8h-1zM363 666.3h1V693.8h-1zM376 666.3h1V693.8h-1zM455 666.3h1V693.8h-1z" fill="#333" stroke="none" stroke-width="1" />
<path d="M327 666.3h1V693.8h-1zM333 666.3h1V693.8h-1zM349 666.3h1V693.8h-1zM350 666.3h1V693.8h-1zM354 666.3h1V693.8h-1zM367 666.3h1V693.8h-1zM369 666.3h1V693.8h-1zM384 666.3h1V693.8h-1zM387 666.3h1V693.8h-1zM390 666.3h1V693.8h-1zM391 666.3h1V693.8h-1zM403 666.3h1V693.8h-1zM404 666.3h1V693.8h-1zM436 666.3h1V693.8h-1zM442 666.3h1V693.8h-1zM477 666.3h1V693.8h-1zM490 666.3h1V693.8h-1zM492 666.3h1V693.8h-1z" fill="#808080" stroke="none" stroke-width="1" />
<path d="M342 666.3h1V693.8h-1zM368 666.3h1V693.8h-1zM410 666.3h1V693.8h-1zM426 666.3h1V693.8h-1zM438 666.3h1V693.8h-1zM444 666.3h1V693.8h-1zM446 666.3h1V693.8h-1zM483 666.3h1V693.8h-1z" fill="#cdcdcd" stroke="none" stroke-width="1" />
<path d="M346 666.3h1V693.8h-1zM347 666.3h1V693.8h-1zM370 666.3h1V693.8h-1zM371 666.3h1V693.8h-1zM406 666.3h1V693.8h-1zM412 666.3h1V693.8h-1zM416 666.3h1V693.8h-1zM421 666.3h1V693.8h-1zM461 666.3h1V693.8h-1zM472 666.3h1V693.8h-1zM486 666.3h1V693.8h-1zM487 666.3h1V693.8h-1z" fill="#939393" stroke="none" stroke-width="1" />
<path d="M351 666.3h1V693.8h-1zM352 666.3h1V693.8h-1zM361 666.3h1V693.8h-1zM364 666.3h1V693.8h-1zM365 666.3h1V693.8h-1zM366 666.3h1V693.8h-1zM408 666.3h1V693.8h-1zM409 666.3h1V693.8h-1zM468 666.3h1V693.8h-1zM469 666.3h1V693.8h-1zM480 666.3h1V693.8h-1z" fill="#bcbcbc" stroke="none" stroke-width="1" />
<path d="M372 666.3h1V693.8h-1zM373 666.3h1V693.8h-1zM374 666.3h1V693.8h-1zM382 666.3h1V693.8h-1zM383 666.3h1V693.8h-1zM395 666.3h1V693.8h-1zM396 666.3h1V693.8h-1zM405 666.3h1V693.8h-1zM425 666.3h1V693.8h-1zM462 666.3h1V693.8h-1zM467 666.3h1V693.8h-1zM474 666.3h1V693.8h-1z" fill="#a8a8a8" stroke="none" stroke-width="1" />
<path d="M375 666.3h1V693.8h-1zM420 666.3h1V693.8h-1zM427 666.3h1V693.8h-1zM431 666.3h1V693.8h-1zM432 666.3h1V693.8h-1zM433 666.3h1V693.8h-1zM493 666.3h1V693.8h-1z" fill="#6e6e6e" stroke="none" stroke-width="1" />
<path d="M377 666.3h1V693.8h-1zM401 666.3h1V693.8h-1zM413 666.3h1V693.8h-1zM414 666.3h1V693.8h-1zM449 666.3h1V693.8h-1zM451 666.3h1V693.8h-1zM473 666.3h1V693.8h-1z" fill="#5a5a5a" stroke="none" stroke-width="1" />
<rect x="311.6" y="693.8" width="1.59" height="7" fill="#b23532" />
<rect x="313.09" y="693.8" width="1.59" height="7" fill="#c64842" />
<rect x="314.57" y="693.8" width="1.58" height="7" fill="#d15a54" />
<rect x="316.06" y="693.8" width="1.59" height="7" fill="#d45e5a" />
<rect x="317.54" y="693.8" width="1.59" height="7" fill="#d7625e" />
<rect x="319.03" y="693.8" width="1.58" height="7" fill="#d96664" />
<rect x="320.51" y="693.8" width="1.59" height="7" fill="#dc6a68" />
<rect x="322" y="693.8" width="1.59" height="7" fill="#df6e6e" />
<rect x="323.48" y="693.8" width="1.59" height="7" fill="#e47575" />
<rect x="324.97" y="693.8" width="1.59" height="7" fill="#e57676" />
<rect x="326.45" y="693.8" width="1.58" height="7" fill="#e57777" />
<rect x="327.94" y="693.8" width="1.59" height="7" fill="#e67878" />
<rect x="329.42" y="693.8" width="1.59" height="7" fill="#e67979" />
<rect x="330.91" y="693.8" width="1.58" height="7" fill="#e67a7a" />
<rect x="332.39" y="693.8" width="1.59" height="7" fill="#e77b7b" />
<rect x="333.88" y="693.8" width="1.59" height="7" fill="#e77c7c" />
<rect x="335.36" y="693.8" width="1.59" height="7" fill="#e87e7e" />
<rect x="336.85" y="693.8" width="1.59" height="7" fill="#e87f7f" />
<rect x="338.33" y="693.8" width="1.58" height="7" fill="#e98080" />
<rect x="339.81" y="693.8" width="1.59" height="7" fill="#e98181" />
<rect x="341.3" y="693.8" width="1.59" height="7" fill="#e98282" />
<rect x="342.79" y="693.8" width="1.58" height="7" fill="#ea8383" />
<rect x="344.27" y="693.8" width="1.59" height="7" fill="#ea8484" />
<rect x="345.75" y="693.8" width="1.59" height="7" fill="#eb8585" />
<rect x="347.24" y="693.8" width="1.59" height="7" fill="#eb8787" />
<rect x="348.73" y="693.8" width="1.59" height="7" fill="#ec8888" />
<rect x="350.21" y="693.8" width="1.58" height="7" fill="#ec8989" />
<rect x="351.69" y="693.8" width="1.59" height="7" fill="#ed8a8a" />
<rect x="353.18" y="693.8" width="1.59" height="7" fill="#ed8b8b" />
<rect x="354.67" y="693.8" width="1.58" height="7" fill="#ed8c8c" />
<rect x="356.15" y="693.8" width="1.59" height="7" fill="#ee8d8d" />
<rect x="357.63" y="693.8" width="1.59" height="7" fill="#ee8e8e" />
<rect x="359.12" y="693.8" width="1.59" height="7" fill="#ef9090" />
<rect x="360.61" y="693.8" width="1.59" height="7" fill="#ef9191" />
<rect x="362.09" y="693.8" width="1.58" height="7" fill="#f09292" />
<rect x="363.57" y="693.8" width="1.59" height="7" fill="#f09393" />
<rect x="365.06" y="693.8" width="1.59" height="7" fill="#f09494" />
<rect x="366.55" y="693.8" width="1.58" height="7" fill="#f19595" />
<rect x="368.03" y="693.8" width="1.59" height="7" fill="#f19696" />
<rect x="369.51" y="693.8" width="1.59" height="7" fill="#f29797" />
<rect x="371" y="693.8" width="2.18" height="7" fill="#f3cad9" />
<rect x="373.13" y="693.8" width="2.18" height="7" fill="#f3c9d8" />
<rect x="375.26" y="693.8" width="2.18" height="7" fill="#f2c8d8" />
<rect x="377.39" y="693.8" width="2.18" height="7" fill="#f2c7d7" />
<rect x="379.52" y="693.8" width="2.18" height="7" fill="#f2c6d7" />
<rect x="381.66" y="693.8" width="2.18" height="7" fill="#f1c6d6" />
<rect x="383.79" y="693.8" width="2.18" height="7" fill="#f1c5d6" />
<rect x="385.92" y="693.8" width="2.18" height="7" fill="#f1c4d5" />
<rect x="388.05" y="693.8" width="2.18" height="7" fill="#f1c3d5" />
<rect x="390.18" y="693.8" width="2.18" height="7" fill="#f0c3d4" />
<rect x="392.31" y="693.8" width="2.18" height="7" fill="#f0c2d4" />
<rect x="394.44" y="693.8" width="2.18" height="7" fill="#f0c1d3" />
<rect x="396.57" y="693.8" width="2.18" height="7" fill="#efc0d3" />
<rect x="398.7" y="693.8" width="2.18" height="7" fill="#efbfd2" />
<rect x="400.84" y="693.8" width="2.08" height="7" fill="#dfd8ef" />
<rect x="402.87" y="693.8" width="2.08" height="7" fill="#ded7ee" />
<rect x="404.9" y="693.8" width="2.08" height="7" fill="#ddd6ee" />
<rect x="406.93" y="693.8" width="2.08" height="7" fill="#dcd5ed" />
<rect x="408.96" y="693.8" width="2.08" height="7" fill="#dbd4ec" />
<rect x="410.99" y="693.8" width="2.08" height="7" fill="#dad3ec" />
<rect x="413.02" y="693.8" width="2.08" height="7" fill="#d9d2eb" />
<rect x="415.05" y="693.8" width="2.08" height="7" fill="#d8d1eb" />
<rect x="417.08" y="693.8" width="2.08" height="7" fill="#d7d0ea" />
<rect x="419.12" y="693.8" width="2.08" height="7" fill="#d6ceea" />
<rect x="421.15" y="693.8" width="2.08" height="7" fill="#d5cde9" />
<rect x="423.18" y="693.8" width="2.08" height="7" fill="#d4cce9" />
<rect x="425.21" y="693.8" width="2.08" height="7" fill="#d3cbe8" />
<rect x="427.24" y="693.8" width="2.08" height="7" fill="#d2cae8" />
<rect x="429.27" y="693.8" width="2.08" height="7" fill="#d1c9e7" />
<rect x="431.3" y="693.8" width="2.08" height="7" fill="#d0c8e6" />
<rect x="433.33" y="693.8" width="2.08" height="7" fill="#cfc7e6" />
<rect x="435.36" y="693.8" width="2.08" height="7" fill="#cec6e5" />
<rect x="437.39" y="693.8" width="2.2" height="7" fill="#a89ed1" />
<rect x="439.54" y="693.8" width="2.2" height="7" fill="#a59bd0" />
<rect x="441.69" y="693.8" width="2.2" height="7" fill="#a398cf" />
<rect x="443.84" y="693.8" width="2.2" height="7" fill="#a096ce" />
<rect x="445.99" y="693.8" width="2.2" height="7" fill="#9e93cc" />
<rect x="448.14" y="693.8" width="2.2" height="7" fill="#9b91cb" />
<rect x="450.29" y="693.8" width="2.2" height="7" fill="#998eca" />
<rect x="452.44" y="693.8" width="2.2" height="7" fill="#968bc9" />
<rect x="454.59" y="693.8" width="2.14" height="7" fill="#897bc0" />
<rect x="456.68" y="693.8" width="2.14" height="7" fill="#887abf" />
<rect x="458.77" y="693.8" width="2.14" height="7" fill="#8678be" />
<rect x="460.86" y="693.8" width="2.14" height="7" fill="#8576bd" />
<rect x="462.94" y="693.8" width="2.14" height="7" fill="#8374bc" />
<rect x="465.03" y="693.8" width="2.14" height="7" fill="#8273bc" />
<rect x="467.12" y="693.8" width="2.14" height="7" fill="#8071bb" />
<rect x="469.2" y="693.8" width="2.14" height="7" fill="#7f70ba" />
<rect x="471.29" y="693.8" width="2.14" height="7" fill="#7e6eb9" />
<rect x="473.38" y="693.8" width="2.14" height="7" fill="#7c6cb8" />
<rect x="475.46" y="693.8" width="2.14" height="7" fill="#7b6ab8" />
<rect x="477.55" y="693.8" width="2.14" height="7" fill="#7969b7" />
<rect x="479.64" y="693.8" width="2.14" height="7" fill="#7867b6" />
<rect x="481.72" y="693.8" width="2.14" height="7" fill="#7666b5" />
<rect x="483.81" y="693.8" width="2.14" height="7" fill="#7564b4" />
<rect x="485.9" y="693.8" width="2.32" height="7" fill="#53308e" />
<rect x="488.16" y="693.8" width="2.32" height="7" fill="#502b8d" />
<rect x="490.43" y="693.8" width="2.32" height="7" fill="#4c278c" />
<rect x="492.7" y="693.8" width="2.32" height="7" fill="#49228b" />
<path d="M312.2 723 L311.4 705.53 L312.55 710.85 L313.69 711.62 L314.84 712.39 L315.99 712.85 L317.14 713.24 L318.28 713.62 L319.43 714.01 L320.58 714.39 L321.73 714.64 L322.87 714.89 L324.02 715.14 L325.17 715.39 L326.31 715.64 L327.46 715.89 L328.61 716.17 L329.76 716.45 L330.9 716.73 L332.05 717.01 L333.2 717.29 L334.35 717.5 L335.49 717.69 L336.64 717.88 L337.79 718.07 L338.94 718.26 L340.08 718.46 L341.23 718.65 L342.38 718.83 L343.52 718.92 L344.67 719.02 L345.82 719.11 L346.97 719.2 L348.11 719.3 L349.26 719.39 L350.41 719.49 L351.56 719.58 L352.7 719.67 L353.85 719.77 L355 719.86 L356.14 719.95 L357.29 720.05 L358.44 720.11 L359.59 720.17 L360.73 720.24 L361.88 720.3 L363.03 720.36 L364.18 720.43 L365.32 720.49 L366.47 720.55 L367.62 720.61 L368.76 720.68 L369.91 720.74 L371.06 720.8 L372.21 720.87 L373.35 720.93 L374.5 720.99 L375.65 721.05 L376.8 721.12 L377.94 721.19 L379.09 721.28 L380.24 721.37 L381.39 721.45 L382.53 721.54 L383.68 721.63 L384.83 721.72 L385.97 721.81 L387.12 721.89 L388.27 721.98 L389.42 722.07 L390.56 722.16 L391.71 722.25 L392.86 722.35 L394.01 722.44 L395.15 722.54 L396.3 722.63 L397.45 722.72 L398.59 722.82 L399.74 722.91 L400.89 723 L402.04 723.05 L403.18 723.1 L404.33 723.15 L405.48 723.2 L406.63 723.25 L407.77 723.3 L408.92 723.35 L410.07 723.39 L411.22 723.44 L412.36 723.49 L413.51 723.54 L414.66 723.58 L415.8 723.63 L416.95 723.68 L418.1 723.72 L419.25 723.77 L420.39 723.81 L421.54 723.86 L422.69 723.9 L423.84 723.94 L424.98 723.98 L426.13 724.01 L427.28 724.05 L428.42 724.09 L429.57 724.13 L430.72 724.17 L431.87 724.21 L433.01 724.25 L434.16 724.28 L435.31 724.32 L436.46 724.36 L437.6 724.4 L438.75 724.44 L439.9 724.48 L441.04 724.51 L442.19 724.55 L443.34 724.59 L444.49 724.63 L445.63 724.67 L446.78 724.71 L447.93 724.75 L449.08 724.78 L450.22 724.82 L451.37 724.86 L452.52 724.9 L453.67 724.94 L454.81 724.98 L455.96 725.01 L457.11 725.05 L458.25 725.09 L459.4 725.15 L460.55 725.21 L461.7 725.26 L462.84 725.32 L463.99 725.38 L465.14 725.44 L466.29 725.49 L467.43 725.55 L468.58 725.61 L469.73 725.67 L470.87 725.73 L472.02 725.78 L473.17 725.85 L474.32 725.96 L475.46 726.07 L476.61 726.17 L477.76 726.28 L478.91 726.39 L480.05 726.5 L481.2 726.6 L482.35 726.74 L483.5 727 L484.64 727.25 L485.79 727.51 L486.94 727.77 L488.08 728.15 L489.23 728.73 L490.38 729.3 L491.53 730.15 L492.67 732.07 L493.82 736.68 L494.97 751.29 L494.97 723 Z" fill="#c3c0be" stroke="none" stroke-width="1" />
<line x1="400.84" y1="693.8" x2="400.84" y2="756.5" stroke="#b8b8c8" stroke-width="0.7" stroke-dasharray="1.4 1"/>
<rect x="311.6" y="580.3" width="192.7" height="177.2" fill="none" stroke="#111" stroke-width="1.25"/>
<line x1="308.2" y1="657.9" x2="311.6" y2="657.9" stroke="#222" stroke-width="0.9" />
<text x="304.4" y="660.3" font-size="6.8" fill="#1e1e1e" stroke="#1e1e1e" stroke-width="0.16" text-anchor="end" textLength="8.7" lengthAdjust="spacingAndGlyphs" >0.0</text>
<line x1="308.2" y1="646.07" x2="311.6" y2="646.07" stroke="#222" stroke-width="0.9" />
<text x="304.4" y="648.47" font-size="6.8" fill="#1e1e1e" stroke="#1e1e1e" stroke-width="0.16" text-anchor="end" textLength="8.7" lengthAdjust="spacingAndGlyphs" >0.1</text>
<line x1="308.2" y1="634.24" x2="311.6" y2="634.24" stroke="#222" stroke-width="0.9" />
<text x="304.4" y="636.64" font-size="6.8" fill="#1e1e1e" stroke="#1e1e1e" stroke-width="0.16" text-anchor="end" textLength="8.7" lengthAdjust="spacingAndGlyphs" >0.2</text>
<line x1="308.2" y1="622.41" x2="311.6" y2="622.41" stroke="#222" stroke-width="0.9" />
<text x="304.4" y="624.81" font-size="6.8" fill="#1e1e1e" stroke="#1e1e1e" stroke-width="0.16" text-anchor="end" textLength="8.7" lengthAdjust="spacingAndGlyphs" >0.3</text>
<line x1="308.2" y1="610.58" x2="311.6" y2="610.58" stroke="#222" stroke-width="0.9" />
<text x="304.4" y="612.98" font-size="6.8" fill="#1e1e1e" stroke="#1e1e1e" stroke-width="0.16" text-anchor="end" textLength="8.7" lengthAdjust="spacingAndGlyphs" >0.4</text>
<line x1="308.2" y1="598.75" x2="311.6" y2="598.75" stroke="#222" stroke-width="0.9" />
<text x="304.4" y="601.15" font-size="6.8" fill="#1e1e1e" stroke="#1e1e1e" stroke-width="0.16" text-anchor="end" textLength="8.7" lengthAdjust="spacingAndGlyphs" >0.5</text>
<line x1="308.2" y1="586.92" x2="311.6" y2="586.92" stroke="#222" stroke-width="0.9" />
<text x="304.4" y="589.32" font-size="6.8" fill="#1e1e1e" stroke="#1e1e1e" stroke-width="0.16" text-anchor="end" textLength="8.7" lengthAdjust="spacingAndGlyphs" >0.6</text>
<line x1="308.2" y1="710.7" x2="311.6" y2="710.7" stroke="#222" stroke-width="0.9" />
<text x="304.4" y="713.1" font-size="6.8" fill="#1e1e1e" stroke="#1e1e1e" stroke-width="0.16" text-anchor="end" textLength="3.2" lengthAdjust="spacingAndGlyphs" >1</text>
<line x1="308.2" y1="723" x2="311.6" y2="723" stroke="#222" stroke-width="0.9" />
<text x="304.4" y="725.4" font-size="6.8" fill="#1e1e1e" stroke="#1e1e1e" stroke-width="0.16" text-anchor="end" textLength="3.2" lengthAdjust="spacingAndGlyphs" >0</text>
<line x1="308.2" y1="735.3" x2="311.6" y2="735.3" stroke="#222" stroke-width="0.9" />
<text x="304.4" y="737.7" font-size="6.8" fill="#1e1e1e" stroke="#1e1e1e" stroke-width="0.16" text-anchor="end" textLength="5.6" lengthAdjust="spacingAndGlyphs" >-1</text>
<line x1="308.2" y1="747.6" x2="311.6" y2="747.6" stroke="#222" stroke-width="0.9" />
<text x="304.4" y="750" font-size="6.8" fill="#1e1e1e" stroke="#1e1e1e" stroke-width="0.16" text-anchor="end" textLength="5.6" lengthAdjust="spacingAndGlyphs" >-2</text>
<line x1="311.4" y1="757.5" x2="311.4" y2="760.7" stroke="#222" stroke-width="0.9" />
<text x="311.4" y="772" font-size="6.8" fill="#1e1e1e" stroke="#1e1e1e" stroke-width="0.16" text-anchor="middle" textLength="3.4" lengthAdjust="spacingAndGlyphs" >0</text>
<line x1="341.2" y1="757.5" x2="341.2" y2="760.7" stroke="#222" stroke-width="0.9" />
<text x="341.2" y="772" font-size="6.8" fill="#1e1e1e" stroke="#1e1e1e" stroke-width="0.16" text-anchor="middle" textLength="16.6" lengthAdjust="spacingAndGlyphs" >2,500</text>
<line x1="371" y1="757.5" x2="371" y2="760.7" stroke="#222" stroke-width="0.9" />
<text x="371" y="772" font-size="6.8" fill="#1e1e1e" stroke="#1e1e1e" stroke-width="0.16" text-anchor="middle" textLength="16.6" lengthAdjust="spacingAndGlyphs" >5,000</text>
<line x1="400.8" y1="757.5" x2="400.8" y2="760.7" stroke="#222" stroke-width="0.9" />
<text x="400.8" y="772" font-size="6.8" fill="#1e1e1e" stroke="#1e1e1e" stroke-width="0.16" text-anchor="middle" textLength="16.6" lengthAdjust="spacingAndGlyphs" >7,500</text>
<line x1="430.6" y1="757.5" x2="430.6" y2="760.7" stroke="#222" stroke-width="0.9" />
<text x="430.6" y="772" font-size="6.8" fill="#1e1e1e" stroke="#1e1e1e" stroke-width="0.16" text-anchor="middle" textLength="20.8" lengthAdjust="spacingAndGlyphs" >10,000</text>
<line x1="460.4" y1="757.5" x2="460.4" y2="760.7" stroke="#222" stroke-width="0.9" />
<text x="460.4" y="772" font-size="6.8" fill="#1e1e1e" stroke="#1e1e1e" stroke-width="0.16" text-anchor="middle" textLength="20.8" lengthAdjust="spacingAndGlyphs" >12,500</text>
<line x1="490.2" y1="757.5" x2="490.2" y2="760.7" stroke="#222" stroke-width="0.9" />
<text x="490.2" y="772" font-size="6.8" fill="#1e1e1e" stroke="#1e1e1e" stroke-width="0.16" text-anchor="middle" textLength="20.8" lengthAdjust="spacingAndGlyphs" >15,000</text>
<text x="351.5" y="574.5" font-size="6.8" fill="#222" stroke="#222" stroke-width="0.16" textLength="112.1" lengthAdjust="spacingAndGlyphs" >Enrichment plot: HOXA9_DN.V1_UP</text>
<text x="396.9" y="598.8" font-size="8.6" fill="#222" stroke="#222" stroke-width="0.16" textLength="89.5" lengthAdjust="spacingAndGlyphs" >NES=1.76 p=0.01 q=0.03</text>
<text x="357.8" y="785.6" font-size="10" fill="#222" stroke="#222" stroke-width="0.16" textLength="99.1" lengthAdjust="spacingAndGlyphs" >Rank in ordered dataset</text>
<text x="316.2" y="707.5" font-size="6" fill="#d0604c" stroke="#d0604c" stroke-width="0.16" textLength="72.6" lengthAdjust="spacingAndGlyphs" >'REST' (positively correlated)</text>
<text x="342.9" y="718" font-size="8.4" fill="#d66a52" stroke="#d66a52" stroke-width="0.16" textLength="18.3" lengthAdjust="spacingAndGlyphs" >REST</text>
<text x="380.7" y="732.1" font-size="6.2" fill="#222" stroke="#222" stroke-width="0.16" textLength="47.7" lengthAdjust="spacingAndGlyphs" >Zero cross at 7503</text>
<text x="411.4" y="747.4" font-size="8.4" fill="#6a5aab" stroke="#6a5aab" stroke-width="0.16" textLength="57.9" lengthAdjust="spacingAndGlyphs" >MLL-AF9 Renilla</text>
<text x="388" y="754.3" font-size="6.2" fill="#7564b4" stroke="#7564b4" stroke-width="0.16" textLength="105.4" lengthAdjust="spacingAndGlyphs" >'MLL_AF9_renilla' (negatively correlated)</text>
<text x="289" y="622.8" font-size="9.6" fill="#222" stroke="#222" stroke-width="0.16" text-anchor="middle" textLength="91.6" lengthAdjust="spacingAndGlyphs" transform="rotate(-90 289 622.8)" >Enrichment score (ES)</text>
<text x="292" y="727.3" font-size="9.6" fill="#222" stroke="#222" stroke-width="0.16" text-anchor="middle" textLength="141.1" lengthAdjust="spacingAndGlyphs" transform="rotate(-90 292 727.3)" >Ranked list metric (signal2Noise)</text>
<line x1="315.8" y1="798" x2="322.8" y2="798" stroke="#7fc47f" stroke-width="1" />
<text x="326.1" y="800.1" font-size="6.2" fill="#333" stroke="#333" stroke-width="0.16" textLength="48.5" lengthAdjust="spacingAndGlyphs" >Enrichment profile</text>
<line x1="384.1" y1="798" x2="391.6" y2="798" stroke="#222" stroke-width="1.3" />
<text x="395.1" y="800.1" font-size="6.2" fill="#333" stroke="#333" stroke-width="0.16" textLength="10" lengthAdjust="spacingAndGlyphs" >Hits</text>
<line x1="416.6" y1="796.7" x2="422.8" y2="796.7" stroke="#999" stroke-width="0.8" />
<line x1="426.6" y1="799" x2="433.1" y2="799" stroke="#999" stroke-width="0.8" />
<text x="436.9" y="800.1" font-size="6.2" fill="#333" stroke="#333" stroke-width="0.16" textLength="57" lengthAdjust="spacingAndGlyphs" >Ranking metric scores</text>
<rect x="0" y="0" width="520" height="2" fill="#555" />
<rect x="0" y="812" width="520" height="2" fill="#555" />
<rect x="0" y="0" width="1.3" height="814" fill="#000" />
<rect x="518.7" y="0" width="1.3" height="814" fill="#000" /></svg></body></html>
